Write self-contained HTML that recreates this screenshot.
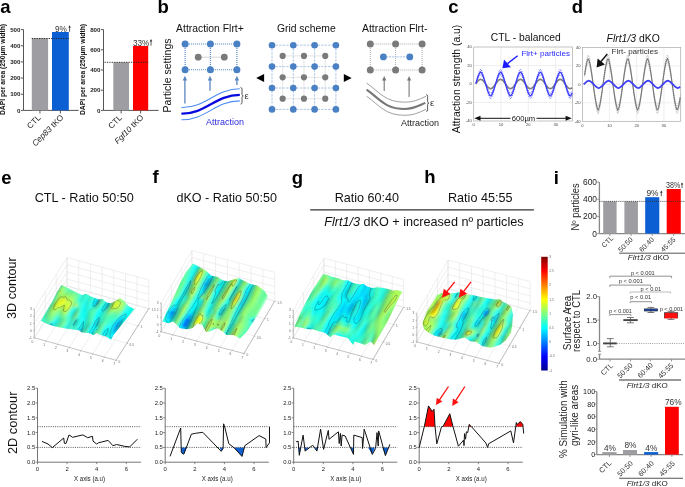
<!DOCTYPE html>
<html><head><meta charset="utf-8"><style>
html,body{margin:0;padding:0;background:#fff;}
svg{display:block;font-family:"Liberation Sans", sans-serif;will-change:transform;}
</style></head><body>
<svg width="685" height="487" viewBox="0 0 685 487">
<defs><filter id="sblur" x="-5%" y="-5%" width="110%" height="110%"><feGaussianBlur stdDeviation="0.85"/></filter><clipPath id="clipe"><path d="M40.9,320.7 L46.0,312.0 L52.0,302.0 L57.0,292.0 L61.4,284.9 L66.0,287.0 L71.6,290.0 L77.0,292.8 L81.8,295.1 L86.2,293.7 L90.5,296.2 L94.9,298.1 L99.3,299.5 L102.2,298.8 L106.6,302.4 L111.0,303.2 L115.4,301.0 L119.8,298.1 L124.1,301.0 L128.5,306.1 L134.4,309.0 L130.0,314.5 L125.6,320.0 L119.5,327.5 L113.9,334.6 L111.0,339.7 L106.6,336.7 L102.5,335.5 L99.3,334.6 L96.4,333.1 L93.5,335.3 L90.5,333.5 L87.6,333.1 L81.8,332.4 L78.9,330.2 L73.0,329.5 L67.2,328.7 L60.0,327.5 L52.6,325.8 L46.0,323.5 Z"/></clipPath><linearGradient id="ge0" gradientUnits="userSpaceOnUse" x1="-0.08" y1="0" x2="1.08" y2="0"><stop offset=".000" stop-color="#1df2d5"/><stop offset=".025" stop-color="#2cf2c5"/><stop offset=".050" stop-color="#38fcc4"/><stop offset=".075" stop-color="#35ffd2"/><stop offset=".100" stop-color="#31e4b3"/><stop offset=".125" stop-color="#47ffb7"/><stop offset=".150" stop-color="#52ee9c"/><stop offset=".175" stop-color="#52ffd2"/><stop offset=".200" stop-color="#20fedd"/><stop offset=".225" stop-color="#1dffe6"/><stop offset=".250" stop-color="#29cfa6"/><stop offset=".275" stop-color="#52f8a6"/><stop offset=".300" stop-color="#63ef8b"/><stop offset=".325" stop-color="#67ffbd"/><stop offset=".350" stop-color="#3affd2"/><stop offset=".375" stop-color="#17fffe"/><stop offset=".400" stop-color="#1fcbab"/><stop offset=".425" stop-color="#55ffb0"/><stop offset=".450" stop-color="#31ffe9"/><stop offset=".475" stop-color="#27fad2"/><stop offset=".500" stop-color="#26ffee"/><stop offset=".525" stop-color="#00ffff"/><stop offset=".550" stop-color="#00bbbf"/><stop offset=".575" stop-color="#31e3b2"/><stop offset=".600" stop-color="#55de88"/><stop offset=".625" stop-color="#58ffcc"/><stop offset=".650" stop-color="#14fffd"/><stop offset=".675" stop-color="#00ffff"/><stop offset=".700" stop-color="#09ccc2"/><stop offset=".725" stop-color="#33e3b0"/><stop offset=".750" stop-color="#5fd97a"/><stop offset=".775" stop-color="#70ffb4"/><stop offset=".800" stop-color="#37ffda"/><stop offset=".825" stop-color="#0fffff"/><stop offset=".850" stop-color="#0fe3d4"/><stop offset=".875" stop-color="#1fffec"/><stop offset=".900" stop-color="#0ffff0"/><stop offset=".925" stop-color="#17fee6"/><stop offset=".950" stop-color="#17fbe4"/><stop offset=".975" stop-color="#19fde4"/><stop offset="1.000" stop-color="#1bfde2"/></linearGradient><linearGradient id="ge1" gradientUnits="userSpaceOnUse" x1="-0.08" y1="0" x2="1.08" y2="0"><stop offset=".000" stop-color="#1af8dd"/><stop offset=".025" stop-color="#25f1cb"/><stop offset=".050" stop-color="#33f8c5"/><stop offset=".075" stop-color="#35ffd0"/><stop offset=".100" stop-color="#33f0bc"/><stop offset=".125" stop-color="#34fcc7"/><stop offset=".150" stop-color="#4ee192"/><stop offset=".175" stop-color="#3effe7"/><stop offset=".200" stop-color="#00dffc"/><stop offset=".225" stop-color="#06e7e1"/><stop offset=".250" stop-color="#1ed6b7"/><stop offset=".275" stop-color="#3cefb2"/><stop offset=".300" stop-color="#5ae086"/><stop offset=".325" stop-color="#71ffad"/><stop offset=".350" stop-color="#50ffc5"/><stop offset=".375" stop-color="#1effff"/><stop offset=".400" stop-color="#1dd0b3"/><stop offset=".425" stop-color="#53ffc0"/><stop offset=".450" stop-color="#2affda"/><stop offset=".475" stop-color="#32f6c4"/><stop offset=".500" stop-color="#2ffff2"/><stop offset=".525" stop-color="#00eaff"/><stop offset=".550" stop-color="#008ebf"/><stop offset=".575" stop-color="#26d2ac"/><stop offset=".600" stop-color="#4ed384"/><stop offset=".625" stop-color="#50ffd4"/><stop offset=".650" stop-color="#08ffff"/><stop offset=".675" stop-color="#00fbff"/><stop offset=".700" stop-color="#13c2af"/><stop offset=".725" stop-color="#40dd9d"/><stop offset=".750" stop-color="#70ea7a"/><stop offset=".775" stop-color="#60ffc4"/><stop offset=".800" stop-color="#20fff8"/><stop offset=".825" stop-color="#00ffff"/><stop offset=".850" stop-color="#0fd8c8"/><stop offset=".875" stop-color="#21fff0"/><stop offset=".900" stop-color="#09fffa"/><stop offset=".925" stop-color="#0cfff4"/><stop offset=".950" stop-color="#0cf9ed"/><stop offset=".975" stop-color="#14f4e0"/><stop offset="1.000" stop-color="#20f5d4"/></linearGradient><linearGradient id="ge2" gradientUnits="userSpaceOnUse" x1="-0.08" y1="0" x2="1.08" y2="0"><stop offset=".000" stop-color="#1bffe3"/><stop offset=".025" stop-color="#20f5d5"/><stop offset=".050" stop-color="#2bf6ca"/><stop offset=".075" stop-color="#32ffce"/><stop offset=".100" stop-color="#39e9af"/><stop offset=".125" stop-color="#3ff6b7"/><stop offset=".150" stop-color="#5adc82"/><stop offset=".175" stop-color="#6cffb8"/><stop offset=".200" stop-color="#3affd9"/><stop offset=".225" stop-color="#19fffe"/><stop offset=".250" stop-color="#19dec5"/><stop offset=".275" stop-color="#2fe7b8"/><stop offset=".300" stop-color="#54d782"/><stop offset=".325" stop-color="#75ff9f"/><stop offset=".350" stop-color="#62ffb9"/><stop offset=".375" stop-color="#26fffe"/><stop offset=".400" stop-color="#1ed5b6"/><stop offset=".425" stop-color="#4fffd6"/><stop offset=".450" stop-color="#19e1c7"/><stop offset=".475" stop-color="#37f0b9"/><stop offset=".500" stop-color="#37ffed"/><stop offset=".525" stop-color="#00fdff"/><stop offset=".550" stop-color="#00a0bf"/><stop offset=".575" stop-color="#21d2b1"/><stop offset=".600" stop-color="#40c584"/><stop offset=".625" stop-color="#43ffe2"/><stop offset=".650" stop-color="#00ffff"/><stop offset=".675" stop-color="#00f2f8"/><stop offset=".700" stop-color="#1dc1a4"/><stop offset=".725" stop-color="#4bd88d"/><stop offset=".750" stop-color="#7dfc7e"/><stop offset=".775" stop-color="#4fffd6"/><stop offset=".800" stop-color="#0bffff"/><stop offset=".825" stop-color="#00eefe"/><stop offset=".850" stop-color="#11d3c2"/><stop offset=".875" stop-color="#1efffe"/><stop offset=".900" stop-color="#00ffff"/><stop offset=".925" stop-color="#00fdfd"/><stop offset=".950" stop-color="#04f7f3"/><stop offset=".975" stop-color="#10eede"/><stop offset="1.000" stop-color="#23efcc"/></linearGradient><linearGradient id="ge3" gradientUnits="userSpaceOnUse" x1="-0.08" y1="0" x2="1.08" y2="0"><stop offset=".000" stop-color="#1cffe6"/><stop offset=".025" stop-color="#1df8db"/><stop offset=".050" stop-color="#27f4cd"/><stop offset=".075" stop-color="#30fbca"/><stop offset=".100" stop-color="#42d795"/><stop offset=".125" stop-color="#5df294"/><stop offset=".150" stop-color="#72eb78"/><stop offset=".175" stop-color="#7effa1"/><stop offset=".200" stop-color="#61ffbc"/><stop offset=".225" stop-color="#27fffd"/><stop offset=".250" stop-color="#1fe2c3"/><stop offset=".275" stop-color="#30e6b6"/><stop offset=".300" stop-color="#55d983"/><stop offset=".325" stop-color="#72ffa0"/><stop offset=".350" stop-color="#65ffb7"/><stop offset=".375" stop-color="#2afff7"/><stop offset=".400" stop-color="#25d6b0"/><stop offset=".425" stop-color="#3fffe5"/><stop offset=".450" stop-color="#09bfb5"/><stop offset=".475" stop-color="#35eeb9"/><stop offset=".500" stop-color="#37ffed"/><stop offset=".525" stop-color="#00ffff"/><stop offset=".550" stop-color="#02d4d2"/><stop offset=".575" stop-color="#22d8b6"/><stop offset=".600" stop-color="#37bf88"/><stop offset=".625" stop-color="#3affea"/><stop offset=".650" stop-color="#01ffff"/><stop offset=".675" stop-color="#00f3fb"/><stop offset=".700" stop-color="#14fff5"/><stop offset=".725" stop-color="#3dbf81"/><stop offset=".750" stop-color="#82ff84"/><stop offset=".775" stop-color="#42ffe2"/><stop offset=".800" stop-color="#04ffff"/><stop offset=".825" stop-color="#00e5f8"/><stop offset=".850" stop-color="#11dac9"/><stop offset=".875" stop-color="#0cffff"/><stop offset=".900" stop-color="#00e4ff"/><stop offset=".925" stop-color="#00e4f1"/><stop offset=".950" stop-color="#02f2ef"/><stop offset=".975" stop-color="#11eddb"/><stop offset="1.000" stop-color="#25f0cb"/></linearGradient><linearGradient id="ge4" gradientUnits="userSpaceOnUse" x1="-0.08" y1="0" x2="1.08" y2="0"><stop offset=".000" stop-color="#1cffe5"/><stop offset=".025" stop-color="#1df8db"/><stop offset=".050" stop-color="#27f3cc"/><stop offset=".075" stop-color="#33f5c2"/><stop offset=".100" stop-color="#4dd285"/><stop offset=".125" stop-color="#6df082"/><stop offset=".150" stop-color="#82f370"/><stop offset=".175" stop-color="#82ff9c"/><stop offset=".200" stop-color="#69ffb4"/><stop offset=".225" stop-color="#36ffe3"/><stop offset=".250" stop-color="#36e3ac"/><stop offset=".275" stop-color="#43eca9"/><stop offset=".300" stop-color="#60ea8a"/><stop offset=".325" stop-color="#66ffb0"/><stop offset=".350" stop-color="#57ffc3"/><stop offset=".375" stop-color="#28ffe6"/><stop offset=".400" stop-color="#36d29b"/><stop offset=".425" stop-color="#3bffea"/><stop offset=".450" stop-color="#04bfba"/><stop offset=".475" stop-color="#2ff2c2"/><stop offset=".500" stop-color="#2dfff4"/><stop offset=".525" stop-color="#00ffff"/><stop offset=".550" stop-color="#0edcce"/><stop offset=".575" stop-color="#26dab4"/><stop offset=".600" stop-color="#36c38c"/><stop offset=".625" stop-color="#36ffee"/><stop offset=".650" stop-color="#09ffff"/><stop offset=".675" stop-color="#00e9f9"/><stop offset=".700" stop-color="#0dffff"/><stop offset=".725" stop-color="#38bf87"/><stop offset=".750" stop-color="#7cff8c"/><stop offset=".775" stop-color="#3fffe5"/><stop offset=".800" stop-color="#0dffff"/><stop offset=".825" stop-color="#00f0fb"/><stop offset=".850" stop-color="#0feddd"/><stop offset=".875" stop-color="#00ffff"/><stop offset=".900" stop-color="#00bbf4"/><stop offset=".925" stop-color="#00c6db"/><stop offset=".950" stop-color="#09eae1"/><stop offset=".975" stop-color="#1af2d8"/><stop offset="1.000" stop-color="#26f8d2"/></linearGradient><linearGradient id="ge5" gradientUnits="userSpaceOnUse" x1="-0.08" y1="0" x2="1.08" y2="0"><stop offset=".000" stop-color="#1dffe1"/><stop offset=".025" stop-color="#20f7d7"/><stop offset=".050" stop-color="#2bf2c7"/><stop offset=".075" stop-color="#38efb6"/><stop offset=".100" stop-color="#59d077"/><stop offset=".125" stop-color="#7cee72"/><stop offset=".150" stop-color="#93fb67"/><stop offset=".175" stop-color="#88ff95"/><stop offset=".200" stop-color="#72ffa5"/><stop offset=".225" stop-color="#4cffba"/><stop offset=".250" stop-color="#59e288"/><stop offset=".275" stop-color="#66f891"/><stop offset=".300" stop-color="#74ff91"/><stop offset=".325" stop-color="#57ffcb"/><stop offset=".350" stop-color="#3fffd7"/><stop offset=".375" stop-color="#23f0cd"/><stop offset=".400" stop-color="#52cb79"/><stop offset=".425" stop-color="#50ffd5"/><stop offset=".450" stop-color="#0cccc0"/><stop offset=".475" stop-color="#25f8d2"/><stop offset=".500" stop-color="#1efffe"/><stop offset=".525" stop-color="#00ffff"/><stop offset=".550" stop-color="#19ddc3"/><stop offset=".575" stop-color="#2edeaf"/><stop offset=".600" stop-color="#41db9a"/><stop offset=".625" stop-color="#32fff2"/><stop offset=".650" stop-color="#00ffff"/><stop offset=".675" stop-color="#00b0c7"/><stop offset=".700" stop-color="#1eccae"/><stop offset=".725" stop-color="#3fd393"/><stop offset=".750" stop-color="#70ff93"/><stop offset=".775" stop-color="#43ffe2"/><stop offset=".800" stop-color="#22fff7"/><stop offset=".825" stop-color="#04ffff"/><stop offset=".850" stop-color="#0dfff8"/><stop offset=".875" stop-color="#00edff"/><stop offset=".900" stop-color="#0094e6"/><stop offset=".925" stop-color="#00abc2"/><stop offset=".950" stop-color="#15e4ce"/><stop offset=".975" stop-color="#25fbd5"/><stop offset="1.000" stop-color="#25ffde"/></linearGradient><linearGradient id="ge6" gradientUnits="userSpaceOnUse" x1="-0.08" y1="0" x2="1.08" y2="0"><stop offset=".000" stop-color="#21fbd9"/><stop offset=".025" stop-color="#26f8d1"/><stop offset=".050" stop-color="#2ff4c4"/><stop offset=".075" stop-color="#3be8ac"/><stop offset=".100" stop-color="#63cd6a"/><stop offset=".125" stop-color="#8bea5e"/><stop offset=".150" stop-color="#aaff57"/><stop offset=".175" stop-color="#96ff85"/><stop offset=".200" stop-color="#82ff90"/><stop offset=".225" stop-color="#65f58f"/><stop offset=".250" stop-color="#81e260"/><stop offset=".275" stop-color="#93ff71"/><stop offset=".300" stop-color="#90ff92"/><stop offset=".325" stop-color="#47ffdd"/><stop offset=".350" stop-color="#29ffec"/><stop offset=".375" stop-color="#1dd2b4"/><stop offset=".400" stop-color="#6bc65b"/><stop offset=".425" stop-color="#66ffbe"/><stop offset=".450" stop-color="#18fbe3"/><stop offset=".475" stop-color="#1afde3"/><stop offset=".500" stop-color="#12ffff"/><stop offset=".525" stop-color="#04f0ec"/><stop offset=".550" stop-color="#27dfb8"/><stop offset=".575" stop-color="#38e4ab"/><stop offset=".600" stop-color="#4df8ab"/><stop offset=".625" stop-color="#2bfffa"/><stop offset=".650" stop-color="#00ffff"/><stop offset=".675" stop-color="#00a5bf"/><stop offset=".700" stop-color="#26dbb4"/><stop offset=".725" stop-color="#39dba2"/><stop offset=".750" stop-color="#63ff9c"/><stop offset=".775" stop-color="#45ffd7"/><stop offset=".800" stop-color="#37ffde"/><stop offset=".825" stop-color="#17fff3"/><stop offset=".850" stop-color="#0fffff"/><stop offset=".875" stop-color="#00d3ff"/><stop offset=".900" stop-color="#007bda"/><stop offset=".925" stop-color="#00a7bf"/><stop offset=".950" stop-color="#1fe2c2"/><stop offset=".975" stop-color="#2effd6"/><stop offset="1.000" stop-color="#20ffed"/></linearGradient><linearGradient id="ge7" gradientUnits="userSpaceOnUse" x1="-0.08" y1="0" x2="1.08" y2="0"><stop offset=".000" stop-color="#2bface"/><stop offset=".025" stop-color="#2ffdce"/><stop offset=".050" stop-color="#31f8c7"/><stop offset=".075" stop-color="#39e0a6"/><stop offset=".100" stop-color="#69cb61"/><stop offset=".125" stop-color="#97e048"/><stop offset=".150" stop-color="#c5ff3e"/><stop offset=".175" stop-color="#afff69"/><stop offset=".200" stop-color="#9dff75"/><stop offset=".225" stop-color="#7de96c"/><stop offset=".250" stop-color="#a6e43e"/><stop offset=".275" stop-color="#bdff4f"/><stop offset=".300" stop-color="#a2ff83"/><stop offset=".325" stop-color="#42ffe3"/><stop offset=".350" stop-color="#1dfff9"/><stop offset=".375" stop-color="#19c6ac"/><stop offset=".400" stop-color="#6eca5b"/><stop offset=".425" stop-color="#65ffbf"/><stop offset=".450" stop-color="#18fff7"/><stop offset=".475" stop-color="#11fceb"/><stop offset=".500" stop-color="#0dfffc"/><stop offset=".525" stop-color="#0ee3d4"/><stop offset=".550" stop-color="#37e6ae"/><stop offset=".575" stop-color="#42edaa"/><stop offset=".600" stop-color="#52ffbf"/><stop offset=".625" stop-color="#1dfffe"/><stop offset=".650" stop-color="#02ffff"/><stop offset=".675" stop-color="#00babf"/><stop offset=".700" stop-color="#2feebe"/><stop offset=".725" stop-color="#35dfaa"/><stop offset=".750" stop-color="#5affa7"/><stop offset=".775" stop-color="#41ffca"/><stop offset=".800" stop-color="#44ffcc"/><stop offset=".825" stop-color="#29ffe2"/><stop offset=".850" stop-color="#18ffff"/><stop offset=".875" stop-color="#00cfff"/><stop offset=".900" stop-color="#0078d5"/><stop offset=".925" stop-color="#00aebf"/><stop offset=".950" stop-color="#25e9c3"/><stop offset=".975" stop-color="#2cffdf"/><stop offset="1.000" stop-color="#17fffa"/></linearGradient><linearGradient id="ge8" gradientUnits="userSpaceOnUse" x1="-0.08" y1="0" x2="1.08" y2="0"><stop offset=".000" stop-color="#39fdc4"/><stop offset=".025" stop-color="#36ffcf"/><stop offset=".050" stop-color="#2fffcf"/><stop offset=".075" stop-color="#33d8a4"/><stop offset=".100" stop-color="#6dd062"/><stop offset=".125" stop-color="#9cd337"/><stop offset=".150" stop-color="#dfff23"/><stop offset=".175" stop-color="#cbff47"/><stop offset=".200" stop-color="#bfff58"/><stop offset=".225" stop-color="#94e753"/><stop offset=".250" stop-color="#bfea2b"/><stop offset=".275" stop-color="#dcff33"/><stop offset=".300" stop-color="#b1ff73"/><stop offset=".325" stop-color="#49ffdb"/><stop offset=".350" stop-color="#1ffffb"/><stop offset=".375" stop-color="#18cdb4"/><stop offset=".400" stop-color="#60d979"/><stop offset=".425" stop-color="#51ffd4"/><stop offset=".450" stop-color="#0effff"/><stop offset=".475" stop-color="#0df5e8"/><stop offset=".500" stop-color="#12ffef"/><stop offset=".525" stop-color="#1bdbbf"/><stop offset=".550" stop-color="#47f0a8"/><stop offset=".575" stop-color="#4af6ac"/><stop offset=".600" stop-color="#4dffd5"/><stop offset=".625" stop-color="#0fffff"/><stop offset=".650" stop-color="#10fff9"/><stop offset=".675" stop-color="#11dbc9"/><stop offset=".700" stop-color="#39f7be"/><stop offset=".725" stop-color="#39e2a9"/><stop offset=".750" stop-color="#59ffb0"/><stop offset=".775" stop-color="#3bffc4"/><stop offset=".800" stop-color="#47ffc3"/><stop offset=".825" stop-color="#34ffce"/><stop offset=".850" stop-color="#2bfff9"/><stop offset=".875" stop-color="#00e3ff"/><stop offset=".900" stop-color="#008bda"/><stop offset=".925" stop-color="#00b6bf"/><stop offset=".950" stop-color="#23f5d1"/><stop offset=".975" stop-color="#20ffec"/><stop offset="1.000" stop-color="#0cffff"/></linearGradient><linearGradient id="ge9" gradientUnits="userSpaceOnUse" x1="-0.08" y1="0" x2="1.08" y2="0"><stop offset=".000" stop-color="#45ffbd"/><stop offset=".025" stop-color="#3bffd1"/><stop offset=".050" stop-color="#2bffd8"/><stop offset=".075" stop-color="#2dd2a4"/><stop offset=".100" stop-color="#71e06e"/><stop offset=".125" stop-color="#9ece30"/><stop offset=".150" stop-color="#eafd12"/><stop offset=".175" stop-color="#dcff28"/><stop offset=".200" stop-color="#e6ff38"/><stop offset=".225" stop-color="#aaf147"/><stop offset=".250" stop-color="#cdf527"/><stop offset=".275" stop-color="#e4ff29"/><stop offset=".300" stop-color="#b9ff6b"/><stop offset=".325" stop-color="#5bffc7"/><stop offset=".350" stop-color="#45ffdb"/><stop offset=".375" stop-color="#1fe5c6"/><stop offset=".400" stop-color="#50ea9a"/><stop offset=".425" stop-color="#36ffee"/><stop offset=".450" stop-color="#05fffd"/><stop offset=".475" stop-color="#10eddd"/><stop offset=".500" stop-color="#1afee3"/><stop offset=".525" stop-color="#26dab4"/><stop offset=".550" stop-color="#50faa9"/><stop offset=".575" stop-color="#4dfbae"/><stop offset=".600" stop-color="#45ffdf"/><stop offset=".625" stop-color="#05ffff"/><stop offset=".650" stop-color="#0df8eb"/><stop offset=".675" stop-color="#19dec5"/><stop offset=".700" stop-color="#42f9b7"/><stop offset=".725" stop-color="#44e29d"/><stop offset=".750" stop-color="#62ffb1"/><stop offset=".775" stop-color="#3cfbbe"/><stop offset=".800" stop-color="#48ffc0"/><stop offset=".825" stop-color="#3df7b9"/><stop offset=".850" stop-color="#45ffdf"/><stop offset=".875" stop-color="#00ffff"/><stop offset=".900" stop-color="#00b2ed"/><stop offset=".925" stop-color="#00c1c9"/><stop offset=".950" stop-color="#16fbe4"/><stop offset=".975" stop-color="#10fff9"/><stop offset="1.000" stop-color="#05fffc"/></linearGradient><linearGradient id="ge10" gradientUnits="userSpaceOnUse" x1="-0.08" y1="0" x2="1.08" y2="0"><stop offset=".000" stop-color="#48ffbd"/><stop offset=".025" stop-color="#3bffd3"/><stop offset=".050" stop-color="#2bffd8"/><stop offset=".075" stop-color="#2dcea0"/><stop offset=".100" stop-color="#77f57d"/><stop offset=".125" stop-color="#9ed536"/><stop offset=".150" stop-color="#e4f814"/><stop offset=".175" stop-color="#d5f01a"/><stop offset=".200" stop-color="#ffff21"/><stop offset=".225" stop-color="#bafe44"/><stop offset=".250" stop-color="#d0ff33"/><stop offset=".275" stop-color="#d1ff36"/><stop offset=".300" stop-color="#b7ff6d"/><stop offset=".325" stop-color="#5ee081"/><stop offset=".350" stop-color="#dbff46"/><stop offset=".375" stop-color="#3dffe8"/><stop offset=".400" stop-color="#44f9b4"/><stop offset=".425" stop-color="#21ffff"/><stop offset=".450" stop-color="#04f5f0"/><stop offset=".475" stop-color="#19ead1"/><stop offset=".500" stop-color="#22ffe0"/><stop offset=".525" stop-color="#27e6be"/><stop offset=".550" stop-color="#45f8b2"/><stop offset=".575" stop-color="#4cf6aa"/><stop offset=".600" stop-color="#45ffdf"/><stop offset=".625" stop-color="#04ffff"/><stop offset=".650" stop-color="#08fdf5"/><stop offset=".675" stop-color="#15d4bf"/><stop offset=".700" stop-color="#45f4af"/><stop offset=".725" stop-color="#52da87"/><stop offset=".750" stop-color="#78ffa1"/><stop offset=".775" stop-color="#4bf9ad"/><stop offset=".800" stop-color="#53ffb7"/><stop offset=".825" stop-color="#49eda3"/><stop offset=".850" stop-color="#61ffbc"/><stop offset=".875" stop-color="#11ffff"/><stop offset=".900" stop-color="#00e6ff"/><stop offset=".925" stop-color="#00d9e2"/><stop offset=".950" stop-color="#08fcf4"/><stop offset=".975" stop-color="#05fffc"/><stop offset="1.000" stop-color="#06f9f3"/></linearGradient><linearGradient id="ge11" gradientUnits="userSpaceOnUse" x1="-0.08" y1="0" x2="1.08" y2="0"><stop offset=".000" stop-color="#3effc7"/><stop offset=".025" stop-color="#35ffd1"/><stop offset=".050" stop-color="#2efecf"/><stop offset=".075" stop-color="#34ca96"/><stop offset=".100" stop-color="#82ff82"/><stop offset=".125" stop-color="#92d543"/><stop offset=".150" stop-color="#d0fd2c"/><stop offset=".175" stop-color="#bce327"/><stop offset=".200" stop-color="#f2ff2c"/><stop offset=".225" stop-color="#b4ff4c"/><stop offset=".250" stop-color="#c7ff4a"/><stop offset=".275" stop-color="#b3ff4e"/><stop offset=".300" stop-color="#aaff7a"/><stop offset=".325" stop-color="#62f491"/><stop offset=".350" stop-color="#8dff97"/><stop offset=".375" stop-color="#2effdd"/><stop offset=".400" stop-color="#3dffc4"/><stop offset=".425" stop-color="#17ffff"/><stop offset=".450" stop-color="#0ce9dd"/><stop offset=".475" stop-color="#26efc9"/><stop offset=".500" stop-color="#24ffeb"/><stop offset=".525" stop-color="#16fff3"/><stop offset=".550" stop-color="#18dac1"/><stop offset=".575" stop-color="#46e49d"/><stop offset=".600" stop-color="#50ffd4"/><stop offset=".625" stop-color="#10fff9"/><stop offset=".650" stop-color="#00ffff"/><stop offset=".675" stop-color="#04bfba"/><stop offset=".700" stop-color="#41eaa8"/><stop offset=".725" stop-color="#5dca6c"/><stop offset=".750" stop-color="#99ff7e"/><stop offset=".775" stop-color="#6cf78b"/><stop offset=".800" stop-color="#70ffa0"/><stop offset=".825" stop-color="#5eeb8d"/><stop offset=".850" stop-color="#7cff9d"/><stop offset=".875" stop-color="#39ffeb"/><stop offset=".900" stop-color="#02ffff"/><stop offset=".925" stop-color="#00f1f5"/><stop offset=".950" stop-color="#02fdfa"/><stop offset=".975" stop-color="#05faf5"/><stop offset="1.000" stop-color="#0df5e7"/></linearGradient><linearGradient id="ge12" gradientUnits="userSpaceOnUse" x1="-0.08" y1="0" x2="1.08" y2="0"><stop offset=".000" stop-color="#2bffd5"/><stop offset=".025" stop-color="#2cf8cc"/><stop offset=".050" stop-color="#35f4be"/><stop offset=".075" stop-color="#3fc283"/><stop offset=".100" stop-color="#99ff78"/><stop offset=".125" stop-color="#89e45b"/><stop offset=".150" stop-color="#b1ff53"/><stop offset=".175" stop-color="#9be246"/><stop offset=".200" stop-color="#c2ff51"/><stop offset=".225" stop-color="#9bf65a"/><stop offset=".250" stop-color="#b3ff66"/><stop offset=".275" stop-color="#97ff67"/><stop offset=".300" stop-color="#96ff8e"/><stop offset=".325" stop-color="#5effa9"/><stop offset=".350" stop-color="#3fffe5"/><stop offset=".375" stop-color="#20ebcb"/><stop offset=".400" stop-color="#3affca"/><stop offset=".425" stop-color="#18ffff"/><stop offset=".450" stop-color="#1ae3c8"/><stop offset=".475" stop-color="#35fbc6"/><stop offset=".500" stop-color="#1effff"/><stop offset=".525" stop-color="#00ffff"/><stop offset=".550" stop-color="#00a4bf"/><stop offset=".575" stop-color="#3ec98b"/><stop offset=".600" stop-color="#61ffc4"/><stop offset=".625" stop-color="#23ffec"/><stop offset=".650" stop-color="#00ffff"/><stop offset=".675" stop-color="#00a5bf"/><stop offset=".700" stop-color="#36d9a2"/><stop offset=".725" stop-color="#67bf57"/><stop offset=".750" stop-color="#baff53"/><stop offset=".775" stop-color="#98f55c"/><stop offset=".800" stop-color="#9dff7c"/><stop offset=".825" stop-color="#7bf276"/><stop offset=".850" stop-color="#96ff85"/><stop offset=".875" stop-color="#57ffcd"/><stop offset=".900" stop-color="#1effff"/><stop offset=".925" stop-color="#05fffb"/><stop offset=".950" stop-color="#06fbf5"/><stop offset=".975" stop-color="#0df4e7"/><stop offset="1.000" stop-color="#19f6dc"/></linearGradient><linearGradient id="ge13" gradientUnits="userSpaceOnUse" x1="-0.08" y1="0" x2="1.08" y2="0"><stop offset=".000" stop-color="#18fae1"/><stop offset=".025" stop-color="#25ebc6"/><stop offset=".050" stop-color="#3becb0"/><stop offset=".075" stop-color="#4bbf73"/><stop offset=".100" stop-color="#b8ff5f"/><stop offset=".125" stop-color="#93fa66"/><stop offset=".150" stop-color="#9bff7d"/><stop offset=".175" stop-color="#7be56a"/><stop offset=".200" stop-color="#93ff77"/><stop offset=".225" stop-color="#81ed6c"/><stop offset=".250" stop-color="#99ff81"/><stop offset=".275" stop-color="#81fd7c"/><stop offset=".300" stop-color="#80ffa3"/><stop offset=".325" stop-color="#54ffaf"/><stop offset=".350" stop-color="#35ffef"/><stop offset=".375" stop-color="#20e5c4"/><stop offset=".400" stop-color="#3dffc9"/><stop offset=".425" stop-color="#1ffff1"/><stop offset=".450" stop-color="#29e2b9"/><stop offset=".475" stop-color="#41ffc8"/><stop offset=".500" stop-color="#14ffff"/><stop offset=".525" stop-color="#00f6ff"/><stop offset=".550" stop-color="#008dbf"/><stop offset=".575" stop-color="#3bbf83"/><stop offset=".600" stop-color="#6dffb7"/><stop offset=".625" stop-color="#37ffdc"/><stop offset=".650" stop-color="#00fbff"/><stop offset=".675" stop-color="#0099bf"/><stop offset=".700" stop-color="#2eca9b"/><stop offset=".725" stop-color="#74bf4b"/><stop offset=".750" stop-color="#d1ff32"/><stop offset=".775" stop-color="#c0f333"/><stop offset=".800" stop-color="#caff58"/><stop offset=".825" stop-color="#97fd66"/><stop offset=".850" stop-color="#a8ff76"/><stop offset=".875" stop-color="#5fffc5"/><stop offset=".900" stop-color="#33fff2"/><stop offset=".925" stop-color="#10fff5"/><stop offset=".950" stop-color="#0ef9ea"/><stop offset=".975" stop-color="#19f2d9"/><stop offset="1.000" stop-color="#25fad4"/></linearGradient><linearGradient id="ge14" gradientUnits="userSpaceOnUse" x1="-0.08" y1="0" x2="1.08" y2="0"><stop offset=".000" stop-color="#0ef5e7"/><stop offset=".025" stop-color="#21e5c4"/><stop offset=".050" stop-color="#3ceaad"/><stop offset=".075" stop-color="#50bf6f"/><stop offset=".100" stop-color="#beff57"/><stop offset=".125" stop-color="#98ff6d"/><stop offset=".150" stop-color="#88ff9c"/><stop offset=".175" stop-color="#64ed88"/><stop offset=".200" stop-color="#6eff98"/><stop offset=".225" stop-color="#67e880"/><stop offset=".250" stop-color="#7cff98"/><stop offset=".275" stop-color="#6dfa8c"/><stop offset=".300" stop-color="#6dffb3"/><stop offset=".325" stop-color="#4cffb7"/><stop offset=".350" stop-color="#2fffef"/><stop offset=".375" stop-color="#24e0bb"/><stop offset=".400" stop-color="#42ffc6"/><stop offset=".425" stop-color="#24ffe5"/><stop offset=".450" stop-color="#32e4b2"/><stop offset=".475" stop-color="#46ffce"/><stop offset=".500" stop-color="#0bffff"/><stop offset=".525" stop-color="#00ffff"/><stop offset=".550" stop-color="#00a1bf"/><stop offset=".575" stop-color="#3bbf84"/><stop offset=".600" stop-color="#6cffb6"/><stop offset=".625" stop-color="#3effd0"/><stop offset=".650" stop-color="#04ffff"/><stop offset=".675" stop-color="#00b6bf"/><stop offset=".700" stop-color="#2fc494"/><stop offset=".725" stop-color="#7bbf43"/><stop offset=".750" stop-color="#d9ff26"/><stop offset=".775" stop-color="#d3f521"/><stop offset=".800" stop-color="#ddff47"/><stop offset=".825" stop-color="#a1ff64"/><stop offset=".850" stop-color="#abff73"/><stop offset=".875" stop-color="#47ffdd"/><stop offset=".900" stop-color="#40ffe5"/><stop offset=".925" stop-color="#1affed"/><stop offset=".950" stop-color="#17fae2"/><stop offset=".975" stop-color="#21f3d2"/><stop offset="1.000" stop-color="#2cfcd0"/></linearGradient><linearGradient id="ge15" gradientUnits="userSpaceOnUse" x1="-0.08" y1="0" x2="1.08" y2="0"><stop offset=".000" stop-color="#0ff4e4"/><stop offset=".025" stop-color="#21e9c7"/><stop offset=".050" stop-color="#38efb7"/><stop offset=".075" stop-color="#48bf76"/><stop offset=".100" stop-color="#9cff7c"/><stop offset=".125" stop-color="#73ff8d"/><stop offset=".150" stop-color="#6effad"/><stop offset=".175" stop-color="#58f9a1"/><stop offset=".200" stop-color="#51ffba"/><stop offset=".225" stop-color="#4ee496"/><stop offset=".250" stop-color="#5fffaa"/><stop offset=".275" stop-color="#5ff595"/><stop offset=".300" stop-color="#5fffbd"/><stop offset=".325" stop-color="#48ffbd"/><stop offset=".350" stop-color="#2bffeb"/><stop offset=".375" stop-color="#2adbb0"/><stop offset=".400" stop-color="#49ffc6"/><stop offset=".425" stop-color="#25ffe4"/><stop offset=".450" stop-color="#31e8b6"/><stop offset=".475" stop-color="#41ffd6"/><stop offset=".500" stop-color="#09ffff"/><stop offset=".525" stop-color="#00f2fc"/><stop offset=".550" stop-color="#01d1d0"/><stop offset=".575" stop-color="#3dcd8f"/><stop offset=".600" stop-color="#5cffc8"/><stop offset=".625" stop-color="#36ffd0"/><stop offset=".650" stop-color="#22fff5"/><stop offset=".675" stop-color="#18e2c9"/><stop offset=".700" stop-color="#38c68d"/><stop offset=".725" stop-color="#7dbf42"/><stop offset=".750" stop-color="#d1ff36"/><stop offset=".775" stop-color="#cafa30"/><stop offset=".800" stop-color="#caff58"/><stop offset=".825" stop-color="#93ff73"/><stop offset=".850" stop-color="#9cff7c"/><stop offset=".875" stop-color="#63ffc0"/><stop offset=".900" stop-color="#44ffdd"/><stop offset=".925" stop-color="#23ffe5"/><stop offset=".950" stop-color="#1cfde1"/><stop offset=".975" stop-color="#21f6d5"/><stop offset="1.000" stop-color="#2afcd2"/></linearGradient><linearGradient id="ge16" gradientUnits="userSpaceOnUse" x1="-0.08" y1="0" x2="1.08" y2="0"><stop offset=".000" stop-color="#1af7dc"/><stop offset=".025" stop-color="#24f5d0"/><stop offset=".050" stop-color="#2ef9cb"/><stop offset=".075" stop-color="#3ec98b"/><stop offset=".100" stop-color="#72ff8e"/><stop offset=".125" stop-color="#6ff586"/><stop offset=".150" stop-color="#72ffad"/><stop offset=".175" stop-color="#57ffb4"/><stop offset=".200" stop-color="#39ffdb"/><stop offset=".225" stop-color="#37e0a8"/><stop offset=".250" stop-color="#48fcb3"/><stop offset=".275" stop-color="#57f098"/><stop offset=".300" stop-color="#59ffc2"/><stop offset=".325" stop-color="#46ffc2"/><stop offset=".350" stop-color="#2affe5"/><stop offset=".375" stop-color="#32d7a5"/><stop offset=".400" stop-color="#51ffc7"/><stop offset=".425" stop-color="#23ffe9"/><stop offset=".450" stop-color="#2aedc3"/><stop offset=".475" stop-color="#34ffe0"/><stop offset=".500" stop-color="#0affff"/><stop offset=".525" stop-color="#0ce7da"/><stop offset=".550" stop-color="#1be7cb"/><stop offset=".575" stop-color="#41e4a2"/><stop offset=".600" stop-color="#40ffe4"/><stop offset=".625" stop-color="#23feda"/><stop offset=".650" stop-color="#22fedc"/><stop offset=".675" stop-color="#2edeb0"/><stop offset=".700" stop-color="#48d088"/><stop offset=".725" stop-color="#81cd4c"/><stop offset=".750" stop-color="#b6ff5f"/><stop offset=".775" stop-color="#a5ff5a"/><stop offset=".800" stop-color="#9aff7f"/><stop offset=".825" stop-color="#76ff88"/><stop offset=".850" stop-color="#84ff8e"/><stop offset=".875" stop-color="#5fffb8"/><stop offset=".900" stop-color="#42ffd8"/><stop offset=".925" stop-color="#28ffe0"/><stop offset=".950" stop-color="#1effe4"/><stop offset=".975" stop-color="#1cfcdf"/><stop offset="1.000" stop-color="#21fad8"/></linearGradient><linearGradient id="ge17" gradientUnits="userSpaceOnUse" x1="-0.08" y1="0" x2="1.08" y2="0"><stop offset=".000" stop-color="#28fad2"/><stop offset=".025" stop-color="#29ffd8"/><stop offset=".050" stop-color="#23ffe1"/><stop offset=".075" stop-color="#32cf9d"/><stop offset=".100" stop-color="#58ec93"/><stop offset=".125" stop-color="#70ec7c"/><stop offset=".150" stop-color="#79ffaa"/><stop offset=".175" stop-color="#57ffc5"/><stop offset=".200" stop-color="#25fff4"/><stop offset=".225" stop-color="#28dab2"/><stop offset=".250" stop-color="#3deeb0"/><stop offset=".275" stop-color="#58ef96"/><stop offset=".300" stop-color="#57ffc6"/><stop offset=".325" stop-color="#43ffcc"/><stop offset=".350" stop-color="#25ffe1"/><stop offset=".375" stop-color="#37d39b"/><stop offset=".400" stop-color="#59ffc7"/><stop offset=".425" stop-color="#20fff0"/><stop offset=".450" stop-color="#20f4d4"/><stop offset=".475" stop-color="#24ffeb"/><stop offset=".500" stop-color="#0bfff8"/><stop offset=".525" stop-color="#1fddbe"/><stop offset=".550" stop-color="#30f0c0"/><stop offset=".575" stop-color="#47fcb5"/><stop offset=".600" stop-color="#24ffff"/><stop offset=".625" stop-color="#10f7e7"/><stop offset=".650" stop-color="#1beed2"/><stop offset=".675" stop-color="#3ad398"/><stop offset=".700" stop-color="#57dc85"/><stop offset=".725" stop-color="#87ea63"/><stop offset=".750" stop-color="#8eff96"/><stop offset=".775" stop-color="#74ff8e"/><stop offset=".800" stop-color="#65ffa6"/><stop offset=".825" stop-color="#5bf498"/><stop offset=".850" stop-color="#6bffa5"/><stop offset=".875" stop-color="#4cffc1"/><stop offset=".900" stop-color="#39ffd8"/><stop offset=".925" stop-color="#2affdb"/><stop offset=".950" stop-color="#20ffe7"/><stop offset=".975" stop-color="#17ffeb"/><stop offset="1.000" stop-color="#17f9e2"/></linearGradient><clipPath id="clipf"><path d="M162.3,321.5 L167.0,311.0 L172.0,301.0 L175.1,294.2 L180.0,283.0 L186.0,272.0 L193.0,263.4 L199.0,266.8 L204.1,269.4 L207.5,272.0 L211.0,275.4 L214.4,276.2 L217.8,277.1 L222.9,280.5 L228.0,281.3 L233.1,279.6 L238.3,277.9 L243.4,280.5 L250.2,283.9 L257.1,285.6 L262.2,289.0 L265.6,292.5 L268.2,296.7 L269.0,299.3 L264.5,305.5 L260.5,311.2 L253.6,321.5 L246.8,331.7 L240.0,338.6 L236.5,336.5 L233.1,335.1 L226.3,335.1 L222.9,331.7 L217.8,328.3 L214.4,329.2 L209.2,331.7 L205.8,331.7 L202.4,324.9 L197.3,323.2 L194.5,326.0 L192.2,328.3 L187.0,329.2 L180.2,328.3 L176.8,324.9 L173.4,321.5 L168.2,323.2 Z"/></clipPath><linearGradient id="gf0" gradientUnits="userSpaceOnUse" x1="-0.08" y1="0" x2="1.08" y2="0"><stop offset=".000" stop-color="#80f676"/><stop offset=".025" stop-color="#84ff94"/><stop offset=".050" stop-color="#5effb9"/><stop offset=".075" stop-color="#4cffc7"/><stop offset=".100" stop-color="#24ffe3"/><stop offset=".125" stop-color="#1dffff"/><stop offset=".150" stop-color="#09e0d6"/><stop offset=".175" stop-color="#40de9d"/><stop offset=".200" stop-color="#5dbf62"/><stop offset=".225" stop-color="#adff77"/><stop offset=".250" stop-color="#5fffb9"/><stop offset=".275" stop-color="#34fff0"/><stop offset=".300" stop-color="#09fffd"/><stop offset=".325" stop-color="#00ffff"/><stop offset=".350" stop-color="#05bfba"/><stop offset=".375" stop-color="#33c995"/><stop offset=".400" stop-color="#81cc4a"/><stop offset=".425" stop-color="#94ff90"/><stop offset=".450" stop-color="#5effc4"/><stop offset=".475" stop-color="#0affff"/><stop offset=".500" stop-color="#1ec8aa"/><stop offset=".525" stop-color="#38e3ab"/><stop offset=".550" stop-color="#6bc156"/><stop offset=".575" stop-color="#90ff94"/><stop offset=".600" stop-color="#5cffc8"/><stop offset=".625" stop-color="#00ffff"/><stop offset=".650" stop-color="#1abfa4"/><stop offset=".675" stop-color="#51ce7d"/><stop offset=".700" stop-color="#9bdf43"/><stop offset=".725" stop-color="#9aff8b"/><stop offset=".750" stop-color="#62ffc3"/><stop offset=".775" stop-color="#0bffff"/><stop offset=".800" stop-color="#2abf94"/><stop offset=".825" stop-color="#5ee687"/><stop offset=".850" stop-color="#85cd48"/><stop offset=".875" stop-color="#bfff5e"/><stop offset=".900" stop-color="#9eff85"/><stop offset=".925" stop-color="#5dffbc"/><stop offset=".950" stop-color="#51ed9c"/><stop offset=".975" stop-color="#68eb82"/><stop offset="1.000" stop-color="#7cff87"/></linearGradient><linearGradient id="gf1" gradientUnits="userSpaceOnUse" x1="-0.08" y1="0" x2="1.08" y2="0"><stop offset=".000" stop-color="#77f981"/><stop offset=".025" stop-color="#7aff94"/><stop offset=".050" stop-color="#63ffae"/><stop offset=".075" stop-color="#53ffc8"/><stop offset=".100" stop-color="#1dfff0"/><stop offset=".125" stop-color="#15ffff"/><stop offset=".150" stop-color="#03ede9"/><stop offset=".175" stop-color="#26ecc5"/><stop offset=".200" stop-color="#4cbf72"/><stop offset=".225" stop-color="#a4ff80"/><stop offset=".250" stop-color="#56ffcf"/><stop offset=".275" stop-color="#07ffff"/><stop offset=".300" stop-color="#00d5ff"/><stop offset=".325" stop-color="#00b0ff"/><stop offset=".350" stop-color="#00acbf"/><stop offset=".375" stop-color="#26c099"/><stop offset=".400" stop-color="#77c24a"/><stop offset=".425" stop-color="#9eff87"/><stop offset=".450" stop-color="#6dffb7"/><stop offset=".475" stop-color="#09ffff"/><stop offset=".500" stop-color="#15c9b4"/><stop offset=".525" stop-color="#33d7a4"/><stop offset=".550" stop-color="#76bf48"/><stop offset=".575" stop-color="#c2ff62"/><stop offset=".600" stop-color="#61ffc3"/><stop offset=".625" stop-color="#04ffff"/><stop offset=".650" stop-color="#1dbfa1"/><stop offset=".675" stop-color="#4ed587"/><stop offset=".700" stop-color="#8fd444"/><stop offset=".725" stop-color="#a6ff7f"/><stop offset=".750" stop-color="#70ffb4"/><stop offset=".775" stop-color="#08ffff"/><stop offset=".800" stop-color="#22bf9c"/><stop offset=".825" stop-color="#57de86"/><stop offset=".850" stop-color="#83c541"/><stop offset=".875" stop-color="#c9ff5b"/><stop offset=".900" stop-color="#a0ff7e"/><stop offset=".925" stop-color="#66ffb3"/><stop offset=".950" stop-color="#55f8a3"/><stop offset=".975" stop-color="#5ff090"/><stop offset="1.000" stop-color="#70f988"/></linearGradient><linearGradient id="gf2" gradientUnits="userSpaceOnUse" x1="-0.08" y1="0" x2="1.08" y2="0"><stop offset=".000" stop-color="#68fe96"/><stop offset=".025" stop-color="#68ff9a"/><stop offset=".050" stop-color="#61ffac"/><stop offset=".075" stop-color="#4effd7"/><stop offset=".100" stop-color="#02ffff"/><stop offset=".125" stop-color="#00ffff"/><stop offset=".150" stop-color="#00d4dc"/><stop offset=".175" stop-color="#28e8bf"/><stop offset=".200" stop-color="#49bf75"/><stop offset=".225" stop-color="#9fff83"/><stop offset=".250" stop-color="#4affda"/><stop offset=".275" stop-color="#00f8ff"/><stop offset=".300" stop-color="#0086ff"/><stop offset=".325" stop-color="#005cef"/><stop offset=".350" stop-color="#0090bf"/><stop offset=".375" stop-color="#1dbfa1"/><stop offset=".400" stop-color="#79bf45"/><stop offset=".425" stop-color="#bfff66"/><stop offset=".450" stop-color="#9eff86"/><stop offset=".475" stop-color="#29fffc"/><stop offset=".500" stop-color="#1ad5ba"/><stop offset=".525" stop-color="#34cf9b"/><stop offset=".550" stop-color="#80bf3e"/><stop offset=".575" stop-color="#d0ff55"/><stop offset=".600" stop-color="#7eff9c"/><stop offset=".625" stop-color="#34fff1"/><stop offset=".650" stop-color="#39bf85"/><stop offset=".675" stop-color="#5bee93"/><stop offset=".700" stop-color="#86cb45"/><stop offset=".725" stop-color="#b4ff70"/><stop offset=".750" stop-color="#82ffa2"/><stop offset=".775" stop-color="#07ffff"/><stop offset=".800" stop-color="#19bfa5"/><stop offset=".825" stop-color="#4fd485"/><stop offset=".850" stop-color="#85c53f"/><stop offset=".875" stop-color="#c9ff5b"/><stop offset=".900" stop-color="#a1ff75"/><stop offset=".925" stop-color="#74ffa6"/><stop offset=".950" stop-color="#5dffaa"/><stop offset=".975" stop-color="#55f8a3"/><stop offset="1.000" stop-color="#60ed8d"/></linearGradient><linearGradient id="gf3" gradientUnits="userSpaceOnUse" x1="-0.08" y1="0" x2="1.08" y2="0"><stop offset=".000" stop-color="#5affab"/><stop offset=".025" stop-color="#55ffaa"/><stop offset=".050" stop-color="#50ffc5"/><stop offset=".075" stop-color="#1effff"/><stop offset=".100" stop-color="#00d9ff"/><stop offset=".125" stop-color="#00b6fe"/><stop offset=".150" stop-color="#00a0bf"/><stop offset=".175" stop-color="#2ad8ad"/><stop offset=".200" stop-color="#4bbf73"/><stop offset=".225" stop-color="#a0ff78"/><stop offset=".250" stop-color="#5cffc9"/><stop offset=".275" stop-color="#00ffff"/><stop offset=".300" stop-color="#0085ff"/><stop offset=".325" stop-color="#005ae8"/><stop offset=".350" stop-color="#0095bf"/><stop offset=".375" stop-color="#23bf9b"/><stop offset=".400" stop-color="#89bf35"/><stop offset=".425" stop-color="#e6ff1a"/><stop offset=".450" stop-color="#ffff0f"/><stop offset=".475" stop-color="#93ff91"/><stop offset=".500" stop-color="#4ef8aa"/><stop offset=".525" stop-color="#49da90"/><stop offset=".550" stop-color="#87bf37"/><stop offset=".575" stop-color="#cdff57"/><stop offset=".600" stop-color="#acf94d"/><stop offset=".625" stop-color="#96ff81"/><stop offset=".650" stop-color="#8edf50"/><stop offset=".675" stop-color="#8cff92"/><stop offset=".700" stop-color="#85c843"/><stop offset=".725" stop-color="#c8ff5d"/><stop offset=".750" stop-color="#92ff92"/><stop offset=".775" stop-color="#03ffff"/><stop offset=".800" stop-color="#12bfac"/><stop offset=".825" stop-color="#4bcd82"/><stop offset=".850" stop-color="#8ccf43"/><stop offset=".875" stop-color="#bfff62"/><stop offset=".900" stop-color="#9eff6f"/><stop offset=".925" stop-color="#7eff99"/><stop offset=".950" stop-color="#66ffac"/><stop offset=".975" stop-color="#4fffb2"/><stop offset="1.000" stop-color="#54e792"/></linearGradient><linearGradient id="gf4" gradientUnits="userSpaceOnUse" x1="-0.08" y1="0" x2="1.08" y2="0"><stop offset=".000" stop-color="#54ffb4"/><stop offset=".025" stop-color="#4dfeb1"/><stop offset=".050" stop-color="#48ffd5"/><stop offset=".075" stop-color="#03ffff"/><stop offset=".100" stop-color="#00abff"/><stop offset=".125" stop-color="#008af3"/><stop offset=".150" stop-color="#0092bf"/><stop offset=".175" stop-color="#26cfa9"/><stop offset=".200" stop-color="#4cbf72"/><stop offset=".225" stop-color="#a5ff67"/><stop offset=".250" stop-color="#7dffa7"/><stop offset=".275" stop-color="#16ffff"/><stop offset=".300" stop-color="#00ccff"/><stop offset=".325" stop-color="#009df3"/><stop offset=".350" stop-color="#00b4bf"/><stop offset=".375" stop-color="#2fbf8f"/><stop offset=".400" stop-color="#8cbf32"/><stop offset=".425" stop-color="#e5f813"/><stop offset=".450" stop-color="#ffff00"/><stop offset=".475" stop-color="#a8ff7c"/><stop offset=".500" stop-color="#5cfca0"/><stop offset=".525" stop-color="#53df8c"/><stop offset=".550" stop-color="#8dc739"/><stop offset=".575" stop-color="#bfff66"/><stop offset=".600" stop-color="#9ef759"/><stop offset=".625" stop-color="#8bff76"/><stop offset=".650" stop-color="#9ed739"/><stop offset=".675" stop-color="#9cff88"/><stop offset=".700" stop-color="#85cc46"/><stop offset=".725" stop-color="#c5ff5f"/><stop offset=".750" stop-color="#90ff95"/><stop offset=".775" stop-color="#00ffff"/><stop offset=".800" stop-color="#11bfae"/><stop offset=".825" stop-color="#50d281"/><stop offset=".850" stop-color="#8cd84c"/><stop offset=".875" stop-color="#afff6e"/><stop offset=".900" stop-color="#93ff73"/><stop offset=".925" stop-color="#7eff91"/><stop offset=".950" stop-color="#6effa7"/><stop offset=".975" stop-color="#51ffb5"/><stop offset="1.000" stop-color="#51e796"/></linearGradient><linearGradient id="gf5" gradientUnits="userSpaceOnUse" x1="-0.08" y1="0" x2="1.08" y2="0"><stop offset=".000" stop-color="#58ffae"/><stop offset=".025" stop-color="#55f7a2"/><stop offset=".050" stop-color="#5cffb1"/><stop offset=".075" stop-color="#33fff1"/><stop offset=".100" stop-color="#00eaff"/><stop offset=".125" stop-color="#00c8ff"/><stop offset=".150" stop-color="#00a9bf"/><stop offset=".175" stop-color="#35d7a2"/><stop offset=".200" stop-color="#53bf6b"/><stop offset=".225" stop-color="#adff5f"/><stop offset=".250" stop-color="#87ff94"/><stop offset=".275" stop-color="#3affeb"/><stop offset=".300" stop-color="#00faff"/><stop offset=".325" stop-color="#00d9fd"/><stop offset=".350" stop-color="#08bfb6"/><stop offset=".375" stop-color="#2ec697"/><stop offset=".400" stop-color="#7ac045"/><stop offset=".425" stop-color="#baff66"/><stop offset=".450" stop-color="#a9ff74"/><stop offset=".475" stop-color="#3dffe8"/><stop offset=".500" stop-color="#27d3ab"/><stop offset=".525" stop-color="#46f4ae"/><stop offset=".550" stop-color="#73bf4c"/><stop offset=".575" stop-color="#92ff92"/><stop offset=".600" stop-color="#5affc1"/><stop offset=".625" stop-color="#2fecbd"/><stop offset=".650" stop-color="#64bf5a"/><stop offset=".675" stop-color="#8aff92"/><stop offset=".700" stop-color="#87d750"/><stop offset=".725" stop-color="#a8ff7c"/><stop offset=".750" stop-color="#79ffab"/><stop offset=".775" stop-color="#00ffff"/><stop offset=".800" stop-color="#11bfad"/><stop offset=".825" stop-color="#5ff999"/><stop offset=".850" stop-color="#6cbf52"/><stop offset=".875" stop-color="#a0ff7c"/><stop offset=".900" stop-color="#85ff7f"/><stop offset=".925" stop-color="#75ff95"/><stop offset=".950" stop-color="#6affb3"/><stop offset=".975" stop-color="#3cffdb"/><stop offset="1.000" stop-color="#31e5b3"/></linearGradient><linearGradient id="gf6" gradientUnits="userSpaceOnUse" x1="-0.08" y1="0" x2="1.08" y2="0"><stop offset=".000" stop-color="#60ffa2"/><stop offset=".025" stop-color="#5ff494"/><stop offset=".050" stop-color="#6cff94"/><stop offset=".075" stop-color="#63ffc1"/><stop offset=".100" stop-color="#0affff"/><stop offset=".125" stop-color="#05ffff"/><stop offset=".150" stop-color="#00d0cf"/><stop offset=".175" stop-color="#43e4a0"/><stop offset=".200" stop-color="#54bf6a"/><stop offset=".225" stop-color="#b0ff5f"/><stop offset=".250" stop-color="#83ff9a"/><stop offset=".275" stop-color="#3cffe8"/><stop offset=".300" stop-color="#00ffff"/><stop offset=".325" stop-color="#00f1ff"/><stop offset=".350" stop-color="#0ed6c8"/><stop offset=".375" stop-color="#1fbf9f"/><stop offset=".400" stop-color="#7ad258"/><stop offset=".425" stop-color="#8bff99"/><stop offset=".450" stop-color="#66ffb8"/><stop offset=".475" stop-color="#0cffff"/><stop offset=".500" stop-color="#1cbfa3"/><stop offset=".525" stop-color="#46ffcf"/><stop offset=".550" stop-color="#62bf5c"/><stop offset=".575" stop-color="#7affab"/><stop offset=".600" stop-color="#03ffff"/><stop offset=".625" stop-color="#00b7bf"/><stop offset=".650" stop-color="#48bf76"/><stop offset=".675" stop-color="#77ff8b"/><stop offset=".700" stop-color="#8ee354"/><stop offset=".725" stop-color="#95ff90"/><stop offset=".750" stop-color="#62ffc2"/><stop offset=".775" stop-color="#00feff"/><stop offset=".800" stop-color="#11bfae"/><stop offset=".825" stop-color="#6cff98"/><stop offset=".850" stop-color="#69c056"/><stop offset=".875" stop-color="#97ff88"/><stop offset=".900" stop-color="#7aff8c"/><stop offset=".925" stop-color="#68ffa2"/><stop offset=".950" stop-color="#53ffd1"/><stop offset=".975" stop-color="#00ffff"/><stop offset="1.000" stop-color="#00cedc"/></linearGradient><linearGradient id="gf7" gradientUnits="userSpaceOnUse" x1="-0.08" y1="0" x2="1.08" y2="0"><stop offset=".000" stop-color="#64ff9b"/><stop offset=".025" stop-color="#65f893"/><stop offset=".050" stop-color="#6cfe91"/><stop offset=".075" stop-color="#71ffb2"/><stop offset=".100" stop-color="#25fffe"/><stop offset=".125" stop-color="#05ffff"/><stop offset=".150" stop-color="#00d0cf"/><stop offset=".175" stop-color="#3fffc1"/><stop offset=".200" stop-color="#37bf88"/><stop offset=".225" stop-color="#9fff60"/><stop offset=".250" stop-color="#7effa3"/><stop offset=".275" stop-color="#37ffed"/><stop offset=".300" stop-color="#00ffff"/><stop offset=".325" stop-color="#00f6ff"/><stop offset=".350" stop-color="#10efdf"/><stop offset=".375" stop-color="#0fbfaf"/><stop offset=".400" stop-color="#7fd758"/><stop offset=".425" stop-color="#7effa6"/><stop offset=".450" stop-color="#51ffc9"/><stop offset=".475" stop-color="#07ffff"/><stop offset=".500" stop-color="#24bf9a"/><stop offset=".525" stop-color="#4fe798"/><stop offset=".550" stop-color="#80d554"/><stop offset=".575" stop-color="#78ffac"/><stop offset=".600" stop-color="#00ffff"/><stop offset=".625" stop-color="#00acbf"/><stop offset=".650" stop-color="#39bf85"/><stop offset=".675" stop-color="#6fef7f"/><stop offset=".700" stop-color="#9aed53"/><stop offset=".725" stop-color="#88ff9c"/><stop offset=".750" stop-color="#50ffd5"/><stop offset=".775" stop-color="#00f6ff"/><stop offset=".800" stop-color="#0dbfb1"/><stop offset=".825" stop-color="#6ade74"/><stop offset=".850" stop-color="#98f65d"/><stop offset=".875" stop-color="#92ff8c"/><stop offset=".900" stop-color="#76ff90"/><stop offset=".925" stop-color="#64fe9a"/><stop offset=".950" stop-color="#6dff94"/><stop offset=".975" stop-color="#63ffac"/><stop offset="1.000" stop-color="#51ffb1"/></linearGradient><linearGradient id="gf8" gradientUnits="userSpaceOnUse" x1="-0.08" y1="0" x2="1.08" y2="0"><stop offset=".000" stop-color="#61fd9b"/><stop offset=".025" stop-color="#64fc98"/><stop offset=".050" stop-color="#66fa93"/><stop offset=".075" stop-color="#74ff90"/><stop offset=".100" stop-color="#54ffd0"/><stop offset=".125" stop-color="#13ffff"/><stop offset=".150" stop-color="#00cfd7"/><stop offset=".175" stop-color="#33ffd6"/><stop offset=".200" stop-color="#24bf9a"/><stop offset=".225" stop-color="#98f45b"/><stop offset=".250" stop-color="#80ffa4"/><stop offset=".275" stop-color="#38ffed"/><stop offset=".300" stop-color="#01ffff"/><stop offset=".325" stop-color="#00ecf3"/><stop offset=".350" stop-color="#1cf5d8"/><stop offset=".375" stop-color="#1abfa4"/><stop offset=".400" stop-color="#93e14e"/><stop offset=".425" stop-color="#7dffa8"/><stop offset=".450" stop-color="#42ffd7"/><stop offset=".475" stop-color="#00ffff"/><stop offset=".500" stop-color="#28bf96"/><stop offset=".525" stop-color="#52dd8a"/><stop offset=".550" stop-color="#90df4f"/><stop offset=".575" stop-color="#89ff9c"/><stop offset=".600" stop-color="#40ffe4"/><stop offset=".625" stop-color="#00ffff"/><stop offset=".650" stop-color="#2fbf8f"/><stop offset=".675" stop-color="#6ad76c"/><stop offset=".700" stop-color="#b2f240"/><stop offset=".725" stop-color="#8cff98"/><stop offset=".750" stop-color="#49ffdb"/><stop offset=".775" stop-color="#00ffff"/><stop offset=".800" stop-color="#0bbfb3"/><stop offset=".825" stop-color="#63dc78"/><stop offset=".850" stop-color="#93f663"/><stop offset=".875" stop-color="#90ff84"/><stop offset=".900" stop-color="#7dff88"/><stop offset=".925" stop-color="#6dff97"/><stop offset=".950" stop-color="#6ff484"/><stop offset=".975" stop-color="#7bff8a"/><stop offset="1.000" stop-color="#6fffa2"/></linearGradient><linearGradient id="gf9" gradientUnits="userSpaceOnUse" x1="-0.08" y1="0" x2="1.08" y2="0"><stop offset=".000" stop-color="#5bfca0"/><stop offset=".025" stop-color="#5efe9f"/><stop offset=".050" stop-color="#5ff595"/><stop offset=".075" stop-color="#75fd87"/><stop offset=".100" stop-color="#5fffc5"/><stop offset=".125" stop-color="#17ffff"/><stop offset=".150" stop-color="#00c8d6"/><stop offset=".175" stop-color="#3bd397"/><stop offset=".200" stop-color="#57bf68"/><stop offset=".225" stop-color="#c2ff52"/><stop offset=".250" stop-color="#85ff9f"/><stop offset=".275" stop-color="#3dffe7"/><stop offset=".300" stop-color="#00ffff"/><stop offset=".325" stop-color="#18bfa7"/><stop offset=".350" stop-color="#97ff8d"/><stop offset=".375" stop-color="#54bf6a"/><stop offset=".400" stop-color="#bcfa3e"/><stop offset=".425" stop-color="#7cffa8"/><stop offset=".450" stop-color="#2fffe8"/><stop offset=".475" stop-color="#00ffff"/><stop offset=".500" stop-color="#25bf99"/><stop offset=".525" stop-color="#50d988"/><stop offset=".550" stop-color="#90d444"/><stop offset=".575" stop-color="#a2ff82"/><stop offset=".600" stop-color="#6affba"/><stop offset=".625" stop-color="#05ffff"/><stop offset=".650" stop-color="#26bf98"/><stop offset=".675" stop-color="#6ebf51"/><stop offset=".700" stop-color="#ecf306"/><stop offset=".725" stop-color="#aaff7a"/><stop offset=".750" stop-color="#4cffd8"/><stop offset=".775" stop-color="#00d7ff"/><stop offset=".800" stop-color="#00babf"/><stop offset=".825" stop-color="#58df87"/><stop offset=".850" stop-color="#83eb68"/><stop offset=".875" stop-color="#90ff77"/><stop offset=".900" stop-color="#8bff77"/><stop offset=".925" stop-color="#81ff95"/><stop offset=".950" stop-color="#6df789"/><stop offset=".975" stop-color="#77ff8e"/><stop offset="1.000" stop-color="#69ffac"/></linearGradient><linearGradient id="gf10" gradientUnits="userSpaceOnUse" x1="-0.08" y1="0" x2="1.08" y2="0"><stop offset=".000" stop-color="#58fca4"/><stop offset=".025" stop-color="#59ffa5"/><stop offset=".050" stop-color="#5af298"/><stop offset=".075" stop-color="#74ff8e"/><stop offset=".100" stop-color="#54ffcc"/><stop offset=".125" stop-color="#18ffff"/><stop offset=".150" stop-color="#00c1d0"/><stop offset=".175" stop-color="#4bbf73"/><stop offset=".200" stop-color="#7fbf3f"/><stop offset=".225" stop-color="#d8ff4c"/><stop offset=".250" stop-color="#85ff9c"/><stop offset=".275" stop-color="#42ffe3"/><stop offset=".300" stop-color="#00ffff"/><stop offset=".325" stop-color="#00c7e7"/><stop offset=".350" stop-color="#32bf8c"/><stop offset=".375" stop-color="#75d964"/><stop offset=".400" stop-color="#bef436"/><stop offset=".425" stop-color="#71ffb3"/><stop offset=".450" stop-color="#12fff6"/><stop offset=".475" stop-color="#00ffff"/><stop offset=".500" stop-color="#1fbf9f"/><stop offset=".525" stop-color="#4bd488"/><stop offset=".550" stop-color="#8dc93b"/><stop offset=".575" stop-color="#b7ff6d"/><stop offset=".600" stop-color="#86ff9e"/><stop offset=".625" stop-color="#08ffff"/><stop offset=".650" stop-color="#1dbfa1"/><stop offset=".675" stop-color="#7abf44"/><stop offset=".700" stop-color="#f0c400"/><stop offset=".725" stop-color="#c8ff5c"/><stop offset=".750" stop-color="#52ffd3"/><stop offset=".775" stop-color="#00dbff"/><stop offset=".800" stop-color="#00b8bf"/><stop offset=".825" stop-color="#4ee293"/><stop offset=".850" stop-color="#77e16a"/><stop offset=".875" stop-color="#90ff73"/><stop offset=".900" stop-color="#92ff73"/><stop offset=".925" stop-color="#7dff9a"/><stop offset=".950" stop-color="#6afa90"/><stop offset=".975" stop-color="#70ff95"/><stop offset="1.000" stop-color="#62ffb1"/></linearGradient><linearGradient id="gf11" gradientUnits="userSpaceOnUse" x1="-0.08" y1="0" x2="1.08" y2="0"><stop offset=".000" stop-color="#5bfda1"/><stop offset=".025" stop-color="#5bffa6"/><stop offset=".050" stop-color="#58f49c"/><stop offset=".075" stop-color="#70ff91"/><stop offset=".100" stop-color="#52ffca"/><stop offset=".125" stop-color="#1cffff"/><stop offset=".150" stop-color="#00c1c9"/><stop offset=".175" stop-color="#52bf6c"/><stop offset=".200" stop-color="#7bcf54"/><stop offset=".225" stop-color="#c0ff62"/><stop offset=".250" stop-color="#79ff9d"/><stop offset=".275" stop-color="#3fffe5"/><stop offset=".300" stop-color="#00e5ff"/><stop offset=".325" stop-color="#009ed7"/><stop offset=".350" stop-color="#1cbfa2"/><stop offset=".375" stop-color="#63d06c"/><stop offset=".400" stop-color="#b5ed37"/><stop offset=".425" stop-color="#5cffc9"/><stop offset=".450" stop-color="#00e9f1"/><stop offset=".475" stop-color="#00f8ff"/><stop offset=".500" stop-color="#1bbfa3"/><stop offset=".525" stop-color="#46d28c"/><stop offset=".550" stop-color="#88c43b"/><stop offset=".575" stop-color="#beff67"/><stop offset=".600" stop-color="#99ff8c"/><stop offset=".625" stop-color="#0cffff"/><stop offset=".650" stop-color="#17bfa7"/><stop offset=".675" stop-color="#67bf57"/><stop offset=".700" stop-color="#eeea00"/><stop offset=".725" stop-color="#aeff76"/><stop offset=".750" stop-color="#41ffe4"/><stop offset=".775" stop-color="#00e2ff"/><stop offset=".800" stop-color="#00bcbf"/><stop offset=".825" stop-color="#4ae398"/><stop offset=".850" stop-color="#73db67"/><stop offset=".875" stop-color="#94ff6a"/><stop offset=".900" stop-color="#9cff70"/><stop offset=".925" stop-color="#79ffa1"/><stop offset=".950" stop-color="#65fb96"/><stop offset=".975" stop-color="#6bff97"/><stop offset="1.000" stop-color="#61ffae"/></linearGradient><linearGradient id="gf12" gradientUnits="userSpaceOnUse" x1="-0.08" y1="0" x2="1.08" y2="0"><stop offset=".000" stop-color="#66fd97"/><stop offset=".025" stop-color="#64ffa3"/><stop offset=".050" stop-color="#59fda3"/><stop offset=".075" stop-color="#67ff9f"/><stop offset=".100" stop-color="#44ffd2"/><stop offset=".125" stop-color="#1effff"/><stop offset=".150" stop-color="#06bfb9"/><stop offset=".175" stop-color="#72bf4d"/><stop offset=".200" stop-color="#d2fb29"/><stop offset=".225" stop-color="#beff66"/><stop offset=".250" stop-color="#6bffa3"/><stop offset=".275" stop-color="#3affeb"/><stop offset=".300" stop-color="#00bfff"/><stop offset=".325" stop-color="#0080bf"/><stop offset=".350" stop-color="#0cbfb3"/><stop offset=".375" stop-color="#47c47d"/><stop offset=".400" stop-color="#a2e341"/><stop offset=".425" stop-color="#51ffd3"/><stop offset=".450" stop-color="#00dbe5"/><stop offset=".475" stop-color="#00fdff"/><stop offset=".500" stop-color="#19bfa5"/><stop offset=".525" stop-color="#42d391"/><stop offset=".550" stop-color="#84c642"/><stop offset=".575" stop-color="#baff67"/><stop offset=".600" stop-color="#adff78"/><stop offset=".625" stop-color="#13ffff"/><stop offset=".650" stop-color="#15bfa9"/><stop offset=".675" stop-color="#4dc477"/><stop offset=".700" stop-color="#a8f34a"/><stop offset=".725" stop-color="#72ffb3"/><stop offset=".750" stop-color="#16ffff"/><stop offset=".775" stop-color="#00deff"/><stop offset=".800" stop-color="#02bfbd"/><stop offset=".825" stop-color="#4cdf92"/><stop offset=".850" stop-color="#7adb61"/><stop offset=".875" stop-color="#9bff65"/><stop offset=".900" stop-color="#a0ff73"/><stop offset=".925" stop-color="#75ffa7"/><stop offset=".950" stop-color="#61f998"/><stop offset=".975" stop-color="#69fd94"/><stop offset="1.000" stop-color="#67ffa3"/></linearGradient><linearGradient id="gf13" gradientUnits="userSpaceOnUse" x1="-0.08" y1="0" x2="1.08" y2="0"><stop offset=".000" stop-color="#73ff8b"/><stop offset=".025" stop-color="#70ff9c"/><stop offset=".050" stop-color="#5dffa9"/><stop offset=".075" stop-color="#5dffb5"/><stop offset=".100" stop-color="#2fffe1"/><stop offset=".125" stop-color="#1dffff"/><stop offset=".150" stop-color="#14bfaa"/><stop offset=".175" stop-color="#84bf3a"/><stop offset=".200" stop-color="#ffff00"/><stop offset=".225" stop-color="#baff6a"/><stop offset=".250" stop-color="#63ffa7"/><stop offset=".275" stop-color="#3bffe9"/><stop offset=".300" stop-color="#00d9ff"/><stop offset=".325" stop-color="#0099ca"/><stop offset=".350" stop-color="#0fbfaf"/><stop offset=".375" stop-color="#40ce8e"/><stop offset=".400" stop-color="#8fdc4c"/><stop offset=".425" stop-color="#5effc6"/><stop offset=".450" stop-color="#11f1df"/><stop offset=".475" stop-color="#00ffff"/><stop offset=".500" stop-color="#19bfa6"/><stop offset=".525" stop-color="#3ed596"/><stop offset=".550" stop-color="#7ec849"/><stop offset=".575" stop-color="#a7f149"/><stop offset=".600" stop-color="#e6ff3e"/><stop offset=".625" stop-color="#20ffff"/><stop offset=".650" stop-color="#1bbfa3"/><stop offset=".675" stop-color="#4dda8d"/><stop offset=".700" stop-color="#8ef061"/><stop offset=".725" stop-color="#6cffb9"/><stop offset=".750" stop-color="#12ffff"/><stop offset=".775" stop-color="#00f1ff"/><stop offset=".800" stop-color="#0dbfb1"/><stop offset=".825" stop-color="#55db86"/><stop offset=".850" stop-color="#88e159"/><stop offset=".875" stop-color="#a2ff6a"/><stop offset=".900" stop-color="#96ff7c"/><stop offset=".925" stop-color="#6effac"/><stop offset=".950" stop-color="#5df799"/><stop offset=".975" stop-color="#67f78f"/><stop offset="1.000" stop-color="#6eff93"/></linearGradient><linearGradient id="gf14" gradientUnits="userSpaceOnUse" x1="-0.08" y1="0" x2="1.08" y2="0"><stop offset=".000" stop-color="#7cff84"/><stop offset=".025" stop-color="#77ff96"/><stop offset=".050" stop-color="#63ffab"/><stop offset=".075" stop-color="#56ffc7"/><stop offset=".100" stop-color="#1dfff1"/><stop offset=".125" stop-color="#19fff6"/><stop offset=".150" stop-color="#1dbfa2"/><stop offset=".175" stop-color="#79bf45"/><stop offset=".200" stop-color="#ffff0a"/><stop offset=".225" stop-color="#aeff76"/><stop offset=".250" stop-color="#62ffa4"/><stop offset=".275" stop-color="#44ffe0"/><stop offset=".300" stop-color="#00ffff"/><stop offset=".325" stop-color="#00d8f1"/><stop offset=".350" stop-color="#15bfa9"/><stop offset=".375" stop-color="#3edc9d"/><stop offset=".400" stop-color="#7ed455"/><stop offset=".425" stop-color="#79ffab"/><stop offset=".450" stop-color="#40ffc9"/><stop offset=".475" stop-color="#00ffff"/><stop offset=".500" stop-color="#15bfa9"/><stop offset=".525" stop-color="#39d399"/><stop offset=".550" stop-color="#7cca4d"/><stop offset=".575" stop-color="#9de244"/><stop offset=".600" stop-color="#f0ff34"/><stop offset=".625" stop-color="#22ffff"/><stop offset=".650" stop-color="#21bf9d"/><stop offset=".675" stop-color="#51dd8c"/><stop offset=".700" stop-color="#8ee152"/><stop offset=".725" stop-color="#8fff96"/><stop offset=".750" stop-color="#37ffed"/><stop offset=".775" stop-color="#00ffff"/><stop offset=".800" stop-color="#18bfa6"/><stop offset=".825" stop-color="#5cd77a"/><stop offset=".850" stop-color="#95e751"/><stop offset=".875" stop-color="#a8ff6f"/><stop offset=".900" stop-color="#8eff84"/><stop offset=".925" stop-color="#6affad"/><stop offset=".950" stop-color="#5cf89c"/><stop offset=".975" stop-color="#64f490"/><stop offset="1.000" stop-color="#70f887"/></linearGradient><linearGradient id="gf15" gradientUnits="userSpaceOnUse" x1="-0.08" y1="0" x2="1.08" y2="0"><stop offset=".000" stop-color="#7bff87"/><stop offset=".025" stop-color="#75ff92"/><stop offset=".050" stop-color="#69ffa4"/><stop offset=".075" stop-color="#58ffcc"/><stop offset=".100" stop-color="#14fffc"/><stop offset=".125" stop-color="#15ffef"/><stop offset=".150" stop-color="#1ebfa0"/><stop offset=".175" stop-color="#6fd465"/><stop offset=".200" stop-color="#a3f04d"/><stop offset=".225" stop-color="#a8ff7c"/><stop offset=".250" stop-color="#6bff99"/><stop offset=".275" stop-color="#4effd6"/><stop offset=".300" stop-color="#0effff"/><stop offset=".325" stop-color="#00fdff"/><stop offset=".350" stop-color="#18bfa6"/><stop offset=".375" stop-color="#3ce3a7"/><stop offset=".400" stop-color="#74cb56"/><stop offset=".425" stop-color="#91ff94"/><stop offset=".450" stop-color="#68ffb6"/><stop offset=".475" stop-color="#03ffff"/><stop offset=".500" stop-color="#0dc4b6"/><stop offset=".525" stop-color="#32ca97"/><stop offset=".550" stop-color="#7ecc4e"/><stop offset=".575" stop-color="#a3ff7d"/><stop offset=".600" stop-color="#93ff91"/><stop offset=".625" stop-color="#11ffff"/><stop offset=".650" stop-color="#21bf9d"/><stop offset=".675" stop-color="#4cdf92"/><stop offset=".700" stop-color="#86d24b"/><stop offset=".725" stop-color="#a5ff7e"/><stop offset=".750" stop-color="#58ffcc"/><stop offset=".775" stop-color="#00ffff"/><stop offset=".800" stop-color="#19bfa6"/><stop offset=".825" stop-color="#5ad176"/><stop offset=".850" stop-color="#9be74c"/><stop offset=".875" stop-color="#acff6f"/><stop offset=".900" stop-color="#8eff83"/><stop offset=".925" stop-color="#6cffaa"/><stop offset=".950" stop-color="#5cffa3"/><stop offset=".975" stop-color="#5cf498"/><stop offset="1.000" stop-color="#6aed82"/></linearGradient><linearGradient id="gf16" gradientUnits="userSpaceOnUse" x1="-0.08" y1="0" x2="1.08" y2="0"><stop offset=".000" stop-color="#71ff92"/><stop offset=".025" stop-color="#6cfe92"/><stop offset=".050" stop-color="#6dff99"/><stop offset=".075" stop-color="#61ffc3"/><stop offset=".100" stop-color="#15ffff"/><stop offset=".125" stop-color="#13fff2"/><stop offset=".150" stop-color="#1bcaaf"/><stop offset=".175" stop-color="#61eb8a"/><stop offset=".200" stop-color="#65ce69"/><stop offset=".225" stop-color="#9eff72"/><stop offset=".250" stop-color="#79ff8c"/><stop offset=".275" stop-color="#56ffce"/><stop offset=".300" stop-color="#11ffff"/><stop offset=".325" stop-color="#00ffff"/><stop offset=".350" stop-color="#15bfa9"/><stop offset=".375" stop-color="#3ae2a8"/><stop offset=".400" stop-color="#72c452"/><stop offset=".425" stop-color="#a2ff82"/><stop offset=".450" stop-color="#7dffa7"/><stop offset=".475" stop-color="#00ffff"/><stop offset=".500" stop-color="#03c6c3"/><stop offset=".525" stop-color="#2abf94"/><stop offset=".550" stop-color="#7fc949"/><stop offset=".575" stop-color="#97ff8e"/><stop offset=".600" stop-color="#60ffc4"/><stop offset=".625" stop-color="#05ffff"/><stop offset=".650" stop-color="#1cbfa3"/><stop offset=".675" stop-color="#42de9b"/><stop offset=".700" stop-color="#7bc449"/><stop offset=".725" stop-color="#b5ff6f"/><stop offset=".750" stop-color="#75ffaf"/><stop offset=".775" stop-color="#00ffff"/><stop offset=".800" stop-color="#13bfab"/><stop offset=".825" stop-color="#52cc79"/><stop offset=".850" stop-color="#97e34b"/><stop offset=".875" stop-color="#adff6b"/><stop offset=".900" stop-color="#94ff7b"/><stop offset=".925" stop-color="#74ffa3"/><stop offset=".950" stop-color="#5fffab"/><stop offset=".975" stop-color="#52f8a6"/><stop offset="1.000" stop-color="#5fe384"/></linearGradient><linearGradient id="gf17" gradientUnits="userSpaceOnUse" x1="-0.08" y1="0" x2="1.08" y2="0"><stop offset=".000" stop-color="#65ff9e"/><stop offset=".025" stop-color="#62f593"/><stop offset=".050" stop-color="#6efe8f"/><stop offset=".075" stop-color="#6effb7"/><stop offset=".100" stop-color="#1dfffe"/><stop offset=".125" stop-color="#12fffb"/><stop offset=".150" stop-color="#13d2bf"/><stop offset=".175" stop-color="#4ff1a1"/><stop offset=".200" stop-color="#51bf6e"/><stop offset=".225" stop-color="#9eff67"/><stop offset=".250" stop-color="#85ff81"/><stop offset=".275" stop-color="#5cffc9"/><stop offset=".300" stop-color="#0dffff"/><stop offset=".325" stop-color="#00f7ff"/><stop offset=".350" stop-color="#11bfad"/><stop offset=".375" stop-color="#39dca2"/><stop offset=".400" stop-color="#75c04b"/><stop offset=".425" stop-color="#adff77"/><stop offset=".450" stop-color="#82ffa2"/><stop offset=".475" stop-color="#00ffff"/><stop offset=".500" stop-color="#00c1c5"/><stop offset=".525" stop-color="#27bf97"/><stop offset=".550" stop-color="#7fc343"/><stop offset=".575" stop-color="#9dff88"/><stop offset=".600" stop-color="#5dffc8"/><stop offset=".625" stop-color="#01ffff"/><stop offset=".650" stop-color="#16bfa9"/><stop offset=".675" stop-color="#3adba1"/><stop offset=".700" stop-color="#77bf48"/><stop offset=".725" stop-color="#beff64"/><stop offset=".750" stop-color="#8bff99"/><stop offset=".775" stop-color="#01ffff"/><stop offset=".800" stop-color="#10bfaf"/><stop offset=".825" stop-color="#4bcb80"/><stop offset=".850" stop-color="#8fdd4d"/><stop offset=".875" stop-color="#acff65"/><stop offset=".900" stop-color="#9cff71"/><stop offset=".925" stop-color="#7dff9c"/><stop offset=".950" stop-color="#62ffb1"/><stop offset=".975" stop-color="#4afdb2"/><stop offset="1.000" stop-color="#55df89"/></linearGradient><clipPath id="clipg"><path d="M294.4,326.7 L300.0,314.0 L306.0,302.0 L312.0,291.0 L318.0,282.0 L323.3,274.1 L327.7,275.0 L332.0,276.8 L339.0,278.5 L342.6,280.3 L347.8,280.3 L353.1,282.9 L360.1,284.6 L363.6,283.8 L367.1,286.4 L372.3,288.1 L377.6,287.3 L382.9,288.1 L388.1,289.0 L393.4,290.8 L396.9,289.9 L402.1,291.7 L395.0,306.0 L388.1,320.6 L381.0,333.0 L374.1,345.1 L370.6,341.6 L365.3,345.1 L360.1,343.3 L354.8,341.6 L353.1,345.1 L350.4,341.6 L347.8,338.1 L340.8,336.3 L333.8,334.6 L330.3,337.2 L325.0,332.8 L318.0,331.1 L312.8,329.3 L307.5,329.3 L300.5,327.6 Z"/></clipPath><linearGradient id="gg0" gradientUnits="userSpaceOnUse" x1="-0.08" y1="0" x2="1.08" y2="0"><stop offset=".000" stop-color="#67ff9d"/><stop offset=".025" stop-color="#5bffb1"/><stop offset=".050" stop-color="#4dfeb0"/><stop offset=".075" stop-color="#52f19f"/><stop offset=".100" stop-color="#61f896"/><stop offset=".125" stop-color="#65fe99"/><stop offset=".150" stop-color="#70ff9d"/><stop offset=".175" stop-color="#59ffb8"/><stop offset=".200" stop-color="#10ffff"/><stop offset=".225" stop-color="#00f0ff"/><stop offset=".250" stop-color="#00d7e6"/><stop offset=".275" stop-color="#1bd1b5"/><stop offset=".300" stop-color="#3dd597"/><stop offset=".325" stop-color="#68ffa2"/><stop offset=".350" stop-color="#5dffa8"/><stop offset=".375" stop-color="#41ffe3"/><stop offset=".400" stop-color="#00ffff"/><stop offset=".425" stop-color="#00edff"/><stop offset=".450" stop-color="#00cace"/><stop offset=".475" stop-color="#26e9c2"/><stop offset=".500" stop-color="#4aea9f"/><stop offset=".525" stop-color="#38ffec"/><stop offset=".550" stop-color="#00fdff"/><stop offset=".575" stop-color="#00efff"/><stop offset=".600" stop-color="#00cde0"/><stop offset=".625" stop-color="#0af5eb"/><stop offset=".650" stop-color="#04ffff"/><stop offset=".675" stop-color="#0ae8de"/><stop offset=".700" stop-color="#15fff4"/><stop offset=".725" stop-color="#22e3c0"/><stop offset=".750" stop-color="#34ffcf"/><stop offset=".775" stop-color="#30f4c4"/><stop offset=".800" stop-color="#3dfabc"/><stop offset=".825" stop-color="#3df1b4"/><stop offset=".850" stop-color="#4affb5"/><stop offset=".875" stop-color="#60dd7d"/><stop offset=".900" stop-color="#70f281"/><stop offset=".925" stop-color="#83df5c"/><stop offset=".950" stop-color="#a5f14c"/><stop offset=".975" stop-color="#b9ff48"/><stop offset="1.000" stop-color="#b4ff5f"/></linearGradient><linearGradient id="gg1" gradientUnits="userSpaceOnUse" x1="-0.08" y1="0" x2="1.08" y2="0"><stop offset=".000" stop-color="#84ff88"/><stop offset=".025" stop-color="#67ffb9"/><stop offset=".050" stop-color="#46fbb5"/><stop offset=".075" stop-color="#51e291"/><stop offset=".100" stop-color="#6cff93"/><stop offset=".125" stop-color="#59ffbc"/><stop offset=".150" stop-color="#5ff595"/><stop offset=".175" stop-color="#6eff9f"/><stop offset=".200" stop-color="#25ffff"/><stop offset=".225" stop-color="#00f4ff"/><stop offset=".250" stop-color="#00cdda"/><stop offset=".275" stop-color="#27cfa7"/><stop offset=".300" stop-color="#4fe798"/><stop offset=".325" stop-color="#57ffbb"/><stop offset=".350" stop-color="#4cf6aa"/><stop offset=".375" stop-color="#3fffe5"/><stop offset=".400" stop-color="#04ffff"/><stop offset=".425" stop-color="#00e3ff"/><stop offset=".450" stop-color="#03bfbc"/><stop offset=".475" stop-color="#37e3ac"/><stop offset=".500" stop-color="#5fffa7"/><stop offset=".525" stop-color="#1bffff"/><stop offset=".550" stop-color="#00e7fa"/><stop offset=".575" stop-color="#00ecff"/><stop offset=".600" stop-color="#00dce9"/><stop offset=".625" stop-color="#04f8f3"/><stop offset=".650" stop-color="#0bf1e6"/><stop offset=".675" stop-color="#22eac7"/><stop offset=".700" stop-color="#1bfffe"/><stop offset=".725" stop-color="#1aecd2"/><stop offset=".750" stop-color="#29f7ce"/><stop offset=".775" stop-color="#33f4c0"/><stop offset=".800" stop-color="#38ffcf"/><stop offset=".825" stop-color="#33e5b2"/><stop offset=".850" stop-color="#4ae197"/><stop offset=".875" stop-color="#7df87a"/><stop offset=".900" stop-color="#69ffb1"/><stop offset=".925" stop-color="#58bf66"/><stop offset=".950" stop-color="#9be045"/><stop offset=".975" stop-color="#c6ff47"/><stop offset="1.000" stop-color="#abff75"/></linearGradient><linearGradient id="gg2" gradientUnits="userSpaceOnUse" x1="-0.08" y1="0" x2="1.08" y2="0"><stop offset=".000" stop-color="#94ff78"/><stop offset=".025" stop-color="#77ffac"/><stop offset=".050" stop-color="#51fdac"/><stop offset=".075" stop-color="#47c17a"/><stop offset=".100" stop-color="#7bfe83"/><stop offset=".125" stop-color="#5dffc5"/><stop offset=".150" stop-color="#66e47d"/><stop offset=".175" stop-color="#8dff88"/><stop offset=".200" stop-color="#44ffe0"/><stop offset=".225" stop-color="#04faf6"/><stop offset=".250" stop-color="#03dbd8"/><stop offset=".275" stop-color="#32deab"/><stop offset=".300" stop-color="#54ef9b"/><stop offset=".325" stop-color="#4cffc5"/><stop offset=".350" stop-color="#45f4af"/><stop offset=".375" stop-color="#2efff6"/><stop offset=".400" stop-color="#04ffff"/><stop offset=".425" stop-color="#00dfff"/><stop offset=".450" stop-color="#0dbfb2"/><stop offset=".475" stop-color="#46eba5"/><stop offset=".500" stop-color="#71ff95"/><stop offset=".525" stop-color="#23ffff"/><stop offset=".550" stop-color="#01f8f7"/><stop offset=".575" stop-color="#03fefb"/><stop offset=".600" stop-color="#0defe1"/><stop offset=".625" stop-color="#14ffed"/><stop offset=".650" stop-color="#17edd5"/><stop offset=".675" stop-color="#34eeba"/><stop offset=".700" stop-color="#23fff4"/><stop offset=".725" stop-color="#1cfade"/><stop offset=".750" stop-color="#20f7d7"/><stop offset=".775" stop-color="#2ef2c4"/><stop offset=".800" stop-color="#32ffd8"/><stop offset=".825" stop-color="#31e0af"/><stop offset=".850" stop-color="#4ad389"/><stop offset=".875" stop-color="#88ff8d"/><stop offset=".900" stop-color="#49ffdc"/><stop offset=".925" stop-color="#42bf7c"/><stop offset=".950" stop-color="#93db47"/><stop offset=".975" stop-color="#c3ff4f"/><stop offset="1.000" stop-color="#a1ff81"/></linearGradient><linearGradient id="gg3" gradientUnits="userSpaceOnUse" x1="-0.08" y1="0" x2="1.08" y2="0"><stop offset=".000" stop-color="#90ff74"/><stop offset=".025" stop-color="#82ff93"/><stop offset=".050" stop-color="#6aff9b"/><stop offset=".075" stop-color="#3dbf82"/><stop offset=".100" stop-color="#80f373"/><stop offset=".125" stop-color="#66ffbe"/><stop offset=".150" stop-color="#7fe464"/><stop offset=".175" stop-color="#a8ff7c"/><stop offset=".200" stop-color="#5effc6"/><stop offset=".225" stop-color="#24f1cd"/><stop offset=".250" stop-color="#1bebcf"/><stop offset=".275" stop-color="#36f7c1"/><stop offset=".300" stop-color="#4ceb9e"/><stop offset=".325" stop-color="#4bffba"/><stop offset=".350" stop-color="#4cffb2"/><stop offset=".375" stop-color="#24ffff"/><stop offset=".400" stop-color="#06ffff"/><stop offset=".425" stop-color="#00e0f2"/><stop offset=".450" stop-color="#19c3aa"/><stop offset=".475" stop-color="#4dd789"/><stop offset=".500" stop-color="#8ef162"/><stop offset=".525" stop-color="#72ffb2"/><stop offset=".550" stop-color="#59fea4"/><stop offset=".575" stop-color="#55ffab"/><stop offset=".600" stop-color="#5bf99e"/><stop offset=".625" stop-color="#54ffc8"/><stop offset=".650" stop-color="#33ffce"/><stop offset=".675" stop-color="#3ff9ba"/><stop offset=".700" stop-color="#2dffdc"/><stop offset=".725" stop-color="#29ffdf"/><stop offset=".750" stop-color="#1affeb"/><stop offset=".775" stop-color="#21eecd"/><stop offset=".800" stop-color="#2effd0"/><stop offset=".825" stop-color="#3be4a8"/><stop offset=".850" stop-color="#4cdc8f"/><stop offset=".875" stop-color="#74ffb0"/><stop offset=".900" stop-color="#4affd3"/><stop offset=".925" stop-color="#4bbf74"/><stop offset=".950" stop-color="#94e955"/><stop offset=".975" stop-color="#aeff5e"/><stop offset="1.000" stop-color="#98ff7c"/></linearGradient><linearGradient id="gg4" gradientUnits="userSpaceOnUse" x1="-0.08" y1="0" x2="1.08" y2="0"><stop offset=".000" stop-color="#7bfc81"/><stop offset=".025" stop-color="#7dff84"/><stop offset=".050" stop-color="#7bff94"/><stop offset=".075" stop-color="#37bf87"/><stop offset=".100" stop-color="#6ce87c"/><stop offset=".125" stop-color="#51ffd4"/><stop offset=".150" stop-color="#89f066"/><stop offset=".175" stop-color="#90ff94"/><stop offset=".200" stop-color="#53ffc7"/><stop offset=".225" stop-color="#38f4bb"/><stop offset=".250" stop-color="#2bfdd1"/><stop offset=".275" stop-color="#28ffdb"/><stop offset=".300" stop-color="#3fe0a1"/><stop offset=".325" stop-color="#4ff6a6"/><stop offset=".350" stop-color="#5affbb"/><stop offset=".375" stop-color="#15ffff"/><stop offset=".400" stop-color="#00ffff"/><stop offset=".425" stop-color="#00e1ea"/><stop offset=".450" stop-color="#1adec4"/><stop offset=".475" stop-color="#3ebf80"/><stop offset=".500" stop-color="#91e755"/><stop offset=".525" stop-color="#96ff7a"/><stop offset=".550" stop-color="#92ff7a"/><stop offset=".575" stop-color="#7aff85"/><stop offset=".600" stop-color="#84f772"/><stop offset=".625" stop-color="#7fffa6"/><stop offset=".650" stop-color="#40ffd7"/><stop offset=".675" stop-color="#37ffc9"/><stop offset=".700" stop-color="#2feebf"/><stop offset=".725" stop-color="#3dffd5"/><stop offset=".750" stop-color="#17ffff"/><stop offset=".775" stop-color="#15e9d4"/><stop offset=".800" stop-color="#2de6b8"/><stop offset=".825" stop-color="#50ef9e"/><stop offset=".850" stop-color="#54ec98"/><stop offset=".875" stop-color="#5bffc3"/><stop offset=".900" stop-color="#50f5a4"/><stop offset=".925" stop-color="#5dc163"/><stop offset=".950" stop-color="#95fe69"/><stop offset=".975" stop-color="#93ff6b"/><stop offset="1.000" stop-color="#94ff6b"/></linearGradient><linearGradient id="gg5" gradientUnits="userSpaceOnUse" x1="-0.08" y1="0" x2="1.08" y2="0"><stop offset=".000" stop-color="#5ff899"/><stop offset=".025" stop-color="#6cf286"/><stop offset=".050" stop-color="#78ff9c"/><stop offset=".075" stop-color="#44fab5"/><stop offset=".100" stop-color="#48e59c"/><stop offset=".125" stop-color="#47ffcd"/><stop offset=".150" stop-color="#72fb88"/><stop offset=".175" stop-color="#59ffcc"/><stop offset=".200" stop-color="#29ffd8"/><stop offset=".225" stop-color="#31f7c5"/><stop offset=".250" stop-color="#29ffdd"/><stop offset=".275" stop-color="#13ffec"/><stop offset=".300" stop-color="#32d8a6"/><stop offset=".325" stop-color="#52e794"/><stop offset=".350" stop-color="#65ffbf"/><stop offset=".375" stop-color="#0effff"/><stop offset=".400" stop-color="#00ffff"/><stop offset=".425" stop-color="#00deed"/><stop offset=".450" stop-color="#00ffff"/><stop offset=".475" stop-color="#18bfa6"/><stop offset=".500" stop-color="#5bf498"/><stop offset=".525" stop-color="#50ffb7"/><stop offset=".550" stop-color="#46ffd9"/><stop offset=".575" stop-color="#26f2cc"/><stop offset=".600" stop-color="#46e19b"/><stop offset=".625" stop-color="#53ffcf"/><stop offset=".650" stop-color="#1efff7"/><stop offset=".675" stop-color="#19fce3"/><stop offset=".700" stop-color="#28d2aa"/><stop offset=".725" stop-color="#4affca"/><stop offset=".750" stop-color="#19ffff"/><stop offset=".775" stop-color="#11e6d5"/><stop offset=".800" stop-color="#30cf9e"/><stop offset=".825" stop-color="#68fb93"/><stop offset=".850" stop-color="#61f593"/><stop offset=".875" stop-color="#5bffab"/><stop offset=".900" stop-color="#69e178"/><stop offset=".925" stop-color="#87ec65"/><stop offset=".950" stop-color="#92ff7d"/><stop offset=".975" stop-color="#7ef172"/><stop offset="1.000" stop-color="#92eb58"/></linearGradient><linearGradient id="gg6" gradientUnits="userSpaceOnUse" x1="-0.08" y1="0" x2="1.08" y2="0"><stop offset=".000" stop-color="#4af9af"/><stop offset=".025" stop-color="#58ec94"/><stop offset=".050" stop-color="#68ffaa"/><stop offset=".075" stop-color="#41ffda"/><stop offset=".100" stop-color="#30ecbc"/><stop offset=".125" stop-color="#41ffbd"/><stop offset=".150" stop-color="#4bfbaf"/><stop offset=".175" stop-color="#25ffff"/><stop offset=".200" stop-color="#09f6ed"/><stop offset=".225" stop-color="#1af4da"/><stop offset=".250" stop-color="#1dffeb"/><stop offset=".275" stop-color="#06f4ed"/><stop offset=".300" stop-color="#2cdbae"/><stop offset=".325" stop-color="#52dd8a"/><stop offset=".350" stop-color="#6bffb9"/><stop offset=".375" stop-color="#15ffff"/><stop offset=".400" stop-color="#00ffff"/><stop offset=".425" stop-color="#00d7f1"/><stop offset=".450" stop-color="#00f9ff"/><stop offset=".475" stop-color="#00bfc4"/><stop offset=".500" stop-color="#23ffe0"/><stop offset=".525" stop-color="#12f9e6"/><stop offset=".550" stop-color="#02ffff"/><stop offset=".575" stop-color="#00d9e5"/><stop offset=".600" stop-color="#1bf2d6"/><stop offset=".625" stop-color="#0bffff"/><stop offset=".650" stop-color="#00ffff"/><stop offset=".675" stop-color="#01fcfa"/><stop offset=".700" stop-color="#21c5a3"/><stop offset=".725" stop-color="#4bffc6"/><stop offset=".750" stop-color="#21fff9"/><stop offset=".775" stop-color="#1ae8cd"/><stop offset=".800" stop-color="#37c992"/><stop offset=".825" stop-color="#74ff90"/><stop offset=".850" stop-color="#6df284"/><stop offset=".875" stop-color="#69f288"/><stop offset=".900" stop-color="#85e55f"/><stop offset=".925" stop-color="#a2ff68"/><stop offset=".950" stop-color="#8dff85"/><stop offset=".975" stop-color="#77e971"/><stop offset="1.000" stop-color="#94e14d"/></linearGradient><linearGradient id="gg7" gradientUnits="userSpaceOnUse" x1="-0.08" y1="0" x2="1.08" y2="0"><stop offset=".000" stop-color="#41ffbf"/><stop offset=".025" stop-color="#47f2aa"/><stop offset=".050" stop-color="#52ffb5"/><stop offset=".075" stop-color="#3effd6"/><stop offset=".100" stop-color="#2ffacb"/><stop offset=".125" stop-color="#32ffd8"/><stop offset=".150" stop-color="#28fdd5"/><stop offset=".175" stop-color="#00ffff"/><stop offset=".200" stop-color="#00f4f8"/><stop offset=".225" stop-color="#04f7f2"/><stop offset=".250" stop-color="#0dfff4"/><stop offset=".275" stop-color="#05e4df"/><stop offset=".300" stop-color="#2be6ba"/><stop offset=".325" stop-color="#4dd98c"/><stop offset=".350" stop-color="#6affbb"/><stop offset=".375" stop-color="#2affdf"/><stop offset=".400" stop-color="#00ffff"/><stop offset=".425" stop-color="#00d4f9"/><stop offset=".450" stop-color="#00e4ff"/><stop offset=".475" stop-color="#00c8d6"/><stop offset=".500" stop-color="#00ffff"/><stop offset=".525" stop-color="#00dce4"/><stop offset=".550" stop-color="#00ffff"/><stop offset=".575" stop-color="#00d7da"/><stop offset=".600" stop-color="#18ffff"/><stop offset=".625" stop-color="#00e5ff"/><stop offset=".650" stop-color="#00e2f3"/><stop offset=".675" stop-color="#00f3fa"/><stop offset=".700" stop-color="#1eccad"/><stop offset=".725" stop-color="#3fffcb"/><stop offset=".750" stop-color="#2affda"/><stop offset=".775" stop-color="#2feebf"/><stop offset=".800" stop-color="#41d896"/><stop offset=".825" stop-color="#69ff97"/><stop offset=".850" stop-color="#75ea75"/><stop offset=".875" stop-color="#79ed74"/><stop offset=".900" stop-color="#96f862"/><stop offset=".925" stop-color="#9aff73"/><stop offset=".950" stop-color="#86ff7f"/><stop offset=".975" stop-color="#7fe96a"/><stop offset="1.000" stop-color="#99e44b"/></linearGradient><linearGradient id="gg8" gradientUnits="userSpaceOnUse" x1="-0.08" y1="0" x2="1.08" y2="0"><stop offset=".000" stop-color="#42ffc6"/><stop offset=".025" stop-color="#39fec5"/><stop offset=".050" stop-color="#3df7b9"/><stop offset=".075" stop-color="#44feba"/><stop offset=".100" stop-color="#43ffc5"/><stop offset=".125" stop-color="#2afff8"/><stop offset=".150" stop-color="#13ffef"/><stop offset=".175" stop-color="#00ffff"/><stop offset=".200" stop-color="#00ffff"/><stop offset=".225" stop-color="#00f1ff"/><stop offset=".250" stop-color="#00f4f5"/><stop offset=".275" stop-color="#13cdba"/><stop offset=".300" stop-color="#3af2b8"/><stop offset=".325" stop-color="#4de698"/><stop offset=".350" stop-color="#60ffc1"/><stop offset=".375" stop-color="#41ffc6"/><stop offset=".400" stop-color="#00ffff"/><stop offset=".425" stop-color="#00deff"/><stop offset=".450" stop-color="#00cdfe"/><stop offset=".475" stop-color="#00d7ed"/><stop offset=".500" stop-color="#00f4ff"/><stop offset=".525" stop-color="#00b6d8"/><stop offset=".550" stop-color="#00e4f3"/><stop offset=".575" stop-color="#10cfbe"/><stop offset=".600" stop-color="#2bfff0"/><stop offset=".625" stop-color="#00ffff"/><stop offset=".650" stop-color="#00d3e8"/><stop offset=".675" stop-color="#00ecf1"/><stop offset=".700" stop-color="#1ddfc2"/><stop offset=".725" stop-color="#2dffd4"/><stop offset=".750" stop-color="#31e9b8"/><stop offset=".775" stop-color="#49f7ad"/><stop offset=".800" stop-color="#4df1a4"/><stop offset=".825" stop-color="#53ef9b"/><stop offset=".850" stop-color="#79e167"/><stop offset=".875" stop-color="#8cf266"/><stop offset=".900" stop-color="#9cff74"/><stop offset=".925" stop-color="#82ff82"/><stop offset=".950" stop-color="#80f272"/><stop offset=".975" stop-color="#8ef061"/><stop offset="1.000" stop-color="#9ef051"/></linearGradient><linearGradient id="gg9" gradientUnits="userSpaceOnUse" x1="-0.08" y1="0" x2="1.08" y2="0"><stop offset=".000" stop-color="#48ffc7"/><stop offset=".025" stop-color="#31ffd8"/><stop offset=".050" stop-color="#31e8b7"/><stop offset=".075" stop-color="#4ce89b"/><stop offset=".100" stop-color="#5fffad"/><stop offset=".125" stop-color="#35ffef"/><stop offset=".150" stop-color="#0dffff"/><stop offset=".175" stop-color="#00f1f2"/><stop offset=".200" stop-color="#05ffff"/><stop offset=".225" stop-color="#00efff"/><stop offset=".250" stop-color="#00e6f1"/><stop offset=".275" stop-color="#1bbfa4"/><stop offset=".300" stop-color="#42fcb9"/><stop offset=".325" stop-color="#48f0a8"/><stop offset=".350" stop-color="#4cffc4"/><stop offset=".375" stop-color="#4dffbc"/><stop offset=".400" stop-color="#0affff"/><stop offset=".425" stop-color="#00eeff"/><stop offset=".450" stop-color="#00c1f0"/><stop offset=".475" stop-color="#00e8ff"/><stop offset=".500" stop-color="#00d5ff"/><stop offset=".525" stop-color="#00a0d5"/><stop offset=".550" stop-color="#00c9d8"/><stop offset=".575" stop-color="#20ccab"/><stop offset=".600" stop-color="#2cfff9"/><stop offset=".625" stop-color="#00fdff"/><stop offset=".650" stop-color="#00c1d7"/><stop offset=".675" stop-color="#02e7e4"/><stop offset=".700" stop-color="#1ff5d6"/><stop offset=".725" stop-color="#1efbdd"/><stop offset=".750" stop-color="#34d4a0"/><stop offset=".775" stop-color="#5effa2"/><stop offset=".800" stop-color="#55ffb1"/><stop offset=".825" stop-color="#3ed798"/><stop offset=".850" stop-color="#7ede5f"/><stop offset=".875" stop-color="#9df658"/><stop offset=".900" stop-color="#a2ff82"/><stop offset=".925" stop-color="#6ffa8b"/><stop offset=".950" stop-color="#7be267"/><stop offset=".975" stop-color="#9cf85b"/><stop offset="1.000" stop-color="#a0fa5a"/></linearGradient><linearGradient id="gg10" gradientUnits="userSpaceOnUse" x1="-0.08" y1="0" x2="1.08" y2="0"><stop offset=".000" stop-color="#4cffc4"/><stop offset=".025" stop-color="#32ffd9"/><stop offset=".050" stop-color="#31e3b1"/><stop offset=".075" stop-color="#53dd8a"/><stop offset=".100" stop-color="#73ff90"/><stop offset=".125" stop-color="#53ffd1"/><stop offset=".150" stop-color="#17ffff"/><stop offset=".175" stop-color="#07e5dd"/><stop offset=".200" stop-color="#0cffff"/><stop offset=".225" stop-color="#00f3ff"/><stop offset=".250" stop-color="#00eff9"/><stop offset=".275" stop-color="#20c0a0"/><stop offset=".300" stop-color="#43febb"/><stop offset=".325" stop-color="#44f9b5"/><stop offset=".350" stop-color="#37ffd6"/><stop offset=".375" stop-color="#3effd3"/><stop offset=".400" stop-color="#0affff"/><stop offset=".425" stop-color="#00f9ff"/><stop offset=".450" stop-color="#00c5e6"/><stop offset=".475" stop-color="#00ffff"/><stop offset=".500" stop-color="#00d5ff"/><stop offset=".525" stop-color="#00a6dd"/><stop offset=".550" stop-color="#00c1ce"/><stop offset=".575" stop-color="#27dab3"/><stop offset=".600" stop-color="#18ffff"/><stop offset=".625" stop-color="#00e0ff"/><stop offset=".650" stop-color="#00bacf"/><stop offset=".675" stop-color="#08ddd4"/><stop offset=".700" stop-color="#23ffde"/><stop offset=".725" stop-color="#19f9df"/><stop offset=".750" stop-color="#35cf9a"/><stop offset=".775" stop-color="#61ffa3"/><stop offset=".800" stop-color="#56ffb7"/><stop offset=".825" stop-color="#2ebf90"/><stop offset=".850" stop-color="#84e35e"/><stop offset=".875" stop-color="#a5ef49"/><stop offset=".900" stop-color="#abff79"/><stop offset=".925" stop-color="#6df88b"/><stop offset=".950" stop-color="#7ce165"/><stop offset=".975" stop-color="#9efc5d"/><stop offset="1.000" stop-color="#9cfd60"/></linearGradient><linearGradient id="gg11" gradientUnits="userSpaceOnUse" x1="-0.08" y1="0" x2="1.08" y2="0"><stop offset=".000" stop-color="#4affbf"/><stop offset=".025" stop-color="#3cffc6"/><stop offset=".050" stop-color="#40eaaa"/><stop offset=".075" stop-color="#58e38a"/><stop offset=".100" stop-color="#73f480"/><stop offset=".125" stop-color="#74ffb1"/><stop offset=".150" stop-color="#26fffe"/><stop offset=".175" stop-color="#0cebde"/><stop offset=".200" stop-color="#0effff"/><stop offset=".225" stop-color="#02f7f5"/><stop offset=".250" stop-color="#0afff7"/><stop offset=".275" stop-color="#27d5ad"/><stop offset=".300" stop-color="#3df9bb"/><stop offset=".325" stop-color="#45ffbe"/><stop offset=".350" stop-color="#23fff8"/><stop offset=".375" stop-color="#10ffff"/><stop offset=".400" stop-color="#00f4ff"/><stop offset=".425" stop-color="#00fbff"/><stop offset=".450" stop-color="#00dae2"/><stop offset=".475" stop-color="#08ffff"/><stop offset=".500" stop-color="#00e8ff"/><stop offset=".525" stop-color="#00c4ef"/><stop offset=".550" stop-color="#00cad9"/><stop offset=".575" stop-color="#17f4dd"/><stop offset=".600" stop-color="#00ffff"/><stop offset=".625" stop-color="#00bbff"/><stop offset=".650" stop-color="#00bbd1"/><stop offset=".675" stop-color="#0ad3c8"/><stop offset=".700" stop-color="#2bffd6"/><stop offset=".725" stop-color="#20fcdb"/><stop offset=".750" stop-color="#35dea8"/><stop offset=".775" stop-color="#50ffb0"/><stop offset=".800" stop-color="#51ffb4"/><stop offset=".825" stop-color="#3dbf81"/><stop offset=".850" stop-color="#87ea62"/><stop offset=".875" stop-color="#a2e240"/><stop offset=".900" stop-color="#beff67"/><stop offset=".925" stop-color="#7fff81"/><stop offset=".950" stop-color="#81f06f"/><stop offset=".975" stop-color="#92f967"/><stop offset="1.000" stop-color="#95f660"/></linearGradient><linearGradient id="gg12" gradientUnits="userSpaceOnUse" x1="-0.08" y1="0" x2="1.08" y2="0"><stop offset=".000" stop-color="#46ffb8"/><stop offset=".025" stop-color="#4bf3a8"/><stop offset=".050" stop-color="#58f9a1"/><stop offset=".075" stop-color="#5df497"/><stop offset=".100" stop-color="#69e47b"/><stop offset=".125" stop-color="#8dff95"/><stop offset=".150" stop-color="#39ffec"/><stop offset=".175" stop-color="#12fcea"/><stop offset=".200" stop-color="#12fbe9"/><stop offset=".225" stop-color="#1fe9c9"/><stop offset=".250" stop-color="#27ffdc"/><stop offset=".275" stop-color="#33f6c2"/><stop offset=".300" stop-color="#35f0ba"/><stop offset=".325" stop-color="#4affc5"/><stop offset=".350" stop-color="#13ffff"/><stop offset=".375" stop-color="#00ffff"/><stop offset=".400" stop-color="#00bcd6"/><stop offset=".425" stop-color="#0df1e3"/><stop offset=".450" stop-color="#18e6ce"/><stop offset=".475" stop-color="#19ffff"/><stop offset=".500" stop-color="#00e7ff"/><stop offset=".525" stop-color="#00e4ff"/><stop offset=".550" stop-color="#00d2ec"/><stop offset=".575" stop-color="#00fdff"/><stop offset=".600" stop-color="#00e7ff"/><stop offset=".625" stop-color="#00a6e6"/><stop offset=".650" stop-color="#00cbe0"/><stop offset=".675" stop-color="#0bcdc1"/><stop offset=".700" stop-color="#32f8c5"/><stop offset=".725" stop-color="#2fffd2"/><stop offset=".750" stop-color="#33f7c3"/><stop offset=".775" stop-color="#35f7c2"/><stop offset=".800" stop-color="#48f3aa"/><stop offset=".825" stop-color="#54c46f"/><stop offset=".850" stop-color="#89f167"/><stop offset=".875" stop-color="#9bde43"/><stop offset=".900" stop-color="#cbff56"/><stop offset=".925" stop-color="#9dff71"/><stop offset=".950" stop-color="#88ff7f"/><stop offset=".975" stop-color="#7ef475"/><stop offset="1.000" stop-color="#8be95d"/></linearGradient><linearGradient id="gg13" gradientUnits="userSpaceOnUse" x1="-0.08" y1="0" x2="1.08" y2="0"><stop offset=".000" stop-color="#47f5ae"/><stop offset=".025" stop-color="#59e68c"/><stop offset=".050" stop-color="#72ff94"/><stop offset=".075" stop-color="#65ff9d"/><stop offset=".100" stop-color="#64d571"/><stop offset=".125" stop-color="#9eff6c"/><stop offset=".150" stop-color="#5bffc9"/><stop offset=".175" stop-color="#2dffdb"/><stop offset=".200" stop-color="#2aebc1"/><stop offset=".225" stop-color="#4ae499"/><stop offset=".250" stop-color="#51ffb6"/><stop offset=".275" stop-color="#4bffcd"/><stop offset=".300" stop-color="#38ecb4"/><stop offset=".325" stop-color="#51ffc8"/><stop offset=".350" stop-color="#11ffff"/><stop offset=".375" stop-color="#00f6ff"/><stop offset=".400" stop-color="#00acc0"/><stop offset=".425" stop-color="#23e9c6"/><stop offset=".450" stop-color="#3becb1"/><stop offset=".475" stop-color="#26fffe"/><stop offset=".500" stop-color="#00e0f9"/><stop offset=".525" stop-color="#00faff"/><stop offset=".550" stop-color="#00cef6"/><stop offset=".575" stop-color="#00eaff"/><stop offset=".600" stop-color="#00d1ff"/><stop offset=".625" stop-color="#00b3d7"/><stop offset=".650" stop-color="#00f5f9"/><stop offset=".675" stop-color="#13d1bd"/><stop offset=".700" stop-color="#3af2b8"/><stop offset=".725" stop-color="#3cffca"/><stop offset=".750" stop-color="#2fffe0"/><stop offset=".775" stop-color="#1feecf"/><stop offset=".800" stop-color="#3fe3a4"/><stop offset=".825" stop-color="#65c863"/><stop offset=".850" stop-color="#8df86b"/><stop offset=".875" stop-color="#97e34b"/><stop offset=".900" stop-color="#beff47"/><stop offset=".925" stop-color="#b9ff5f"/><stop offset=".950" stop-color="#90ff8c"/><stop offset=".975" stop-color="#70f080"/><stop offset="1.000" stop-color="#84df5b"/></linearGradient><linearGradient id="gg14" gradientUnits="userSpaceOnUse" x1="-0.08" y1="0" x2="1.08" y2="0"><stop offset=".000" stop-color="#4ff0a1"/><stop offset=".025" stop-color="#66e47d"/><stop offset=".050" stop-color="#81ff87"/><stop offset=".075" stop-color="#70ff93"/><stop offset=".100" stop-color="#6cce62"/><stop offset=".125" stop-color="#b2fe4b"/><stop offset=".150" stop-color="#86ff9f"/><stop offset=".175" stop-color="#5effad"/><stop offset=".200" stop-color="#53e692"/><stop offset=".225" stop-color="#7ae96f"/><stop offset=".250" stop-color="#80ff89"/><stop offset=".275" stop-color="#6affba"/><stop offset=".300" stop-color="#48f3ab"/><stop offset=".325" stop-color="#55ffcf"/><stop offset=".350" stop-color="#16ffff"/><stop offset=".375" stop-color="#00f9ff"/><stop offset=".400" stop-color="#00b8c0"/><stop offset=".425" stop-color="#2de7b9"/><stop offset=".450" stop-color="#4ff2a2"/><stop offset=".475" stop-color="#2bfffa"/><stop offset=".500" stop-color="#00e5f4"/><stop offset=".525" stop-color="#00ffff"/><stop offset=".550" stop-color="#00c5f2"/><stop offset=".575" stop-color="#00e3ff"/><stop offset=".600" stop-color="#00d4f8"/><stop offset=".625" stop-color="#00d0d3"/><stop offset=".650" stop-color="#13fff4"/><stop offset=".675" stop-color="#22dbb8"/><stop offset=".700" stop-color="#40f8b8"/><stop offset=".725" stop-color="#3fffc9"/><stop offset=".750" stop-color="#2affef"/><stop offset=".775" stop-color="#16e8d1"/><stop offset=".800" stop-color="#39d9a0"/><stop offset=".825" stop-color="#70ce5e"/><stop offset=".850" stop-color="#8ff768"/><stop offset=".875" stop-color="#9aec51"/><stop offset=".900" stop-color="#b4f743"/><stop offset=".925" stop-color="#c4ff55"/><stop offset=".950" stop-color="#97ff8b"/><stop offset=".975" stop-color="#6ff384"/><stop offset="1.000" stop-color="#82e15f"/></linearGradient><linearGradient id="gg15" gradientUnits="userSpaceOnUse" x1="-0.08" y1="0" x2="1.08" y2="0"><stop offset=".000" stop-color="#5ef596"/><stop offset=".025" stop-color="#6df183"/><stop offset=".050" stop-color="#79ff8b"/><stop offset=".075" stop-color="#71fe8c"/><stop offset=".100" stop-color="#72dd6a"/><stop offset=".125" stop-color="#adff5d"/><stop offset=".150" stop-color="#7bffa6"/><stop offset=".175" stop-color="#65ffa2"/><stop offset=".200" stop-color="#5cea8d"/><stop offset=".225" stop-color="#7ef576"/><stop offset=".250" stop-color="#7efa7c"/><stop offset=".275" stop-color="#79ffa9"/><stop offset=".300" stop-color="#59ffa5"/><stop offset=".325" stop-color="#49ffdb"/><stop offset=".350" stop-color="#13ffff"/><stop offset=".375" stop-color="#00f6ff"/><stop offset=".400" stop-color="#00cbcc"/><stop offset=".425" stop-color="#25e1bb"/><stop offset=".450" stop-color="#50f1a1"/><stop offset=".475" stop-color="#2dfff8"/><stop offset=".500" stop-color="#00fcff"/><stop offset=".525" stop-color="#00fdff"/><stop offset=".550" stop-color="#00c0e7"/><stop offset=".575" stop-color="#00eaff"/><stop offset=".600" stop-color="#00def4"/><stop offset=".625" stop-color="#0bd1c5"/><stop offset=".650" stop-color="#24fbd7"/><stop offset=".675" stop-color="#38e8b0"/><stop offset=".700" stop-color="#43ffc7"/><stop offset=".725" stop-color="#34ffd2"/><stop offset=".750" stop-color="#27ffe9"/><stop offset=".775" stop-color="#1de6c8"/><stop offset=".800" stop-color="#37d49c"/><stop offset=".825" stop-color="#75d761"/><stop offset=".850" stop-color="#8fed5e"/><stop offset=".875" stop-color="#a5f651"/><stop offset=".900" stop-color="#aefa4b"/><stop offset=".925" stop-color="#baff57"/><stop offset=".950" stop-color="#9dff7b"/><stop offset=".975" stop-color="#7efb7d"/><stop offset="1.000" stop-color="#86f069"/></linearGradient><linearGradient id="gg16" gradientUnits="userSpaceOnUse" x1="-0.08" y1="0" x2="1.08" y2="0"><stop offset=".000" stop-color="#70ff8f"/><stop offset=".025" stop-color="#6cff9b"/><stop offset=".050" stop-color="#60fc9c"/><stop offset=".075" stop-color="#67f58d"/><stop offset=".100" stop-color="#6efb8c"/><stop offset=".125" stop-color="#7fffa6"/><stop offset=".150" stop-color="#38ffd2"/><stop offset=".175" stop-color="#3bffc4"/><stop offset=".200" stop-color="#39f4ba"/><stop offset=".225" stop-color="#4affb6"/><stop offset=".250" stop-color="#4edb8c"/><stop offset=".275" stop-color="#69ff9a"/><stop offset=".300" stop-color="#66ffa3"/><stop offset=".325" stop-color="#35ffef"/><stop offset=".350" stop-color="#0affff"/><stop offset=".375" stop-color="#00f2ff"/><stop offset=".400" stop-color="#00e2e1"/><stop offset=".425" stop-color="#15dac5"/><stop offset=".450" stop-color="#47e69f"/><stop offset=".475" stop-color="#35ffef"/><stop offset=".500" stop-color="#04ffff"/><stop offset=".525" stop-color="#00f2ff"/><stop offset=".550" stop-color="#00bfdb"/><stop offset=".575" stop-color="#00fbff"/><stop offset=".600" stop-color="#00eaff"/><stop offset=".625" stop-color="#09d1c7"/><stop offset=".650" stop-color="#28e0b8"/><stop offset=".675" stop-color="#4ff6a7"/><stop offset=".700" stop-color="#41ffe0"/><stop offset=".725" stop-color="#22ffde"/><stop offset=".750" stop-color="#26fcd5"/><stop offset=".775" stop-color="#31e8b6"/><stop offset=".800" stop-color="#3ed89a"/><stop offset=".825" stop-color="#76e26b"/><stop offset=".850" stop-color="#8de052"/><stop offset=".875" stop-color="#b4ff50"/><stop offset=".900" stop-color="#a7ff5f"/><stop offset=".925" stop-color="#9fff61"/><stop offset=".950" stop-color="#9eff63"/><stop offset=".975" stop-color="#9aff6c"/><stop offset="1.000" stop-color="#8fff76"/></linearGradient><linearGradient id="gg17" gradientUnits="userSpaceOnUse" x1="-0.08" y1="0" x2="1.08" y2="0"><stop offset=".000" stop-color="#7bff8d"/><stop offset=".025" stop-color="#64ffb5"/><stop offset=".050" stop-color="#49f2a8"/><stop offset=".075" stop-color="#61eb89"/><stop offset=".100" stop-color="#6cffa4"/><stop offset=".125" stop-color="#4fffd6"/><stop offset=".150" stop-color="#0ef7e8"/><stop offset=".175" stop-color="#1cfbde"/><stop offset=".200" stop-color="#1bffe5"/><stop offset=".225" stop-color="#15fff5"/><stop offset=".250" stop-color="#2cc295"/><stop offset=".275" stop-color="#5ce589"/><stop offset=".300" stop-color="#76ff9c"/><stop offset=".325" stop-color="#29fffb"/><stop offset=".350" stop-color="#04ffff"/><stop offset=".375" stop-color="#00f0fc"/><stop offset=".400" stop-color="#00f8f9"/><stop offset=".425" stop-color="#05d5d0"/><stop offset=".450" stop-color="#3cdc9f"/><stop offset=".475" stop-color="#3bffe9"/><stop offset=".500" stop-color="#0effff"/><stop offset=".525" stop-color="#00eaff"/><stop offset=".550" stop-color="#00c3d3"/><stop offset=".575" stop-color="#03ffff"/><stop offset=".600" stop-color="#00f4ff"/><stop offset=".625" stop-color="#03d4d1"/><stop offset=".650" stop-color="#26c8a1"/><stop offset=".675" stop-color="#5fffa4"/><stop offset=".700" stop-color="#36ffee"/><stop offset=".725" stop-color="#12f8e6"/><stop offset=".750" stop-color="#27e6be"/><stop offset=".775" stop-color="#48eaa2"/><stop offset=".800" stop-color="#4be094"/><stop offset=".825" stop-color="#78f077"/><stop offset=".850" stop-color="#8dd84b"/><stop offset=".875" stop-color="#beff55"/><stop offset=".900" stop-color="#9aff76"/><stop offset=".925" stop-color="#85ef69"/><stop offset=".950" stop-color="#9bea4e"/><stop offset=".975" stop-color="#b8ff57"/><stop offset="1.000" stop-color="#9dff7c"/></linearGradient><clipPath id="cliph"><path d="M422.4,323.0 L426.8,311.3 L432.6,302.5 L437.0,295.2 L441.4,293.0 L447.2,293.8 L454.5,293.0 L458.9,292.3 L466.2,294.5 L473.5,295.2 L479.3,296.7 L486.6,298.1 L495.4,299.6 L499.8,298.9 L501.9,301.1 L507.1,304.0 L511.4,306.9 L512.9,314.2 L512.2,325.9 L510.7,333.2 L505.6,340.5 L499.8,344.9 L491.0,347.8 L482.2,346.3 L476.4,341.9 L470.6,341.2 L464.7,337.6 L456.0,339.7 L447.2,339.0 L441.4,337.6 L434.1,335.4 L428.2,332.4 L423.8,328.8 Z"/></clipPath><linearGradient id="gh0" gradientUnits="userSpaceOnUse" x1="-0.08" y1="0" x2="1.08" y2="0"><stop offset=".000" stop-color="#9dff73"/><stop offset=".025" stop-color="#86ff80"/><stop offset=".050" stop-color="#7ef374"/><stop offset=".075" stop-color="#8dea5d"/><stop offset=".100" stop-color="#9ee445"/><stop offset=".125" stop-color="#c9ff3a"/><stop offset=".150" stop-color="#acff79"/><stop offset=".175" stop-color="#76ffae"/><stop offset=".200" stop-color="#12ffff"/><stop offset=".225" stop-color="#00ffff"/><stop offset=".250" stop-color="#02bfbc"/><stop offset=".275" stop-color="#62ed8a"/><stop offset=".300" stop-color="#81c745"/><stop offset=".325" stop-color="#beff66"/><stop offset=".350" stop-color="#5effbd"/><stop offset=".375" stop-color="#14ffff"/><stop offset=".400" stop-color="#00feff"/><stop offset=".425" stop-color="#00e1e9"/><stop offset=".450" stop-color="#22ceac"/><stop offset=".475" stop-color="#3ccf92"/><stop offset=".500" stop-color="#7bfa7e"/><stop offset=".525" stop-color="#45ffdf"/><stop offset=".550" stop-color="#10ffff"/><stop offset=".575" stop-color="#00f3ff"/><stop offset=".600" stop-color="#23bf9b"/><stop offset=".625" stop-color="#4bc377"/><stop offset=".650" stop-color="#9cfc60"/><stop offset=".675" stop-color="#6bffb9"/><stop offset=".700" stop-color="#31fff3"/><stop offset=".725" stop-color="#00f1f7"/><stop offset=".750" stop-color="#31bf8d"/><stop offset=".775" stop-color="#58d67e"/><stop offset=".800" stop-color="#8fed5e"/><stop offset=".825" stop-color="#83ffa1"/><stop offset=".850" stop-color="#5effc6"/><stop offset=".875" stop-color="#22ffef"/><stop offset=".900" stop-color="#3fbf7f"/><stop offset=".925" stop-color="#6def81"/><stop offset=".950" stop-color="#83f36f"/><stop offset=".975" stop-color="#8ffb6b"/><stop offset="1.000" stop-color="#93fe6b"/></linearGradient><linearGradient id="gh1" gradientUnits="userSpaceOnUse" x1="-0.08" y1="0" x2="1.08" y2="0"><stop offset=".000" stop-color="#acff65"/><stop offset=".025" stop-color="#91ff7f"/><stop offset=".050" stop-color="#7cf679"/><stop offset=".075" stop-color="#89e95f"/><stop offset=".100" stop-color="#9ce447"/><stop offset=".125" stop-color="#c8ff42"/><stop offset=".150" stop-color="#a1ff84"/><stop offset=".175" stop-color="#75ffaf"/><stop offset=".200" stop-color="#00ffff"/><stop offset=".225" stop-color="#00e8ff"/><stop offset=".250" stop-color="#007bbf"/><stop offset=".275" stop-color="#2ed7a8"/><stop offset=".300" stop-color="#74bf4a"/><stop offset=".325" stop-color="#b7ff6d"/><stop offset=".350" stop-color="#60ffb7"/><stop offset=".375" stop-color="#17ffff"/><stop offset=".400" stop-color="#00ffff"/><stop offset=".425" stop-color="#00d9e3"/><stop offset=".450" stop-color="#21dbba"/><stop offset=".475" stop-color="#2dc699"/><stop offset=".500" stop-color="#73f07c"/><stop offset=".525" stop-color="#51ffd4"/><stop offset=".550" stop-color="#22ffff"/><stop offset=".575" stop-color="#00fdfd"/><stop offset=".600" stop-color="#2ac69c"/><stop offset=".625" stop-color="#44bf7a"/><stop offset=".650" stop-color="#a1ff70"/><stop offset=".675" stop-color="#50ffd4"/><stop offset=".700" stop-color="#15ffff"/><stop offset=".725" stop-color="#00bbc6"/><stop offset=".750" stop-color="#45bf79"/><stop offset=".775" stop-color="#66e079"/><stop offset=".800" stop-color="#91fa68"/><stop offset=".825" stop-color="#78ffac"/><stop offset=".850" stop-color="#55ffcf"/><stop offset=".875" stop-color="#1bffeb"/><stop offset=".900" stop-color="#42bf7c"/><stop offset=".925" stop-color="#6ee274"/><stop offset=".950" stop-color="#92f462"/><stop offset=".975" stop-color="#9eff6a"/><stop offset="1.000" stop-color="#8fff78"/></linearGradient><linearGradient id="gh2" gradientUnits="userSpaceOnUse" x1="-0.08" y1="0" x2="1.08" y2="0"><stop offset=".000" stop-color="#b3ff59"/><stop offset=".025" stop-color="#9eff73"/><stop offset=".050" stop-color="#87f770"/><stop offset=".075" stop-color="#93f561"/><stop offset=".100" stop-color="#97e74f"/><stop offset=".125" stop-color="#c4ff3f"/><stop offset=".150" stop-color="#a0ff84"/><stop offset=".175" stop-color="#77ffae"/><stop offset=".200" stop-color="#15ffff"/><stop offset=".225" stop-color="#00ffff"/><stop offset=".250" stop-color="#0090bf"/><stop offset=".275" stop-color="#2bffea"/><stop offset=".300" stop-color="#69bf55"/><stop offset=".325" stop-color="#a8ff7c"/><stop offset=".350" stop-color="#65ffaf"/><stop offset=".375" stop-color="#21ffff"/><stop offset=".400" stop-color="#00ffff"/><stop offset=".425" stop-color="#00cedc"/><stop offset=".450" stop-color="#20e2c1"/><stop offset=".475" stop-color="#26bf98"/><stop offset=".500" stop-color="#76ce58"/><stop offset=".525" stop-color="#8dff97"/><stop offset=".550" stop-color="#4dffd8"/><stop offset=".575" stop-color="#1fffdf"/><stop offset=".600" stop-color="#37ffca"/><stop offset=".625" stop-color="#10bfae"/><stop offset=".650" stop-color="#8bff7f"/><stop offset=".675" stop-color="#3bffe9"/><stop offset=".700" stop-color="#0bffff"/><stop offset=".725" stop-color="#00babf"/><stop offset=".750" stop-color="#58c56d"/><stop offset=".775" stop-color="#76e36d"/><stop offset=".800" stop-color="#9aff6b"/><stop offset=".825" stop-color="#71ffb3"/><stop offset=".850" stop-color="#45ffdf"/><stop offset=".875" stop-color="#17f0d8"/><stop offset=".900" stop-color="#4cbf73"/><stop offset=".925" stop-color="#77e069"/><stop offset=".950" stop-color="#9df95c"/><stop offset=".975" stop-color="#a2ff6d"/><stop offset="1.000" stop-color="#8aff82"/></linearGradient><linearGradient id="gh3" gradientUnits="userSpaceOnUse" x1="-0.08" y1="0" x2="1.08" y2="0"><stop offset=".000" stop-color="#adff54"/><stop offset=".025" stop-color="#a7ff5f"/><stop offset=".050" stop-color="#9ae84e"/><stop offset=".075" stop-color="#c2ff4e"/><stop offset=".100" stop-color="#9cf659"/><stop offset=".125" stop-color="#bdff46"/><stop offset=".150" stop-color="#9cff7d"/><stop offset=".175" stop-color="#76ffaf"/><stop offset=".200" stop-color="#3cffd2"/><stop offset=".225" stop-color="#15ffff"/><stop offset=".250" stop-color="#13c7b4"/><stop offset=".275" stop-color="#23ffff"/><stop offset=".300" stop-color="#5bbf64"/><stop offset=".325" stop-color="#94ff90"/><stop offset=".350" stop-color="#6bffaa"/><stop offset=".375" stop-color="#2cfff6"/><stop offset=".400" stop-color="#02ffff"/><stop offset=".425" stop-color="#00cedc"/><stop offset=".450" stop-color="#1deccf"/><stop offset=".475" stop-color="#2dbf92"/><stop offset=".500" stop-color="#91bf2d"/><stop offset=".525" stop-color="#ffff1c"/><stop offset=".550" stop-color="#a9ff7c"/><stop offset=".575" stop-color="#59ffb4"/><stop offset=".600" stop-color="#42ffe2"/><stop offset=".625" stop-color="#00a1bf"/><stop offset=".650" stop-color="#85ff87"/><stop offset=".675" stop-color="#32ffee"/><stop offset=".700" stop-color="#16ffff"/><stop offset=".725" stop-color="#0dbfb1"/><stop offset=".750" stop-color="#66cd66"/><stop offset=".775" stop-color="#85db55"/><stop offset=".800" stop-color="#b2ff5f"/><stop offset=".825" stop-color="#75ffaf"/><stop offset=".850" stop-color="#33fff1"/><stop offset=".875" stop-color="#15d3bd"/><stop offset=".900" stop-color="#5bc76b"/><stop offset=".925" stop-color="#84e763"/><stop offset=".950" stop-color="#a0ff5f"/><stop offset=".975" stop-color="#9eff70"/><stop offset="1.000" stop-color="#89ff81"/></linearGradient><linearGradient id="gh4" gradientUnits="userSpaceOnUse" x1="-0.08" y1="0" x2="1.08" y2="0"><stop offset=".000" stop-color="#9ff657"/><stop offset=".025" stop-color="#a7f64f"/><stop offset=".050" stop-color="#a7d12a"/><stop offset=".075" stop-color="#f7ff2d"/><stop offset=".100" stop-color="#a6ff62"/><stop offset=".125" stop-color="#b4ff60"/><stop offset=".150" stop-color="#89ff76"/><stop offset=".175" stop-color="#6cffb8"/><stop offset=".200" stop-color="#3affda"/><stop offset=".225" stop-color="#16ffff"/><stop offset=".250" stop-color="#1dcfb2"/><stop offset=".275" stop-color="#16ffff"/><stop offset=".300" stop-color="#50bf6e"/><stop offset=".325" stop-color="#7cff99"/><stop offset=".350" stop-color="#75ffb0"/><stop offset=".375" stop-color="#20fff5"/><stop offset=".400" stop-color="#04ffff"/><stop offset=".425" stop-color="#00d4dd"/><stop offset=".450" stop-color="#1ef3d4"/><stop offset=".475" stop-color="#36bf88"/><stop offset=".500" stop-color="#7ebf41"/><stop offset=".525" stop-color="#bde426"/><stop offset=".550" stop-color="#c3ff62"/><stop offset=".575" stop-color="#7aff91"/><stop offset=".600" stop-color="#57ffcd"/><stop offset=".625" stop-color="#21bf9e"/><stop offset=".650" stop-color="#a8ff7c"/><stop offset=".675" stop-color="#30ffde"/><stop offset=".700" stop-color="#20ffff"/><stop offset=".725" stop-color="#18bfa7"/><stop offset=".750" stop-color="#6ace64"/><stop offset=".775" stop-color="#8fc636"/><stop offset=".800" stop-color="#dfff3f"/><stop offset=".825" stop-color="#85ff9f"/><stop offset=".850" stop-color="#26fffe"/><stop offset=".875" stop-color="#16bfa8"/><stop offset=".900" stop-color="#6cd366"/><stop offset=".925" stop-color="#8ef163"/><stop offset=".950" stop-color="#9cff67"/><stop offset=".975" stop-color="#95ff6f"/><stop offset="1.000" stop-color="#8eff77"/></linearGradient><linearGradient id="gh5" gradientUnits="userSpaceOnUse" x1="-0.08" y1="0" x2="1.08" y2="0"><stop offset=".000" stop-color="#91f05e"/><stop offset=".025" stop-color="#a1ec4a"/><stop offset=".050" stop-color="#b8e82f"/><stop offset=".075" stop-color="#c8ff5c"/><stop offset=".100" stop-color="#8bef63"/><stop offset=".125" stop-color="#abff79"/><stop offset=".150" stop-color="#75ed78"/><stop offset=".175" stop-color="#5dffc8"/><stop offset=".200" stop-color="#30ffea"/><stop offset=".225" stop-color="#0fffff"/><stop offset=".250" stop-color="#21cead"/><stop offset=".275" stop-color="#2fffe6"/><stop offset=".300" stop-color="#5cd175"/><stop offset=".325" stop-color="#68ffb2"/><stop offset=".350" stop-color="#43ffe1"/><stop offset=".375" stop-color="#00dffd"/><stop offset=".400" stop-color="#00f0ff"/><stop offset=".425" stop-color="#00d2d5"/><stop offset=".450" stop-color="#29f2c9"/><stop offset=".475" stop-color="#45c883"/><stop offset=".500" stop-color="#77ffa8"/><stop offset=".525" stop-color="#48e59c"/><stop offset=".550" stop-color="#50ffc9"/><stop offset=".575" stop-color="#54e38f"/><stop offset=".600" stop-color="#52ffd2"/><stop offset=".625" stop-color="#4bbf73"/><stop offset=".650" stop-color="#adff77"/><stop offset=".675" stop-color="#31ffcf"/><stop offset=".700" stop-color="#1fffff"/><stop offset=".725" stop-color="#17bfa7"/><stop offset=".750" stop-color="#67ca63"/><stop offset=".775" stop-color="#a2bf1c"/><stop offset=".800" stop-color="#ffff15"/><stop offset=".825" stop-color="#97ff8d"/><stop offset=".850" stop-color="#23ffff"/><stop offset=".875" stop-color="#1bbfa4"/><stop offset=".900" stop-color="#78e26a"/><stop offset=".925" stop-color="#91f967"/><stop offset=".950" stop-color="#93ff6f"/><stop offset=".975" stop-color="#8ffa6a"/><stop offset="1.000" stop-color="#97ff6a"/></linearGradient><linearGradient id="gh6" gradientUnits="userSpaceOnUse" x1="-0.08" y1="0" x2="1.08" y2="0"><stop offset=".000" stop-color="#8aef65"/><stop offset=".025" stop-color="#9be74b"/><stop offset=".050" stop-color="#bffd3d"/><stop offset=".075" stop-color="#afff75"/><stop offset=".100" stop-color="#93e350"/><stop offset=".125" stop-color="#a4ff80"/><stop offset=".150" stop-color="#67eb84"/><stop offset=".175" stop-color="#4affda"/><stop offset=".200" stop-color="#27fff7"/><stop offset=".225" stop-color="#0ef8ea"/><stop offset=".250" stop-color="#3ac489"/><stop offset=".275" stop-color="#56f49d"/><stop offset=".300" stop-color="#7ff576"/><stop offset=".325" stop-color="#60ffc4"/><stop offset=".350" stop-color="#30fff4"/><stop offset=".375" stop-color="#00e5ff"/><stop offset=".400" stop-color="#00eff9"/><stop offset=".425" stop-color="#06cfc9"/><stop offset=".450" stop-color="#35efba"/><stop offset=".475" stop-color="#59d77d"/><stop offset=".500" stop-color="#60ffc4"/><stop offset=".525" stop-color="#11fdec"/><stop offset=".550" stop-color="#00f8ff"/><stop offset=".575" stop-color="#2dc79a"/><stop offset=".600" stop-color="#31fff3"/><stop offset=".625" stop-color="#4ebf70"/><stop offset=".650" stop-color="#9aff8a"/><stop offset=".675" stop-color="#2ffdce"/><stop offset=".700" stop-color="#12ffff"/><stop offset=".725" stop-color="#15bfa9"/><stop offset=".750" stop-color="#60c564"/><stop offset=".775" stop-color="#b0bf0f"/><stop offset=".800" stop-color="#ffff00"/><stop offset=".825" stop-color="#87ff9d"/><stop offset=".850" stop-color="#22ffff"/><stop offset=".875" stop-color="#21bf9d"/><stop offset=".900" stop-color="#7bef74"/><stop offset=".925" stop-color="#8bfa6e"/><stop offset=".950" stop-color="#8cfe72"/><stop offset=".975" stop-color="#8ef465"/><stop offset="1.000" stop-color="#9dff62"/></linearGradient><linearGradient id="gh7" gradientUnits="userSpaceOnUse" x1="-0.08" y1="0" x2="1.08" y2="0"><stop offset=".000" stop-color="#8af166"/><stop offset=".025" stop-color="#97df48"/><stop offset=".050" stop-color="#b8db22"/><stop offset=".075" stop-color="#eafa10"/><stop offset=".100" stop-color="#feff17"/><stop offset=".125" stop-color="#b5ff6f"/><stop offset=".150" stop-color="#68ff97"/><stop offset=".175" stop-color="#37ffe5"/><stop offset=".200" stop-color="#21fffa"/><stop offset=".225" stop-color="#10e3d3"/><stop offset=".250" stop-color="#4dc274"/><stop offset=".275" stop-color="#6dde71"/><stop offset=".300" stop-color="#a4ff6c"/><stop offset=".325" stop-color="#64ffc0"/><stop offset=".350" stop-color="#39ffeb"/><stop offset=".375" stop-color="#00f3ff"/><stop offset=".400" stop-color="#00eded"/><stop offset=".425" stop-color="#13cdb9"/><stop offset=".450" stop-color="#3eecae"/><stop offset=".475" stop-color="#67e37b"/><stop offset=".500" stop-color="#5affca"/><stop offset=".525" stop-color="#0afffe"/><stop offset=".550" stop-color="#00d4ff"/><stop offset=".575" stop-color="#1abfa5"/><stop offset=".600" stop-color="#20ffff"/><stop offset=".625" stop-color="#54bf6a"/><stop offset=".650" stop-color="#8aff9a"/><stop offset=".675" stop-color="#24ffe0"/><stop offset=".700" stop-color="#00ffff"/><stop offset=".725" stop-color="#17bfa8"/><stop offset=".750" stop-color="#5dc668"/><stop offset=".775" stop-color="#abbf13"/><stop offset=".800" stop-color="#ffff0f"/><stop offset=".825" stop-color="#71ffb3"/><stop offset=".850" stop-color="#24fff5"/><stop offset=".875" stop-color="#2abf94"/><stop offset=".900" stop-color="#76f881"/><stop offset=".925" stop-color="#82f472"/><stop offset=".950" stop-color="#8af86e"/><stop offset=".975" stop-color="#91f664"/><stop offset="1.000" stop-color="#9dff64"/></linearGradient><linearGradient id="gh8" gradientUnits="userSpaceOnUse" x1="-0.08" y1="0" x2="1.08" y2="0"><stop offset=".000" stop-color="#92f563"/><stop offset=".025" stop-color="#97df47"/><stop offset=".050" stop-color="#aec214"/><stop offset=".075" stop-color="#d3ad00"/><stop offset=".100" stop-color="#ffff00"/><stop offset=".125" stop-color="#c6ff5e"/><stop offset=".150" stop-color="#71ffae"/><stop offset=".175" stop-color="#28ffec"/><stop offset=".200" stop-color="#20fff1"/><stop offset=".225" stop-color="#15d9c3"/><stop offset=".250" stop-color="#57ce77"/><stop offset=".275" stop-color="#71cc5b"/><stop offset=".300" stop-color="#bdff63"/><stop offset=".325" stop-color="#66ffbe"/><stop offset=".350" stop-color="#26fffe"/><stop offset=".375" stop-color="#00c6ff"/><stop offset=".400" stop-color="#00c2c4"/><stop offset=".425" stop-color="#20cdad"/><stop offset=".450" stop-color="#42eba8"/><stop offset=".475" stop-color="#6cf387"/><stop offset=".500" stop-color="#53ffd2"/><stop offset=".525" stop-color="#12fffc"/><stop offset=".550" stop-color="#00d2ff"/><stop offset=".575" stop-color="#12bfac"/><stop offset=".600" stop-color="#2cffd4"/><stop offset=".625" stop-color="#64bf5a"/><stop offset=".650" stop-color="#80ffa4"/><stop offset=".675" stop-color="#16fffe"/><stop offset=".700" stop-color="#00f7ff"/><stop offset=".725" stop-color="#1dbfa1"/><stop offset=".750" stop-color="#5fcd6e"/><stop offset=".775" stop-color="#99c026"/><stop offset=".800" stop-color="#e5ff3f"/><stop offset=".825" stop-color="#86ff9f"/><stop offset=".850" stop-color="#30fff4"/><stop offset=".875" stop-color="#34bf8a"/><stop offset=".900" stop-color="#71fb8a"/><stop offset=".925" stop-color="#7bee72"/><stop offset=".950" stop-color="#8cf669"/><stop offset=".975" stop-color="#96ff68"/><stop offset="1.000" stop-color="#95ff70"/></linearGradient><linearGradient id="gh9" gradientUnits="userSpaceOnUse" x1="-0.08" y1="0" x2="1.08" y2="0"><stop offset=".000" stop-color="#9bf95d"/><stop offset=".025" stop-color="#9dee51"/><stop offset=".050" stop-color="#a2c826"/><stop offset=".075" stop-color="#bf8b00"/><stop offset=".100" stop-color="#ffff00"/><stop offset=".125" stop-color="#b8ff6c"/><stop offset=".150" stop-color="#6affbb"/><stop offset=".175" stop-color="#1dffe9"/><stop offset=".200" stop-color="#24ffe1"/><stop offset=".225" stop-color="#22ceac"/><stop offset=".250" stop-color="#68e47c"/><stop offset=".275" stop-color="#74c854"/><stop offset=".300" stop-color="#c2ff62"/><stop offset=".325" stop-color="#67ffbe"/><stop offset=".350" stop-color="#18ffff"/><stop offset=".375" stop-color="#00a5ff"/><stop offset=".400" stop-color="#00babf"/><stop offset=".425" stop-color="#2ad3a8"/><stop offset=".450" stop-color="#41eba9"/><stop offset=".475" stop-color="#68ffa5"/><stop offset=".500" stop-color="#45ffdf"/><stop offset=".525" stop-color="#1cffed"/><stop offset=".550" stop-color="#00eeff"/><stop offset=".575" stop-color="#11bfad"/><stop offset=".600" stop-color="#37d59e"/><stop offset=".625" stop-color="#79cd54"/><stop offset=".650" stop-color="#75ffaf"/><stop offset=".675" stop-color="#05fff9"/><stop offset=".700" stop-color="#00d4ff"/><stop offset=".725" stop-color="#28bf97"/><stop offset=".750" stop-color="#65d973"/><stop offset=".775" stop-color="#9cd437"/><stop offset=".800" stop-color="#a8ff7c"/><stop offset=".825" stop-color="#7bffa9"/><stop offset=".850" stop-color="#2afff3"/><stop offset=".875" stop-color="#3fbf7f"/><stop offset=".900" stop-color="#71ff8e"/><stop offset=".925" stop-color="#7bea6f"/><stop offset=".950" stop-color="#91f866"/><stop offset=".975" stop-color="#98ff72"/><stop offset="1.000" stop-color="#87ff80"/></linearGradient><linearGradient id="gh10" gradientUnits="userSpaceOnUse" x1="-0.08" y1="0" x2="1.08" y2="0"><stop offset=".000" stop-color="#a0f959"/><stop offset=".025" stop-color="#a4fd59"/><stop offset=".050" stop-color="#96d53f"/><stop offset=".075" stop-color="#bf6c00"/><stop offset=".100" stop-color="#ffff0c"/><stop offset=".125" stop-color="#9dff87"/><stop offset=".150" stop-color="#61ffc4"/><stop offset=".175" stop-color="#19f6dd"/><stop offset=".200" stop-color="#2af7cc"/><stop offset=".225" stop-color="#3bbf83"/><stop offset=".250" stop-color="#a0ff65"/><stop offset=".275" stop-color="#8ddf51"/><stop offset=".300" stop-color="#b9ff6b"/><stop offset=".325" stop-color="#62ffba"/><stop offset=".350" stop-color="#16ffff"/><stop offset=".375" stop-color="#00c7ff"/><stop offset=".400" stop-color="#00bfbe"/><stop offset=".425" stop-color="#33e2ae"/><stop offset=".450" stop-color="#3ce7ab"/><stop offset=".475" stop-color="#5affca"/><stop offset=".500" stop-color="#31ffe1"/><stop offset=".525" stop-color="#26ffdb"/><stop offset=".550" stop-color="#00ffff"/><stop offset=".575" stop-color="#00bdca"/><stop offset=".600" stop-color="#2abf94"/><stop offset=".625" stop-color="#85e25d"/><stop offset=".650" stop-color="#63ffc1"/><stop offset=".675" stop-color="#00bdc0"/><stop offset=".700" stop-color="#00cdff"/><stop offset=".725" stop-color="#35bf8a"/><stop offset=".750" stop-color="#6de073"/><stop offset=".775" stop-color="#a2d937"/><stop offset=".800" stop-color="#79ffab"/><stop offset=".825" stop-color="#59ffc3"/><stop offset=".850" stop-color="#16fff1"/><stop offset=".875" stop-color="#4abf74"/><stop offset=".900" stop-color="#77ff90"/><stop offset=".925" stop-color="#81eb6a"/><stop offset=".950" stop-color="#95ff69"/><stop offset=".975" stop-color="#92ff7d"/><stop offset="1.000" stop-color="#7bff8a"/></linearGradient><linearGradient id="gh11" gradientUnits="userSpaceOnUse" x1="-0.08" y1="0" x2="1.08" y2="0"><stop offset=".000" stop-color="#9df658"/><stop offset=".025" stop-color="#a7ff58"/><stop offset=".050" stop-color="#95dc47"/><stop offset=".075" stop-color="#bf5200"/><stop offset=".100" stop-color="#ffff1d"/><stop offset=".125" stop-color="#8fff95"/><stop offset=".150" stop-color="#61ffc3"/><stop offset=".175" stop-color="#1cf0d4"/><stop offset=".200" stop-color="#2ceabe"/><stop offset=".225" stop-color="#61bf5d"/><stop offset=".250" stop-color="#ffff1f"/><stop offset=".275" stop-color="#c0ff48"/><stop offset=".300" stop-color="#abff79"/><stop offset=".325" stop-color="#5affb2"/><stop offset=".350" stop-color="#1cffff"/><stop offset=".375" stop-color="#00f9ff"/><stop offset=".400" stop-color="#0ac5bb"/><stop offset=".425" stop-color="#3cfabe"/><stop offset=".450" stop-color="#36dca5"/><stop offset=".475" stop-color="#49ffdb"/><stop offset=".500" stop-color="#1ef4d5"/><stop offset=".525" stop-color="#2bffd6"/><stop offset=".550" stop-color="#00e1ff"/><stop offset=".575" stop-color="#0042dd"/><stop offset=".600" stop-color="#00b8bf"/><stop offset=".625" stop-color="#7ae76d"/><stop offset=".650" stop-color="#5affca"/><stop offset=".675" stop-color="#22ffff"/><stop offset=".700" stop-color="#00deff"/><stop offset=".725" stop-color="#40bf7e"/><stop offset=".750" stop-color="#70df6e"/><stop offset=".775" stop-color="#a1ff63"/><stop offset=".800" stop-color="#60ffc4"/><stop offset=".825" stop-color="#45ffd3"/><stop offset=".850" stop-color="#15f0da"/><stop offset=".875" stop-color="#58bf66"/><stop offset=".900" stop-color="#7fff99"/><stop offset=".925" stop-color="#87ee67"/><stop offset=".950" stop-color="#94ff72"/><stop offset=".975" stop-color="#88ff84"/><stop offset="1.000" stop-color="#77ff89"/></linearGradient><linearGradient id="gh12" gradientUnits="userSpaceOnUse" x1="-0.08" y1="0" x2="1.08" y2="0"><stop offset=".000" stop-color="#96f45d"/><stop offset=".025" stop-color="#a4fa56"/><stop offset=".050" stop-color="#9cea4d"/><stop offset=".075" stop-color="#bf7900"/><stop offset=".100" stop-color="#ecff38"/><stop offset=".125" stop-color="#8eff8f"/><stop offset=".150" stop-color="#6bffb9"/><stop offset=".175" stop-color="#23fbd8"/><stop offset=".200" stop-color="#23edca"/><stop offset=".225" stop-color="#72bf4c"/><stop offset=".250" stop-color="#ffff00"/><stop offset=".275" stop-color="#d8ff45"/><stop offset=".300" stop-color="#9dff87"/><stop offset=".325" stop-color="#57ffaf"/><stop offset=".350" stop-color="#24ffff"/><stop offset=".375" stop-color="#0affff"/><stop offset=".400" stop-color="#10c7b6"/><stop offset=".425" stop-color="#46ffd2"/><stop offset=".450" stop-color="#34cc98"/><stop offset=".475" stop-color="#4affda"/><stop offset=".500" stop-color="#17e8d1"/><stop offset=".525" stop-color="#2affd5"/><stop offset=".550" stop-color="#00f4ff"/><stop offset=".575" stop-color="#005be6"/><stop offset=".600" stop-color="#01bfbd"/><stop offset=".625" stop-color="#78f980"/><stop offset=".650" stop-color="#4fffd5"/><stop offset=".675" stop-color="#2ffff4"/><stop offset=".700" stop-color="#00f2f5"/><stop offset=".725" stop-color="#46bf78"/><stop offset=".750" stop-color="#71d160"/><stop offset=".775" stop-color="#a5ff71"/><stop offset=".800" stop-color="#5dffc7"/><stop offset=".825" stop-color="#3bffea"/><stop offset=".850" stop-color="#0be1d6"/><stop offset=".875" stop-color="#58bf67"/><stop offset=".900" stop-color="#78ffa8"/><stop offset=".925" stop-color="#88f067"/><stop offset=".950" stop-color="#8dff7c"/><stop offset=".975" stop-color="#7fff82"/><stop offset="1.000" stop-color="#7cf97c"/></linearGradient><linearGradient id="gh13" gradientUnits="userSpaceOnUse" x1="-0.08" y1="0" x2="1.08" y2="0"><stop offset=".000" stop-color="#8ff767"/><stop offset=".025" stop-color="#9af65b"/><stop offset=".050" stop-color="#9ff859"/><stop offset=".075" stop-color="#bcbf02"/><stop offset=".100" stop-color="#d8ff4c"/><stop offset=".125" stop-color="#a7ff5c"/><stop offset=".150" stop-color="#93ff91"/><stop offset=".175" stop-color="#37ffe4"/><stop offset=".200" stop-color="#13ffef"/><stop offset=".225" stop-color="#66bf58"/><stop offset=".250" stop-color="#ffff00"/><stop offset=".275" stop-color="#c6ff4c"/><stop offset=".300" stop-color="#98ff8d"/><stop offset=".325" stop-color="#5dffb1"/><stop offset=".350" stop-color="#27fff8"/><stop offset=".375" stop-color="#18fff4"/><stop offset=".400" stop-color="#2abf94"/><stop offset=".425" stop-color="#62ffc2"/><stop offset=".450" stop-color="#36bf88"/><stop offset=".475" stop-color="#5cffc8"/><stop offset=".500" stop-color="#18f4db"/><stop offset=".525" stop-color="#21ffde"/><stop offset=".550" stop-color="#12fffa"/><stop offset=".575" stop-color="#1fe3c4"/><stop offset=".600" stop-color="#3dbf81"/><stop offset=".625" stop-color="#80ff87"/><stop offset=".650" stop-color="#5effc2"/><stop offset=".675" stop-color="#3bffe9"/><stop offset=".700" stop-color="#12e9d7"/><stop offset=".725" stop-color="#4cd083"/><stop offset=".750" stop-color="#75bf49"/><stop offset=".775" stop-color="#afff71"/><stop offset=".800" stop-color="#64ffc0"/><stop offset=".825" stop-color="#36ffee"/><stop offset=".850" stop-color="#07dad2"/><stop offset=".875" stop-color="#53df8b"/><stop offset=".900" stop-color="#54ffb3"/><stop offset=".925" stop-color="#84ef6b"/><stop offset=".950" stop-color="#85ff83"/><stop offset=".975" stop-color="#7cf579"/><stop offset="1.000" stop-color="#89f56c"/></linearGradient><linearGradient id="gh14" gradientUnits="userSpaceOnUse" x1="-0.08" y1="0" x2="1.08" y2="0"><stop offset=".000" stop-color="#8eff72"/><stop offset=".025" stop-color="#8ef769"/><stop offset=".050" stop-color="#95fc67"/><stop offset=".075" stop-color="#93c430"/><stop offset=".100" stop-color="#c9ff45"/><stop offset=".125" stop-color="#d0ef1f"/><stop offset=".150" stop-color="#c5ff5f"/><stop offset=".175" stop-color="#4dffd8"/><stop offset=".200" stop-color="#05ffff"/><stop offset=".225" stop-color="#52bf6d"/><stop offset=".250" stop-color="#ffff1d"/><stop offset=".275" stop-color="#b4ff4b"/><stop offset=".300" stop-color="#9aff8a"/><stop offset=".325" stop-color="#68ffad"/><stop offset=".350" stop-color="#26fff5"/><stop offset=".375" stop-color="#15fff7"/><stop offset=".400" stop-color="#35bf89"/><stop offset=".425" stop-color="#6effb6"/><stop offset=".450" stop-color="#3ebf80"/><stop offset=".475" stop-color="#72ffb2"/><stop offset=".500" stop-color="#20ffe7"/><stop offset=".525" stop-color="#14fff9"/><stop offset=".550" stop-color="#12dac8"/><stop offset=".575" stop-color="#4ae59b"/><stop offset=".600" stop-color="#5ad97e"/><stop offset=".625" stop-color="#7de76a"/><stop offset=".650" stop-color="#a7ff6b"/><stop offset=".675" stop-color="#52ffd2"/><stop offset=".700" stop-color="#19e2c8"/><stop offset=".725" stop-color="#4fe091"/><stop offset=".750" stop-color="#87bf37"/><stop offset=".775" stop-color="#b3ff71"/><stop offset=".800" stop-color="#6affb6"/><stop offset=".825" stop-color="#3bffe9"/><stop offset=".850" stop-color="#11d4c2"/><stop offset=".875" stop-color="#53ffbd"/><stop offset=".900" stop-color="#37e0a8"/><stop offset=".925" stop-color="#7df072"/><stop offset=".950" stop-color="#80ff81"/><stop offset=".975" stop-color="#7fed6d"/><stop offset="1.000" stop-color="#96f45e"/></linearGradient><linearGradient id="gh15" gradientUnits="userSpaceOnUse" x1="-0.08" y1="0" x2="1.08" y2="0"><stop offset=".000" stop-color="#94ff79"/><stop offset=".025" stop-color="#84ff7b"/><stop offset=".050" stop-color="#84fa76"/><stop offset=".075" stop-color="#88cf47"/><stop offset=".100" stop-color="#b6ff64"/><stop offset=".125" stop-color="#b9fe44"/><stop offset=".150" stop-color="#88ff9c"/><stop offset=".175" stop-color="#31fff3"/><stop offset=".200" stop-color="#00ffff"/><stop offset=".225" stop-color="#3cbf82"/><stop offset=".250" stop-color="#b5ff55"/><stop offset=".275" stop-color="#a6eb45"/><stop offset=".300" stop-color="#a9ff7c"/><stop offset=".325" stop-color="#7cffa9"/><stop offset=".350" stop-color="#20fffb"/><stop offset=".375" stop-color="#07ffff"/><stop offset=".400" stop-color="#08bfb7"/><stop offset=".425" stop-color="#43ffe0"/><stop offset=".450" stop-color="#44bf7a"/><stop offset=".475" stop-color="#7cffa9"/><stop offset=".500" stop-color="#26ffe7"/><stop offset=".525" stop-color="#0effff"/><stop offset=".550" stop-color="#0bd0c4"/><stop offset=".575" stop-color="#47eda6"/><stop offset=".600" stop-color="#5ad67b"/><stop offset=".625" stop-color="#74bf4b"/><stop offset=".650" stop-color="#e1da00"/><stop offset=".675" stop-color="#81ffa4"/><stop offset=".700" stop-color="#1adcc1"/><stop offset=".725" stop-color="#53ec99"/><stop offset=".750" stop-color="#8bbf34"/><stop offset=".775" stop-color="#acff78"/><stop offset=".800" stop-color="#63ffab"/><stop offset=".825" stop-color="#40ffe4"/><stop offset=".850" stop-color="#1fcbac"/><stop offset=".875" stop-color="#64ffaf"/><stop offset=".900" stop-color="#49e59b"/><stop offset=".925" stop-color="#79f278"/><stop offset=".950" stop-color="#7ff878"/><stop offset=".975" stop-color="#88ed64"/><stop offset="1.000" stop-color="#9ef95a"/></linearGradient><linearGradient id="gh16" gradientUnits="userSpaceOnUse" x1="-0.08" y1="0" x2="1.08" y2="0"><stop offset=".000" stop-color="#9fff77"/><stop offset=".025" stop-color="#80ff89"/><stop offset=".050" stop-color="#74f47f"/><stop offset=".075" stop-color="#83ca47"/><stop offset=".100" stop-color="#beff65"/><stop offset=".125" stop-color="#aeff5d"/><stop offset=".150" stop-color="#5fffc6"/><stop offset=".175" stop-color="#22fffc"/><stop offset=".200" stop-color="#00ffff"/><stop offset=".225" stop-color="#30bf8e"/><stop offset=".250" stop-color="#6bda6f"/><stop offset=".275" stop-color="#9be045"/><stop offset=".300" stop-color="#b9ff69"/><stop offset=".325" stop-color="#86ff9e"/><stop offset=".350" stop-color="#18ffff"/><stop offset=".375" stop-color="#00ffff"/><stop offset=".400" stop-color="#03bfbc"/><stop offset=".425" stop-color="#39ffd4"/><stop offset=".450" stop-color="#49c379"/><stop offset=".475" stop-color="#74ffb0"/><stop offset=".500" stop-color="#28ffdb"/><stop offset=".525" stop-color="#13ffff"/><stop offset=".550" stop-color="#0dd2c4"/><stop offset=".575" stop-color="#40f7b6"/><stop offset=".600" stop-color="#58cf77"/><stop offset=".625" stop-color="#75c853"/><stop offset=".650" stop-color="#c2bb00"/><stop offset=".675" stop-color="#82ffa2"/><stop offset=".700" stop-color="#19ceb5"/><stop offset=".725" stop-color="#58f198"/><stop offset=".750" stop-color="#7fbf3f"/><stop offset=".775" stop-color="#9fff86"/><stop offset=".800" stop-color="#55ffab"/><stop offset=".825" stop-color="#40ffe3"/><stop offset=".850" stop-color="#2cc194"/><stop offset=".875" stop-color="#78ff93"/><stop offset=".900" stop-color="#67f991"/><stop offset=".925" stop-color="#76f17b"/><stop offset=".950" stop-color="#83f26e"/><stop offset=".975" stop-color="#92f562"/><stop offset="1.000" stop-color="#9dff61"/></linearGradient><linearGradient id="gh17" gradientUnits="userSpaceOnUse" x1="-0.08" y1="0" x2="1.08" y2="0"><stop offset=".000" stop-color="#aaff6f"/><stop offset=".025" stop-color="#85ff8d"/><stop offset=".050" stop-color="#6fef7f"/><stop offset=".075" stop-color="#86ca44"/><stop offset=".100" stop-color="#c9ff5b"/><stop offset=".125" stop-color="#aaff6d"/><stop offset=".150" stop-color="#46ffde"/><stop offset=".175" stop-color="#1efff4"/><stop offset=".200" stop-color="#08fdf5"/><stop offset=".225" stop-color="#34c38f"/><stop offset=".250" stop-color="#52c977"/><stop offset=".275" stop-color="#96e54e"/><stop offset=".300" stop-color="#a7ff72"/><stop offset=".325" stop-color="#7cffa9"/><stop offset=".350" stop-color="#12ffff"/><stop offset=".375" stop-color="#00ffff"/><stop offset=".400" stop-color="#07c2bb"/><stop offset=".425" stop-color="#36ffc9"/><stop offset=".450" stop-color="#51d482"/><stop offset=".475" stop-color="#63ffc2"/><stop offset=".500" stop-color="#27f7d0"/><stop offset=".525" stop-color="#1bfffb"/><stop offset=".550" stop-color="#15d6c0"/><stop offset=".575" stop-color="#3bfbc0"/><stop offset=".600" stop-color="#59cb71"/><stop offset=".625" stop-color="#84ff84"/><stop offset=".650" stop-color="#8aed62"/><stop offset=".675" stop-color="#3fffe6"/><stop offset=".700" stop-color="#19bfa5"/><stop offset=".725" stop-color="#60ee8e"/><stop offset=".750" stop-color="#85d650"/><stop offset=".775" stop-color="#8fff96"/><stop offset=".800" stop-color="#47fdb6"/><stop offset=".825" stop-color="#35ffdd"/><stop offset=".850" stop-color="#39bf86"/><stop offset=".875" stop-color="#85ff8a"/><stop offset=".900" stop-color="#73fe8a"/><stop offset=".925" stop-color="#77ef78"/><stop offset=".950" stop-color="#8af268"/><stop offset=".975" stop-color="#98ff69"/><stop offset="1.000" stop-color="#93ff6f"/></linearGradient><linearGradient id="jet" x1="0" y1="1" x2="0" y2="0"><stop offset="0" stop-color="#00008f"/><stop offset="0.125" stop-color="#0000ff"/><stop offset="0.375" stop-color="#00ffff"/><stop offset="0.625" stop-color="#ffff00"/><stop offset="0.875" stop-color="#ff0000"/><stop offset="1" stop-color="#800000"/></linearGradient></defs>
<text x="0.30" y="12.90" font-size="18.5" font-weight="bold">a</text>
<text x="157.40" y="12.90" font-size="18.5" font-weight="bold">b</text>
<text x="448.20" y="12.90" font-size="18.5" font-weight="bold">c</text>
<text x="571.80" y="13.10" font-size="18.5" font-weight="bold">d</text>
<text x="1.30" y="183.60" font-size="18.5" font-weight="bold">e</text>
<text x="152.50" y="183.00" font-size="18.5" font-weight="bold">f</text>
<text x="291.70" y="183.60" font-size="18.5" font-weight="bold">g</text>
<text x="424.30" y="183.30" font-size="18.5" font-weight="bold">h</text>
<text x="553.70" y="183.50" font-size="18.5" font-weight="bold">i</text>
<line x1="23.50" y1="29.60" x2="23.50" y2="110.40" stroke="#555" stroke-width="1"/>
<line x1="23.50" y1="110.40" x2="78.70" y2="110.40" stroke="#555" stroke-width="1"/>
<line x1="21.00" y1="29.60" x2="23.50" y2="29.60" stroke="#555" stroke-width="1"/>
<text x="20.50" y="31.80" font-size="6.2" text-anchor="end" font-weight="bold" fill="#222">500</text>
<line x1="21.00" y1="45.76" x2="23.50" y2="45.76" stroke="#555" stroke-width="1"/>
<text x="20.50" y="47.96" font-size="6.2" text-anchor="end" font-weight="bold" fill="#222">400</text>
<line x1="21.00" y1="61.92" x2="23.50" y2="61.92" stroke="#555" stroke-width="1"/>
<text x="20.50" y="64.12" font-size="6.2" text-anchor="end" font-weight="bold" fill="#222">300</text>
<line x1="21.00" y1="78.08" x2="23.50" y2="78.08" stroke="#555" stroke-width="1"/>
<text x="20.50" y="80.28" font-size="6.2" text-anchor="end" font-weight="bold" fill="#222">200</text>
<line x1="21.00" y1="94.24" x2="23.50" y2="94.24" stroke="#555" stroke-width="1"/>
<text x="20.50" y="96.44" font-size="6.2" text-anchor="end" font-weight="bold" fill="#222">100</text>
<line x1="21.00" y1="110.40" x2="23.50" y2="110.40" stroke="#555" stroke-width="1"/>
<text x="20.50" y="112.60" font-size="6.2" text-anchor="end" font-weight="bold" fill="#222">0</text>
<rect x="31.80" y="38.20" width="16.30" height="72.20" fill="#9d9da2"/>
<line x1="39.95" y1="110.40" x2="39.95" y2="113.40" stroke="#555" stroke-width="1"/>
<rect x="52.00" y="32.00" width="16.80" height="78.40" fill="#0b5fd2"/>
<line x1="60.40" y1="110.40" x2="60.40" y2="113.40" stroke="#555" stroke-width="1"/>
<line x1="31.80" y1="38.50" x2="68.80" y2="38.50" stroke="#222" stroke-width="0.9" stroke-dasharray="1.3,1.1"/>
<text x="55.00" y="31.80" font-size="8.2" fill="#333">9%</text>
<line x1="69.60" y1="31.80" x2="69.60" y2="26.80" stroke="#333" stroke-width="0.8"/>
<path d="M68.30,27.60 L69.60,25.20 L70.90,27.60 Z" fill="#333"/>
<text x="5.00" y="115.00" font-size="6.8" font-weight="bold" fill="#111" textLength="91" lengthAdjust="spacingAndGlyphs" transform="rotate(-90 5.00 115.00)">DAPI per area (250µm width)</text>
<line x1="103.50" y1="29.60" x2="103.50" y2="110.40" stroke="#555" stroke-width="1"/>
<line x1="103.50" y1="110.40" x2="158.70" y2="110.40" stroke="#555" stroke-width="1"/>
<line x1="101.00" y1="29.60" x2="103.50" y2="29.60" stroke="#555" stroke-width="1"/>
<text x="100.50" y="31.80" font-size="6.2" text-anchor="end" font-weight="bold" fill="#222">800</text>
<line x1="101.00" y1="49.80" x2="103.50" y2="49.80" stroke="#555" stroke-width="1"/>
<text x="100.50" y="52.00" font-size="6.2" text-anchor="end" font-weight="bold" fill="#222">600</text>
<line x1="101.00" y1="70.00" x2="103.50" y2="70.00" stroke="#555" stroke-width="1"/>
<text x="100.50" y="72.20" font-size="6.2" text-anchor="end" font-weight="bold" fill="#222">400</text>
<line x1="101.00" y1="90.20" x2="103.50" y2="90.20" stroke="#555" stroke-width="1"/>
<text x="100.50" y="92.40" font-size="6.2" text-anchor="end" font-weight="bold" fill="#222">200</text>
<line x1="101.00" y1="110.40" x2="103.50" y2="110.40" stroke="#555" stroke-width="1"/>
<text x="100.50" y="112.60" font-size="6.2" text-anchor="end" font-weight="bold" fill="#222">0</text>
<rect x="113.30" y="62.30" width="15.70" height="48.10" fill="#9d9da2"/>
<line x1="121.15" y1="110.40" x2="121.15" y2="113.40" stroke="#555" stroke-width="1"/>
<rect x="133.00" y="46.00" width="15.20" height="64.40" fill="#ff0000"/>
<line x1="140.60" y1="110.40" x2="140.60" y2="113.40" stroke="#555" stroke-width="1"/>
<line x1="104.50" y1="62.30" x2="148.20" y2="62.30" stroke="#222" stroke-width="0.9" stroke-dasharray="1.3,1.1"/>
<text x="133.00" y="45.70" font-size="8.2" fill="#333">33%</text>
<line x1="151.00" y1="45.70" x2="151.00" y2="40.70" stroke="#333" stroke-width="0.8"/>
<path d="M149.70,41.50 L151.00,39.10 L152.30,41.50 Z" fill="#333"/>
<text x="85.30" y="115.00" font-size="6.8" font-weight="bold" fill="#111" textLength="91" lengthAdjust="spacingAndGlyphs" transform="rotate(-90 85.30 115.00)">DAPI per area (250µm width)</text>
<text x="41.20" y="118.20" font-size="8.2" text-anchor="end" fill="#222" transform="rotate(-45 41.20 118.20)">CTL</text>
<text x="64.10" y="118.10" font-size="8.2" text-anchor="end" fill="#222" transform="rotate(-45 64.10 118.10)"><tspan font-style="italic">Cep83</tspan> tKO</text>
<text x="122.50" y="118.20" font-size="8.2" text-anchor="end" fill="#222" transform="rotate(-45 122.50 118.20)">CTL</text>
<text x="144.10" y="118.10" font-size="8.2" text-anchor="end" fill="#222" transform="rotate(-45 144.10 118.10)"><tspan font-style="italic">Fgf10</tspan> tKO</text>
<text x="176.10" y="31.80" font-size="10.4" fill="#111" textLength="67.7" lengthAdjust="spacingAndGlyphs">Attraction Flrt+</text>
<text x="276.90" y="31.60" font-size="10.4" fill="#111" textLength="58.8" lengthAdjust="spacingAndGlyphs">Grid scheme</text>
<text x="362.00" y="32.00" font-size="10.4" fill="#111" textLength="65.4" lengthAdjust="spacingAndGlyphs">Attraction Flrt-</text>
<text x="171.00" y="112.40" font-size="10.5" fill="#111" textLength="73.9" lengthAdjust="spacingAndGlyphs" transform="rotate(-90 171.00 112.40)">Particle settings</text>
<line x1="185.10" y1="44.00" x2="236.90" y2="44.00" stroke="#4a80c4" stroke-width="1.1" stroke-dasharray="1,1"/>
<line x1="185.10" y1="69.80" x2="236.90" y2="69.80" stroke="#4a80c4" stroke-width="1.1" stroke-dasharray="1,1"/>
<line x1="185.10" y1="44.00" x2="185.10" y2="69.80" stroke="#4a80c4" stroke-width="1.1" stroke-dasharray="1,1"/>
<line x1="210.40" y1="44.00" x2="210.40" y2="69.80" stroke="#4a80c4" stroke-width="1.1" stroke-dasharray="1,1"/>
<line x1="236.90" y1="44.00" x2="236.90" y2="69.80" stroke="#4a80c4" stroke-width="1.1" stroke-dasharray="1,1"/>
<line x1="198.20" y1="57.20" x2="224.30" y2="57.20" stroke="#ccc" stroke-width="0.8"/>
<circle cx="185.10" cy="44.00" r="3.5" fill="#4a80c4"/>
<circle cx="185.10" cy="69.80" r="3.5" fill="#4a80c4"/>
<circle cx="210.40" cy="44.00" r="3.5" fill="#4a80c4"/>
<circle cx="210.40" cy="69.80" r="3.5" fill="#4a80c4"/>
<circle cx="236.90" cy="44.00" r="3.5" fill="#4a80c4"/>
<circle cx="236.90" cy="69.80" r="3.5" fill="#4a80c4"/>
<circle cx="198.20" cy="57.20" r="3.4" fill="#7a7a7a"/>
<circle cx="224.30" cy="57.20" r="3.4" fill="#7a7a7a"/>
<line x1="184.90" y1="103.60" x2="184.90" y2="79.00" stroke="#5a86c0" stroke-width="1.3"/>
<path d="M182.70,80.50 L184.90,75.80 L187.10,80.50 Z" fill="#5a86c0"/>
<line x1="210.00" y1="90.80" x2="210.00" y2="79.00" stroke="#5a86c0" stroke-width="1.3"/>
<path d="M207.80,80.50 L210.00,75.80 L212.20,80.50 Z" fill="#5a86c0"/>
<line x1="236.90" y1="84.90" x2="236.90" y2="79.00" stroke="#5a86c0" stroke-width="1.3"/>
<path d="M234.70,80.50 L236.90,75.80 L239.10,80.50 Z" fill="#5a86c0"/>
<path d="M181.4,107.5 C205.93,108.0 215.27,88.8 239.8,88.8" fill="none" stroke="#4a8cf0" stroke-width="1.1"/>
<path d="M181.4,113.6 C205.93,114.1 215.27,94.9 239.8,94.9" fill="none" stroke="#0a0adf" stroke-width="2.3"/>
<path d="M181.4,119.7 C205.93,120.2 215.27,100.9 239.8,100.9" fill="none" stroke="#4a8cf0" stroke-width="1.1"/>
<path d="M240.6,87.5 Q242,87.5 242,89 L242,94.3 Q242,95.6 243.3,95.9 Q242,96.2 242,97.5 L242,102.6 Q242,104.1 240.6,104.1" fill="none" stroke="#333" stroke-width="0.8"/>
<text x="244.60" y="98.60" font-size="9.5" fill="#333">ε</text>
<text x="206.00" y="125.20" font-size="9.0" fill="#2b2bdc" textLength="38" lengthAdjust="spacingAndGlyphs">Attraction</text>
<line x1="272.00" y1="45.20" x2="335.90" y2="45.20" stroke="#9dbadf" stroke-width="0.8" stroke-dasharray="2.5,1"/>
<line x1="272.00" y1="66.60" x2="335.90" y2="66.60" stroke="#9dbadf" stroke-width="0.8" stroke-dasharray="2.5,1"/>
<line x1="272.00" y1="88.00" x2="335.90" y2="88.00" stroke="#9dbadf" stroke-width="0.8" stroke-dasharray="2.5,1"/>
<line x1="272.00" y1="109.40" x2="335.90" y2="109.40" stroke="#9dbadf" stroke-width="0.8" stroke-dasharray="2.5,1"/>
<line x1="272.00" y1="45.20" x2="272.00" y2="109.40" stroke="#9dbadf" stroke-width="0.8" stroke-dasharray="2.5,1"/>
<line x1="293.30" y1="45.20" x2="293.30" y2="109.40" stroke="#9dbadf" stroke-width="0.8" stroke-dasharray="2.5,1"/>
<line x1="314.60" y1="45.20" x2="314.60" y2="109.40" stroke="#9dbadf" stroke-width="0.8" stroke-dasharray="2.5,1"/>
<line x1="335.90" y1="45.20" x2="335.90" y2="109.40" stroke="#9dbadf" stroke-width="0.8" stroke-dasharray="2.5,1"/>
<line x1="282.65" y1="55.90" x2="325.25" y2="55.90" stroke="#d4d4d4" stroke-width="0.6"/>
<line x1="282.65" y1="77.30" x2="325.25" y2="77.30" stroke="#d4d4d4" stroke-width="0.6"/>
<line x1="282.65" y1="98.70" x2="325.25" y2="98.70" stroke="#d4d4d4" stroke-width="0.6"/>
<line x1="282.65" y1="55.90" x2="282.65" y2="98.70" stroke="#d4d4d4" stroke-width="0.6"/>
<line x1="303.95" y1="55.90" x2="303.95" y2="98.70" stroke="#d4d4d4" stroke-width="0.6"/>
<line x1="325.25" y1="55.90" x2="325.25" y2="98.70" stroke="#d4d4d4" stroke-width="0.6"/>
<circle cx="272.00" cy="45.20" r="3.3" fill="#4a80c4"/>
<circle cx="272.00" cy="66.60" r="3.3" fill="#4a80c4"/>
<circle cx="272.00" cy="88.00" r="3.3" fill="#4a80c4"/>
<circle cx="272.00" cy="109.40" r="3.3" fill="#4a80c4"/>
<circle cx="293.30" cy="45.20" r="3.3" fill="#4a80c4"/>
<circle cx="293.30" cy="66.60" r="3.3" fill="#4a80c4"/>
<circle cx="293.30" cy="88.00" r="3.3" fill="#4a80c4"/>
<circle cx="293.30" cy="109.40" r="3.3" fill="#4a80c4"/>
<circle cx="314.60" cy="45.20" r="3.3" fill="#4a80c4"/>
<circle cx="314.60" cy="66.60" r="3.3" fill="#4a80c4"/>
<circle cx="314.60" cy="88.00" r="3.3" fill="#4a80c4"/>
<circle cx="314.60" cy="109.40" r="3.3" fill="#4a80c4"/>
<circle cx="335.90" cy="45.20" r="3.3" fill="#4a80c4"/>
<circle cx="335.90" cy="66.60" r="3.3" fill="#4a80c4"/>
<circle cx="335.90" cy="88.00" r="3.3" fill="#4a80c4"/>
<circle cx="335.90" cy="109.40" r="3.3" fill="#4a80c4"/>
<circle cx="282.65" cy="55.90" r="3.1" fill="#7a7a7a"/>
<circle cx="282.65" cy="77.30" r="3.1" fill="#7a7a7a"/>
<circle cx="282.65" cy="98.70" r="3.1" fill="#7a7a7a"/>
<circle cx="303.95" cy="55.90" r="3.1" fill="#7a7a7a"/>
<circle cx="303.95" cy="77.30" r="3.1" fill="#7a7a7a"/>
<circle cx="303.95" cy="98.70" r="3.1" fill="#7a7a7a"/>
<circle cx="325.25" cy="55.90" r="3.1" fill="#7a7a7a"/>
<circle cx="325.25" cy="77.30" r="3.1" fill="#7a7a7a"/>
<circle cx="325.25" cy="98.70" r="3.1" fill="#7a7a7a"/>
<path d="M256.2,78 L264.1,74 L264.1,82 Z" fill="#000"/>
<path d="M351.7,78 L343.8,74 L343.8,82 Z" fill="#000"/>
<line x1="370.30" y1="44.00" x2="422.10" y2="44.00" stroke="#999" stroke-width="0.8" stroke-dasharray="1,1"/>
<line x1="370.30" y1="70.00" x2="422.10" y2="70.00" stroke="#999" stroke-width="0.8" stroke-dasharray="1,1"/>
<line x1="370.30" y1="44.00" x2="370.30" y2="70.00" stroke="#999" stroke-width="0.8" stroke-dasharray="1,1"/>
<line x1="395.60" y1="44.00" x2="395.60" y2="70.00" stroke="#999" stroke-width="0.8" stroke-dasharray="1,1"/>
<line x1="422.10" y1="44.00" x2="422.10" y2="70.00" stroke="#999" stroke-width="0.8" stroke-dasharray="1,1"/>
<line x1="383.40" y1="56.90" x2="409.80" y2="56.90" stroke="#8aaee0" stroke-width="0.8" stroke-dasharray="2,0.8"/>
<circle cx="370.30" cy="44.00" r="3.5" fill="#7a7a7a"/>
<circle cx="370.30" cy="70.00" r="3.5" fill="#7a7a7a"/>
<circle cx="395.60" cy="44.00" r="3.5" fill="#7a7a7a"/>
<circle cx="395.60" cy="70.00" r="3.5" fill="#7a7a7a"/>
<circle cx="422.10" cy="44.00" r="3.5" fill="#7a7a7a"/>
<circle cx="422.10" cy="70.00" r="3.5" fill="#7a7a7a"/>
<circle cx="383.40" cy="56.90" r="3.4" fill="#4a80c4"/>
<circle cx="409.80" cy="56.90" r="3.4" fill="#4a80c4"/>
<line x1="384.20" y1="91.00" x2="384.20" y2="79.00" stroke="#777" stroke-width="1.1"/>
<path d="M382.10,80.50 L384.20,75.90 L386.30,80.50 Z" fill="#777"/>
<line x1="409.10" y1="96.90" x2="409.10" y2="79.00" stroke="#777" stroke-width="1.1"/>
<path d="M407.00,80.50 L409.10,75.90 L411.20,80.50 Z" fill="#777"/>
<path d="M366.6,83.1 C379.6,92.1 384.9,102.2 404.9,102.2 C413.9,102.2 418.0,99.8 426.0,96.3" fill="none" stroke="#888" stroke-width="0.8"/>
<path d="M366.6,89.7 C379.6,98.7 384.9,109.0 404.9,109.0 C413.9,109.0 417.3,106.4 425.3,102.9" fill="none" stroke="#777" stroke-width="2.1"/>
<path d="M366.6,96.3 C379.6,105.3 384.9,115.3 404.9,115.3 C413.9,115.3 418.0,112.9 426.0,109.4" fill="none" stroke="#888" stroke-width="0.8"/>
<path d="M426.2,94.7 Q427.6,94.7 427.6,96.2 L427.6,101.6 Q427.6,102.9 428.9,103.1 Q427.6,103.3 427.6,104.6 L427.6,109.9 Q427.6,111.4 426.2,111.4" fill="none" stroke="#333" stroke-width="0.8"/>
<text x="430.00" y="105.80" font-size="9.5" fill="#333">ε</text>
<text x="401.00" y="125.50" font-size="9.0" fill="#222" textLength="38" lengthAdjust="spacingAndGlyphs">Attraction</text>
<line x1="501.02" y1="47.00" x2="501.02" y2="121.00" stroke="#e4e4e4" stroke-width="0.6"/>
<line x1="528.34" y1="47.00" x2="528.34" y2="121.00" stroke="#e4e4e4" stroke-width="0.6"/>
<line x1="555.66" y1="47.00" x2="555.66" y2="121.00" stroke="#e4e4e4" stroke-width="0.6"/>
<line x1="473.70" y1="65.50" x2="572.60" y2="65.50" stroke="#e4e4e4" stroke-width="0.6"/>
<line x1="473.70" y1="84.00" x2="572.60" y2="84.00" stroke="#e4e4e4" stroke-width="0.6"/>
<line x1="473.70" y1="102.50" x2="572.60" y2="102.50" stroke="#e4e4e4" stroke-width="0.6"/>
<rect x="473.7" y="47.0" width="98.90000000000003" height="74.0" fill="none" stroke="#aaa" stroke-width="0.7"/>
<text x="471.90" y="48.40" font-size="4.1" text-anchor="end" fill="#444">40</text>
<text x="471.90" y="66.90" font-size="4.1" text-anchor="end" fill="#444">20</text>
<text x="471.90" y="85.40" font-size="4.1" text-anchor="end" fill="#444">0</text>
<text x="471.90" y="103.90" font-size="4.1" text-anchor="end" fill="#444">-20</text>
<text x="471.90" y="122.40" font-size="4.1" text-anchor="end" fill="#444">-40</text>
<text x="473.70" y="126.20" font-size="4.1" text-anchor="middle" fill="#444">0</text>
<text x="501.02" y="126.20" font-size="4.1" text-anchor="middle" fill="#444">10</text>
<text x="528.34" y="126.20" font-size="4.1" text-anchor="middle" fill="#444">20</text>
<text x="555.66" y="126.20" font-size="4.1" text-anchor="middle" fill="#444">30</text>
<text x="490.80" y="40.70" font-size="10.3" fill="#111" textLength="70" lengthAdjust="spacingAndGlyphs">CTL - balanced</text>
<text x="460.00" y="133.20" font-size="10.4" fill="#111" textLength="108.5" lengthAdjust="spacingAndGlyphs" transform="rotate(-90 460.00 133.20)">Attraction strength (a.u)</text>
<path d="M475.89,83.72 L476.57,82.74 L477.25,81.82 L477.93,80.99 L478.62,80.31 L479.30,79.80 L479.98,79.48 L480.67,79.38 L481.35,79.48 L482.03,79.80 L482.72,80.31 L483.40,80.99 L484.08,81.82 L484.76,82.74 L485.45,83.72 L486.13,84.72 L486.81,85.68 L487.50,86.56 L488.18,87.33 L488.86,87.94 L489.55,88.37 L490.23,88.59 L490.91,88.60 L491.59,88.40 L492.28,88.00 L492.96,87.41 L493.64,86.66 L494.33,85.79 L495.01,84.83 L495.69,83.84 L496.38,82.85 L497.06,81.92 L497.74,81.09 L498.43,80.38 L499.11,79.85 L499.79,79.51 L500.47,79.38 L501.16,79.46 L501.84,79.75 L502.52,80.24 L503.21,80.90 L503.89,81.71 L504.57,82.62 L505.26,83.60 L505.94,84.60 L506.62,85.57 L507.30,86.46 L507.99,87.24 L508.67,87.87 L509.35,88.32 L510.04,88.58 L510.72,88.61 L511.40,88.44 L512.09,88.06 L512.77,87.49 L513.45,86.76 L514.13,85.90 L514.82,84.95 L515.50,83.96 L516.18,82.97 L516.87,82.03 L517.55,81.18 L518.23,80.46 L518.92,79.90 L519.60,79.54 L520.28,79.38 L520.96,79.44 L521.65,79.70 L522.33,80.17 L523.01,80.82 L523.70,81.61 L524.38,82.51 L525.06,83.48 L525.75,84.48 L526.43,85.45 L527.11,86.36 L527.79,87.16 L528.48,87.81 L529.16,88.28 L529.84,88.56 L530.53,88.62 L531.21,88.47 L531.89,88.11 L532.58,87.57 L533.26,86.85 L533.94,86.01 L534.62,85.07 L535.31,84.08 L535.99,83.09 L536.67,82.14 L537.36,81.28 L538.04,80.54 L538.72,79.96 L539.41,79.57 L540.09,79.39 L540.77,79.42 L541.45,79.66 L542.14,80.11 L542.82,80.73 L543.50,81.51 L544.19,82.40 L544.87,83.36 L545.55,84.36 L546.24,85.34 L546.92,86.25 L547.60,87.07 L548.28,87.74 L548.97,88.23 L549.65,88.53 L550.33,88.62 L551.02,88.50 L551.70,88.17 L552.38,87.64 L553.07,86.95 L553.75,86.11 L554.43,85.18 L555.11,84.20 L555.80,83.21 L556.48,82.25 L557.16,81.37 L557.85,80.62 L558.53,80.02 L559.21,79.61 L559.90,79.40 L560.58,79.40 L561.26,79.62 L561.95,80.04 L562.63,80.65 L563.31,81.41 L563.99,82.29 L564.68,83.24 L565.36,84.24 L566.04,85.22 L566.73,86.15 L567.41,86.98 L568.09,87.67 L568.78,88.18 L569.46,88.51 L570.14,88.62 L570.82,88.53 L571.51,88.22 L572.19,87.71" fill="none" stroke="#808080" stroke-width="1.7"/>
<path d="M475.89,83.20 L476.57,80.39 L477.25,77.72 L477.93,75.26 L478.62,73.13 L479.30,71.37 L479.98,70.05 L480.67,69.20 L481.35,70.05 L482.03,71.37 L482.72,73.13 L483.40,75.26 L484.08,77.72 L484.76,80.39 L485.45,83.20 L486.13,86.04 L486.81,88.81 L487.50,91.40 L488.18,93.72 L488.86,95.70 L489.55,97.27 L490.23,98.38 L490.91,98.48 L491.59,97.43 L492.28,95.91 L492.96,93.98 L493.64,91.69 L494.33,89.13 L495.01,86.38 L495.69,83.54 L496.38,80.73 L497.06,78.03 L497.74,75.54 L498.43,73.36 L499.11,71.56 L499.79,70.18 L500.47,69.28 L501.16,69.92 L501.84,71.19 L502.52,72.89 L503.21,74.99 L503.89,77.41 L504.57,80.06 L505.26,82.86 L505.94,85.70 L506.62,88.48 L507.30,91.10 L507.99,93.46 L508.67,95.48 L509.35,97.10 L510.04,98.27 L510.72,98.58 L511.40,97.58 L512.09,96.11 L512.77,94.23 L513.45,91.98 L514.13,89.45 L514.82,86.72 L515.50,83.89 L516.18,81.06 L516.87,78.34 L517.55,75.83 L518.23,73.61 L518.92,71.75 L519.60,70.32 L520.28,69.36 L520.96,69.80 L521.65,71.01 L522.33,72.67 L523.01,74.72 L523.70,77.10 L524.38,79.74 L525.06,82.52 L525.75,85.36 L526.43,88.16 L527.11,90.80 L527.79,93.19 L528.48,95.26 L529.16,96.93 L529.84,98.16 L530.53,98.67 L531.21,97.72 L531.89,96.31 L532.58,94.48 L533.26,92.27 L533.94,89.76 L534.62,87.05 L535.31,84.23 L535.99,81.40 L536.67,78.66 L537.36,76.12 L538.04,73.85 L538.72,71.95 L539.41,70.47 L540.09,69.45 L540.77,69.69 L541.45,70.84 L542.14,72.45 L542.82,74.45 L543.50,76.80 L544.19,79.41 L544.87,82.18 L545.55,85.02 L546.24,87.83 L546.92,90.49 L547.60,92.92 L548.28,95.03 L548.97,96.75 L549.65,98.04 L550.33,98.75 L551.02,97.86 L551.70,96.51 L552.38,94.72 L553.07,92.55 L553.75,90.08 L554.43,87.38 L555.11,84.57 L555.80,81.73 L556.48,78.98 L557.16,76.41 L557.85,74.11 L558.53,72.16 L559.21,70.63 L559.90,69.55 L560.58,69.58 L561.26,70.68 L561.95,72.23 L562.63,74.19 L563.31,76.51 L563.99,79.09 L564.68,81.85 L565.36,84.68 L566.04,87.50 L566.73,90.18 L567.41,92.64 L568.09,94.80 L568.78,96.57 L569.46,97.91 L570.14,98.78 L570.82,97.99 L571.51,96.69 L572.19,94.95" fill="none" stroke="#4a4aff" stroke-width="0.9" stroke-dasharray="1,1"/>
<path d="M475.89,83.50 L476.57,81.75 L477.25,80.07 L477.93,78.54 L478.62,77.20 L479.30,76.11 L479.98,75.28 L480.67,74.75 L481.35,75.28 L482.03,76.11 L482.72,77.20 L483.40,78.54 L484.08,80.07 L484.76,81.75 L485.45,83.50 L486.13,85.28 L486.81,87.00 L487.50,88.62 L488.18,90.07 L488.86,91.31 L489.55,92.29 L490.23,92.99 L490.91,93.05 L491.59,92.39 L492.28,91.44 L492.96,90.24 L493.64,88.81 L494.33,87.21 L495.01,85.49 L495.69,83.72 L496.38,81.95 L497.06,80.27 L497.74,78.71 L498.43,77.35 L499.11,76.22 L499.79,75.37 L500.47,74.80 L501.16,75.20 L501.84,75.99 L502.52,77.06 L503.21,78.37 L503.89,79.88 L504.57,81.54 L505.26,83.29 L505.94,85.06 L506.62,86.80 L507.30,88.44 L507.99,89.91 L508.67,91.18 L509.35,92.19 L510.04,92.92 L510.72,93.11 L511.40,92.49 L512.09,91.57 L512.77,90.39 L513.45,88.99 L514.13,87.40 L514.82,85.70 L515.50,83.93 L516.18,82.16 L516.87,80.46 L517.55,78.89 L518.23,77.50 L518.92,76.35 L519.60,75.45 L520.28,74.85 L520.96,75.13 L521.65,75.88 L522.33,76.92 L523.01,78.20 L523.70,79.69 L524.38,81.33 L525.06,83.08 L525.75,84.85 L526.43,86.60 L527.11,88.25 L527.79,89.74 L528.48,91.04 L529.16,92.08 L529.84,92.85 L530.53,93.17 L531.21,92.58 L531.89,91.70 L532.58,90.55 L533.26,89.17 L533.94,87.60 L534.62,85.91 L535.31,84.14 L535.99,82.37 L536.67,80.66 L537.36,79.07 L538.04,77.66 L538.72,76.47 L539.41,75.55 L540.09,74.91 L540.77,75.06 L541.45,75.78 L542.14,76.78 L542.82,78.03 L543.50,79.50 L544.19,81.13 L544.87,82.86 L545.55,84.64 L546.24,86.39 L546.92,88.06 L547.60,89.57 L548.28,90.89 L548.97,91.97 L549.65,92.77 L550.33,93.22 L551.02,92.66 L551.70,91.82 L552.38,90.70 L553.07,89.34 L553.75,87.80 L554.43,86.12 L555.11,84.36 L555.80,82.58 L556.48,80.86 L557.16,79.25 L557.85,77.82 L558.53,76.60 L559.21,75.64 L559.90,74.97 L560.58,74.99 L561.26,75.67 L561.95,76.64 L562.63,77.87 L563.31,79.32 L563.99,80.93 L564.68,82.65 L565.36,84.43 L566.04,86.18 L566.73,87.86 L567.41,89.40 L568.09,90.75 L568.78,91.86 L569.46,92.69 L570.14,93.23 L570.82,92.75 L571.51,91.93 L572.19,90.85" fill="none" stroke="#4a4aff" stroke-width="0.9" stroke-dasharray="1,1"/>
<path d="M475.89,83.35 L476.57,81.07 L477.25,78.89 L477.93,76.90 L478.62,75.16 L479.30,73.74 L479.98,72.67 L480.67,71.97 L481.35,72.67 L482.03,73.74 L482.72,75.16 L483.40,76.90 L484.08,78.89 L484.76,81.07 L485.45,83.35 L486.13,85.66 L486.81,87.91 L487.50,90.01 L488.18,91.90 L488.86,93.50 L489.55,94.78 L490.23,95.69 L490.91,95.77 L491.59,94.91 L492.28,93.68 L492.96,92.11 L493.64,90.25 L494.33,88.17 L495.01,85.93 L495.69,83.63 L496.38,81.34 L497.06,79.15 L497.74,77.13 L498.43,75.36 L499.11,73.89 L499.79,72.77 L500.47,72.04 L501.16,72.56 L501.84,73.59 L502.52,74.98 L503.21,76.68 L503.89,78.64 L504.57,80.80 L505.26,83.08 L505.94,85.38 L506.62,87.64 L507.30,89.77 L507.99,91.68 L508.67,93.33 L509.35,94.65 L510.04,95.60 L510.72,95.85 L511.40,95.03 L512.09,93.84 L512.77,92.31 L513.45,90.48 L514.13,88.43 L514.82,86.21 L515.50,83.91 L516.18,81.61 L516.87,79.40 L517.55,77.36 L518.23,75.56 L518.92,74.05 L519.60,72.89 L520.28,72.11 L520.96,72.46 L521.65,73.45 L522.33,74.79 L523.01,76.46 L523.70,78.40 L524.38,80.54 L525.06,82.80 L525.75,85.11 L526.43,87.38 L527.11,89.52 L527.79,91.47 L528.48,93.15 L529.16,94.51 L529.84,95.50 L530.53,95.92 L531.21,95.15 L531.89,94.00 L532.58,92.51 L533.26,90.72 L533.94,88.68 L534.62,86.48 L535.31,84.18 L535.99,81.88 L536.67,79.66 L537.36,77.59 L538.04,75.76 L538.72,74.21 L539.41,73.01 L540.09,72.18 L540.77,72.37 L541.45,73.31 L542.14,74.61 L542.82,76.24 L543.50,78.15 L544.19,80.27 L544.87,82.52 L545.55,84.83 L546.24,87.11 L546.92,89.27 L547.60,91.25 L548.28,92.96 L548.97,94.36 L549.65,95.40 L550.33,95.98 L551.02,95.26 L551.70,94.16 L552.38,92.71 L553.07,90.95 L553.75,88.94 L554.43,86.75 L555.11,84.46 L555.80,82.16 L556.48,79.92 L557.16,77.83 L557.85,75.96 L558.53,74.38 L559.21,73.13 L559.90,72.26 L560.58,72.29 L561.26,73.18 L561.95,74.44 L562.63,76.03 L563.31,77.91 L563.99,80.01 L564.68,82.25 L565.36,84.55 L566.04,86.84 L566.73,89.02 L567.41,91.02 L568.09,92.77 L568.78,94.21 L569.46,95.30 L570.14,96.00 L570.82,95.37 L571.51,94.31 L572.19,92.90" fill="none" stroke="#3a3aff" stroke-width="1.3"/>
<path d="M517.7,55.7 L507.5,63.6" stroke="#1a1aff" stroke-width="1.4"/>
<path d="M502.4,68.2 L504.0,59.6 L510.9,67.2 Z" fill="#1a1aff"/>
<text x="521.40" y="55.70" font-size="8.0" fill="#2a2aff" textLength="48.6" lengthAdjust="spacingAndGlyphs">Flrt+ particles</text>
<line x1="478.00" y1="118.30" x2="568.00" y2="118.30" stroke="#111" stroke-width="1.0"/>
<path d="M474.3,118.3 L480.5,115.8 L480.5,120.8 Z" fill="#111"/>
<path d="M571.8,118.3 L565.6,115.8 L565.6,120.8 Z" fill="#111"/>
<rect x="510.50" y="113.50" width="26.00" height="7.50" fill="#fff"/>
<text x="523.50" y="120.60" font-size="7.6" text-anchor="middle" fill="#111">600µm</text>
<line x1="609.55" y1="47.40" x2="609.55" y2="121.30" stroke="#e4e4e4" stroke-width="0.6"/>
<line x1="636.71" y1="47.40" x2="636.71" y2="121.30" stroke="#e4e4e4" stroke-width="0.6"/>
<line x1="663.86" y1="47.40" x2="663.86" y2="121.30" stroke="#e4e4e4" stroke-width="0.6"/>
<line x1="582.40" y1="65.88" x2="680.70" y2="65.88" stroke="#e4e4e4" stroke-width="0.6"/>
<line x1="582.40" y1="84.35" x2="680.70" y2="84.35" stroke="#e4e4e4" stroke-width="0.6"/>
<line x1="582.40" y1="102.82" x2="680.70" y2="102.82" stroke="#e4e4e4" stroke-width="0.6"/>
<rect x="582.4" y="47.4" width="98.30000000000007" height="73.9" fill="none" stroke="#aaa" stroke-width="0.7"/>
<text x="580.60" y="48.80" font-size="4.1" text-anchor="end" fill="#444">40</text>
<text x="580.60" y="67.28" font-size="4.1" text-anchor="end" fill="#444">20</text>
<text x="580.60" y="85.75" font-size="4.1" text-anchor="end" fill="#444">0</text>
<text x="580.60" y="104.22" font-size="4.1" text-anchor="end" fill="#444">-20</text>
<text x="580.60" y="122.70" font-size="4.1" text-anchor="end" fill="#444">-40</text>
<text x="582.40" y="126.50" font-size="4.1" text-anchor="middle" fill="#444">0</text>
<text x="609.55" y="126.50" font-size="4.1" text-anchor="middle" fill="#444">10</text>
<text x="636.71" y="126.50" font-size="4.1" text-anchor="middle" fill="#444">20</text>
<text x="663.86" y="126.50" font-size="4.1" text-anchor="middle" fill="#444">30</text>
<text x="606.60" y="42.30" font-size="10.4" fill="#111" textLength="53.2" lengthAdjust="spacingAndGlyphs"><tspan font-style="italic">Flrt1/3</tspan> dKO</text>
<path d="M584.57,73.89 L585.25,68.80 L585.93,64.25 L586.61,60.43 L587.29,57.43 L587.97,55.35 L588.65,55.69 L589.32,57.96 L590.00,61.13 L590.68,65.11 L591.36,69.78 L592.04,74.97 L592.72,80.50 L593.40,86.17 L594.08,91.77 L594.76,97.11 L595.43,101.98 L596.11,106.23 L596.79,109.70 L597.47,112.30 L598.15,113.86 L598.83,112.12 L599.51,109.45 L600.19,105.91 L600.87,101.61 L601.54,96.69 L602.22,91.33 L602.90,85.71 L603.58,80.05 L604.26,74.54 L604.94,69.38 L605.62,64.76 L606.30,60.84 L606.98,57.74 L607.65,55.55 L608.33,55.49 L609.01,57.64 L609.69,60.70 L610.37,64.59 L611.05,69.18 L611.73,74.32 L612.41,79.82 L613.08,85.49 L613.76,91.11 L614.44,96.49 L615.12,101.43 L615.80,105.75 L616.48,109.33 L617.16,112.04 L617.84,113.81 L618.52,112.38 L619.19,109.82 L619.87,106.38 L620.55,102.16 L621.23,97.31 L621.91,91.99 L622.59,86.39 L623.27,80.72 L623.95,75.18 L624.63,69.97 L625.30,65.28 L625.98,61.27 L626.66,58.07 L627.34,55.77 L628.02,55.29 L628.70,57.33 L629.38,60.29 L630.06,64.09 L630.74,68.60 L631.41,73.68 L632.09,79.15 L632.77,84.80 L633.45,90.44 L634.13,95.86 L634.81,100.86 L635.49,105.27 L636.17,108.94 L636.85,111.76 L637.52,113.65 L638.20,112.63 L638.88,110.18 L639.56,106.84 L640.24,102.71 L640.92,97.92 L641.60,92.65 L642.28,87.07 L642.95,81.40 L643.63,75.83 L644.31,70.58 L644.99,65.81 L645.67,61.71 L646.35,58.41 L647.03,55.99 L647.71,55.11 L648.39,57.04 L649.06,59.89 L649.74,63.59 L650.42,68.03 L651.10,73.05 L651.78,78.48 L652.46,84.12 L653.14,89.77 L653.82,95.23 L654.50,100.29 L655.17,104.78 L655.85,108.55 L656.53,111.47 L657.21,113.47 L657.89,112.86 L658.57,110.52 L659.25,107.28 L659.93,103.24 L660.61,98.53 L661.28,93.30 L661.96,87.75 L662.64,82.08 L663.32,76.49 L664.00,71.18 L664.68,66.35 L665.36,62.17 L666.04,58.76 L666.72,56.23 L667.39,54.94 L668.07,56.76 L668.75,59.50 L669.43,63.10 L670.11,67.46 L670.79,72.42 L671.47,77.81 L672.15,83.44 L672.83,89.10 L673.50,94.59 L674.18,99.71 L674.86,104.28 L675.54,108.14 L676.22,111.17 L676.90,113.28 L677.58,113.08 L678.26,110.85 L678.93,107.71 L679.61,103.76 L680.29,99.12" fill="none" stroke="#999" stroke-width="0.8" stroke-dasharray="1,1"/>
<path d="M584.57,76.51 L585.25,72.68 L585.93,69.28 L586.61,66.41 L587.29,64.16 L587.97,62.60 L588.65,62.86 L589.32,64.56 L590.00,66.93 L590.68,69.92 L591.36,73.42 L592.04,77.31 L592.72,81.46 L593.40,85.71 L594.08,89.92 L594.76,93.92 L595.43,97.57 L596.11,100.76 L596.79,103.36 L597.47,105.31 L598.15,106.48 L598.83,105.18 L599.51,103.18 L600.19,100.52 L600.87,97.30 L601.54,93.61 L602.22,89.59 L602.90,85.37 L603.58,81.12 L604.26,76.99 L604.94,73.12 L605.62,69.66 L606.30,66.72 L606.98,64.40 L607.65,62.75 L608.33,62.70 L609.01,64.32 L609.69,66.62 L610.37,69.53 L611.05,72.98 L611.73,76.83 L612.41,80.95 L613.08,85.20 L613.76,89.42 L614.44,93.45 L615.12,97.16 L615.80,100.40 L616.48,103.08 L617.16,105.11 L617.84,106.44 L618.52,105.37 L619.19,103.45 L619.87,100.87 L620.55,97.71 L621.23,94.07 L621.91,90.08 L622.59,85.88 L623.27,81.63 L623.95,77.47 L624.63,73.57 L625.30,70.05 L625.98,67.04 L626.66,64.64 L627.34,62.91 L628.02,62.56 L628.70,64.09 L629.38,66.31 L630.06,69.15 L630.74,72.54 L631.41,76.35 L632.09,80.45 L632.77,84.69 L633.45,88.92 L634.13,92.98 L634.81,96.73 L635.49,100.04 L636.17,102.79 L636.85,104.91 L637.52,106.32 L638.20,105.56 L638.88,103.72 L639.56,101.21 L640.24,98.12 L640.92,94.53 L641.60,90.57 L642.28,86.39 L642.95,82.14 L643.63,77.96 L644.31,74.02 L644.99,70.45 L645.67,67.37 L646.35,64.89 L647.03,63.08 L647.71,62.42 L648.39,63.87 L649.06,66.00 L649.74,68.78 L650.42,72.11 L651.10,75.87 L651.78,79.95 L652.46,84.18 L653.14,88.42 L653.82,92.51 L654.50,96.31 L655.17,99.67 L655.85,102.50 L656.53,104.69 L657.21,106.19 L657.89,105.73 L658.57,103.98 L659.25,101.55 L659.93,98.52 L660.61,94.98 L661.28,91.06 L661.96,86.90 L662.64,82.65 L663.32,78.45 L664.00,74.48 L664.68,70.85 L665.36,67.71 L666.04,65.16 L666.72,63.26 L667.39,62.29 L668.07,63.65 L668.75,65.71 L669.43,68.42 L670.11,71.68 L670.79,75.40 L671.47,79.45 L672.15,83.67 L672.83,87.91 L673.50,92.03 L674.18,95.87 L674.86,99.29 L675.54,102.19 L676.22,104.46 L676.90,106.05 L677.58,105.90 L678.26,104.22 L678.93,101.87 L679.61,98.91 L680.29,95.43" fill="none" stroke="#999" stroke-width="0.8" stroke-dasharray="1,1"/>
<path d="M584.57,75.20 L585.25,70.74 L585.93,66.77 L586.61,63.42 L587.29,60.80 L587.97,58.98 L588.65,59.28 L589.32,61.26 L590.00,64.03 L590.68,67.52 L591.36,71.60 L592.04,76.14 L592.72,80.98 L593.40,85.94 L594.08,90.84 L594.76,95.51 L595.43,99.78 L596.11,103.49 L596.79,106.53 L597.47,108.80 L598.15,110.17 L598.83,108.65 L599.51,106.31 L600.19,103.22 L600.87,99.45 L601.54,95.15 L602.22,90.46 L602.90,85.54 L603.58,80.58 L604.26,75.76 L604.94,71.25 L605.62,67.21 L606.30,63.78 L606.98,61.07 L607.65,59.15 L608.33,59.09 L609.01,60.98 L609.69,63.66 L610.37,67.06 L611.05,71.08 L611.73,75.58 L612.41,80.39 L613.08,85.34 L613.76,90.26 L614.44,94.97 L615.12,99.29 L615.80,103.08 L616.48,106.20 L617.16,108.57 L617.84,110.13 L618.52,108.88 L619.19,106.64 L619.87,103.63 L620.55,99.94 L621.23,95.69 L621.91,91.04 L622.59,86.14 L623.27,81.18 L623.95,76.33 L624.63,71.77 L625.30,67.67 L625.98,64.16 L626.66,61.35 L627.34,59.34 L628.02,58.92 L628.70,60.71 L629.38,63.30 L630.06,66.62 L630.74,70.57 L631.41,75.02 L632.09,79.80 L632.77,84.75 L633.45,89.68 L634.13,94.42 L634.81,98.80 L635.49,102.66 L636.17,105.87 L636.85,108.33 L637.52,109.98 L638.20,109.09 L638.88,106.95 L639.56,104.03 L640.24,100.41 L640.92,96.23 L641.60,91.61 L642.28,86.73 L642.95,81.77 L643.63,76.90 L644.31,72.30 L644.99,68.13 L645.67,64.54 L646.35,61.65 L647.03,59.54 L647.71,58.77 L648.39,60.45 L649.06,62.95 L649.74,66.19 L650.42,70.07 L651.10,74.46 L651.78,79.21 L652.46,84.15 L653.14,89.10 L653.82,93.87 L654.50,98.30 L655.17,102.23 L655.85,105.52 L656.53,108.08 L657.21,109.83 L657.89,109.30 L658.57,107.25 L659.25,104.41 L659.93,100.88 L660.61,96.75 L661.28,92.18 L661.96,87.33 L662.64,82.36 L663.32,77.47 L664.00,72.83 L664.68,68.60 L665.36,64.94 L666.04,61.96 L666.72,59.75 L667.39,58.62 L668.07,60.20 L668.75,62.61 L669.43,65.76 L670.11,69.57 L670.79,73.91 L671.47,78.63 L672.15,83.55 L672.83,88.51 L673.50,93.31 L674.18,97.79 L674.86,101.79 L675.54,105.16 L676.22,107.81 L676.90,109.66 L677.58,109.49 L678.26,107.54 L678.93,104.79 L679.61,101.34 L680.29,97.28" fill="none" stroke="#767676" stroke-width="1.1"/>
<path d="M583.76,84.44 L584.44,83.73 L585.12,83.04 L585.79,82.41 L586.47,81.84 L587.15,81.36 L587.83,80.99 L588.51,80.73 L589.19,80.77 L589.87,81.05 L590.55,81.45 L591.23,81.95 L591.90,82.53 L592.58,83.18 L593.26,83.87 L593.94,84.58 L594.62,85.28 L595.30,85.94 L595.98,86.55 L596.66,87.08 L597.34,87.52 L598.01,87.84 L598.69,88.04 L599.37,87.82 L600.05,87.49 L600.73,87.05 L601.41,86.51 L602.09,85.89 L602.77,85.22 L603.44,84.52 L604.12,83.81 L604.80,83.12 L605.48,82.48 L606.16,81.90 L606.84,81.41 L607.52,81.02 L608.20,80.75 L608.88,80.74 L609.55,81.01 L610.23,81.39 L610.91,81.88 L611.59,82.45 L612.27,83.10 L612.95,83.78 L613.63,84.49 L614.31,85.19 L614.99,85.87 L615.66,86.48 L616.34,87.03 L617.02,87.47 L617.70,87.81 L618.38,88.03 L619.06,87.85 L619.74,87.53 L620.42,87.10 L621.10,86.58 L621.77,85.97 L622.45,85.31 L623.13,84.61 L623.81,83.90 L624.49,83.20 L625.17,82.55 L625.85,81.97 L626.53,81.47 L627.21,81.06 L627.88,80.78 L628.56,80.72 L629.24,80.97 L629.92,81.34 L630.60,81.82 L631.28,82.38 L631.96,83.02 L632.64,83.70 L633.32,84.41 L633.99,85.11 L634.67,85.79 L635.35,86.41 L636.03,86.97 L636.71,87.42 L637.39,87.78 L638.07,88.01 L638.75,87.88 L639.42,87.58 L640.10,87.16 L640.78,86.64 L641.46,86.05 L642.14,85.39 L642.82,84.69 L643.50,83.98 L644.18,83.29 L644.86,82.63 L645.53,82.03 L646.21,81.52 L646.89,81.11 L647.57,80.81 L648.25,80.70 L648.93,80.94 L649.61,81.29 L650.29,81.76 L650.97,82.31 L651.64,82.94 L652.32,83.62 L653.00,84.32 L653.68,85.03 L654.36,85.71 L655.04,86.34 L655.72,86.90 L656.40,87.37 L657.08,87.74 L657.75,87.99 L658.43,87.91 L659.11,87.62 L659.79,87.22 L660.47,86.71 L661.15,86.12 L661.83,85.47 L662.51,84.78 L663.19,84.07 L663.86,83.37 L664.54,82.70 L665.22,82.10 L665.90,81.58 L666.58,81.15 L667.26,80.84 L667.94,80.67 L668.62,80.90 L669.30,81.24 L669.97,81.69 L670.65,82.24 L671.33,82.86 L672.01,83.53 L672.69,84.24 L673.37,84.94 L674.05,85.63 L674.73,86.27 L675.40,86.84 L676.08,87.32 L676.76,87.70 L677.44,87.97 L678.12,87.94 L678.80,87.66 L679.48,87.27 L680.16,86.78" fill="none" stroke="#4040f4" stroke-width="1.8"/>
<path d="M607.3,54.0 L601.0,61.5" stroke="#111" stroke-width="1.4"/>
<path d="M596.6,67.4 L597.6,58.6 L604.9,64.6 Z" fill="#111"/>
<text x="611.60" y="54.00" font-size="8.0" fill="#333" textLength="46.5" lengthAdjust="spacingAndGlyphs">Flrt- particles</text>
<text x="34.70" y="202.20" font-size="12.4" fill="#111" textLength="99.2" lengthAdjust="spacingAndGlyphs">CTL - Ratio 50:50</text>
<text x="176.50" y="202.30" font-size="12.4" fill="#111" textLength="100.5" lengthAdjust="spacingAndGlyphs">dKO - Ratio 50:50</text>
<text x="334.70" y="201.90" font-size="12.4" fill="#111" textLength="64.3" lengthAdjust="spacingAndGlyphs">Ratio 60:40</text>
<text x="448.00" y="202.10" font-size="12.4" fill="#111" textLength="64.4" lengthAdjust="spacingAndGlyphs">Ratio 45:55</text>
<line x1="310.20" y1="209.80" x2="533.90" y2="209.80" stroke="#333" stroke-width="1.2"/>
<text x="324.20" y="226.30" font-size="12.4" fill="#111" textLength="199.4" lengthAdjust="spacingAndGlyphs"><tspan font-style="italic">Flrt1/3</tspan> dKO + increased nº particles</text>
<text x="16.30" y="318.90" font-size="12.4" fill="#111" textLength="61.5" lengthAdjust="spacingAndGlyphs" transform="rotate(-90 16.30 318.90)">3D contour</text>
<text x="16.80" y="454.10" font-size="12.4" fill="#111" textLength="62.5" lengthAdjust="spacingAndGlyphs" transform="rotate(-90 16.80 454.10)">2D contour</text>
<line x1="37.50" y1="426.68" x2="141.10" y2="426.68" stroke="#444" stroke-width="0.9" stroke-dasharray="1,1.2"/>
<line x1="37.50" y1="447.40" x2="141.10" y2="447.40" stroke="#444" stroke-width="0.9" stroke-dasharray="1,1.2"/>
<line x1="37.50" y1="388.20" x2="37.50" y2="462.20" stroke="#666" stroke-width="0.9"/>
<line x1="37.50" y1="462.20" x2="141.10" y2="462.20" stroke="#666" stroke-width="0.9"/>
<line x1="35.50" y1="462.20" x2="37.50" y2="462.20" stroke="#666" stroke-width="0.8"/>
<text x="35.20" y="464.20" font-size="5.9" text-anchor="end" fill="#222">0.0</text>
<line x1="35.50" y1="447.40" x2="37.50" y2="447.40" stroke="#666" stroke-width="0.8"/>
<text x="35.20" y="449.40" font-size="5.9" text-anchor="end" fill="#222">0.5</text>
<line x1="35.50" y1="432.60" x2="37.50" y2="432.60" stroke="#666" stroke-width="0.8"/>
<text x="35.20" y="434.60" font-size="5.9" text-anchor="end" fill="#222">1.0</text>
<line x1="35.50" y1="417.80" x2="37.50" y2="417.80" stroke="#666" stroke-width="0.8"/>
<text x="35.20" y="419.80" font-size="5.9" text-anchor="end" fill="#222">1.5</text>
<line x1="35.50" y1="403.00" x2="37.50" y2="403.00" stroke="#666" stroke-width="0.8"/>
<text x="35.20" y="405.00" font-size="5.9" text-anchor="end" fill="#222">2.0</text>
<line x1="35.50" y1="388.20" x2="37.50" y2="388.20" stroke="#666" stroke-width="0.8"/>
<text x="35.20" y="390.20" font-size="5.9" text-anchor="end" fill="#222">2.5</text>
<line x1="37.50" y1="462.20" x2="37.50" y2="464.20" stroke="#666" stroke-width="0.8"/>
<text x="37.50" y="470.80" font-size="5.9" text-anchor="middle" fill="#222">0</text>
<line x1="67.10" y1="462.20" x2="67.10" y2="464.20" stroke="#666" stroke-width="0.8"/>
<text x="67.10" y="470.80" font-size="5.9" text-anchor="middle" fill="#222">2</text>
<line x1="96.70" y1="462.20" x2="96.70" y2="464.20" stroke="#666" stroke-width="0.8"/>
<text x="96.70" y="470.80" font-size="5.9" text-anchor="middle" fill="#222">4</text>
<line x1="126.30" y1="462.20" x2="126.30" y2="464.20" stroke="#666" stroke-width="0.8"/>
<text x="126.30" y="470.80" font-size="5.9" text-anchor="middle" fill="#222">6</text>
<text x="89.50" y="481.20" font-size="7.4" text-anchor="middle" fill="#222" textLength="31" lengthAdjust="spacingAndGlyphs">X axis (a.u)</text>
<path d="M42.00,441.40 L48.00,444.00 L52.40,447.60 L63.70,438.00 L64.40,443.30 L66.00,443.50 L69.00,434.90 L72.60,437.30 L82.90,434.90 L87.70,437.70 L92.50,436.30 L93.00,441.10 L96.60,444.00 L98.50,442.80 L108.10,440.40 L112.90,445.70 L116.50,444.50 L124.90,446.40 L129.70,446.90 L137.40,439.20" fill="none" stroke="#111" stroke-width="1.0" stroke-linejoin="round"/>
<path d="M181.20,447.60 L181.30,452.60 L183.80,454.20 L186.90,447.60 Z" fill="#1060d0"/>
<path d="M219.60,447.60 L221.20,451.30 L223.10,448.50 L223.20,447.60 Z" fill="#1060d0"/>
<path d="M233.80,447.60 L242.00,456.40 L244.40,447.60 Z" fill="#1060d0"/>
<line x1="165.20" y1="426.68" x2="268.80" y2="426.68" stroke="#444" stroke-width="0.9" stroke-dasharray="1,1.2"/>
<line x1="165.20" y1="447.40" x2="268.80" y2="447.40" stroke="#444" stroke-width="0.9" stroke-dasharray="1,1.2"/>
<line x1="165.20" y1="388.20" x2="165.20" y2="462.20" stroke="#666" stroke-width="0.9"/>
<line x1="165.20" y1="462.20" x2="268.80" y2="462.20" stroke="#666" stroke-width="0.9"/>
<line x1="163.20" y1="462.20" x2="165.20" y2="462.20" stroke="#666" stroke-width="0.8"/>
<text x="162.90" y="464.20" font-size="5.9" text-anchor="end" fill="#222">0.0</text>
<line x1="163.20" y1="447.40" x2="165.20" y2="447.40" stroke="#666" stroke-width="0.8"/>
<text x="162.90" y="449.40" font-size="5.9" text-anchor="end" fill="#222">0.5</text>
<line x1="163.20" y1="432.60" x2="165.20" y2="432.60" stroke="#666" stroke-width="0.8"/>
<text x="162.90" y="434.60" font-size="5.9" text-anchor="end" fill="#222">1.0</text>
<line x1="163.20" y1="417.80" x2="165.20" y2="417.80" stroke="#666" stroke-width="0.8"/>
<text x="162.90" y="419.80" font-size="5.9" text-anchor="end" fill="#222">1.5</text>
<line x1="163.20" y1="403.00" x2="165.20" y2="403.00" stroke="#666" stroke-width="0.8"/>
<text x="162.90" y="405.00" font-size="5.9" text-anchor="end" fill="#222">2.0</text>
<line x1="163.20" y1="388.20" x2="165.20" y2="388.20" stroke="#666" stroke-width="0.8"/>
<text x="162.90" y="390.20" font-size="5.9" text-anchor="end" fill="#222">2.5</text>
<line x1="165.20" y1="462.20" x2="165.20" y2="464.20" stroke="#666" stroke-width="0.8"/>
<text x="165.20" y="470.80" font-size="5.9" text-anchor="middle" fill="#222">0</text>
<line x1="194.80" y1="462.20" x2="194.80" y2="464.20" stroke="#666" stroke-width="0.8"/>
<text x="194.80" y="470.80" font-size="5.9" text-anchor="middle" fill="#222">2</text>
<line x1="224.40" y1="462.20" x2="224.40" y2="464.20" stroke="#666" stroke-width="0.8"/>
<text x="224.40" y="470.80" font-size="5.9" text-anchor="middle" fill="#222">4</text>
<line x1="254.00" y1="462.20" x2="254.00" y2="464.20" stroke="#666" stroke-width="0.8"/>
<text x="254.00" y="470.80" font-size="5.9" text-anchor="middle" fill="#222">6</text>
<text x="217.20" y="481.20" font-size="7.4" text-anchor="middle" fill="#222" textLength="31" lengthAdjust="spacingAndGlyphs">X axis (a.u)</text>
<path d="M170.00,456.40 L180.70,428.00 L181.30,452.60 L183.80,454.20 L191.40,434.20 L195.50,433.30 L202.80,432.30 L221.20,451.30 L223.10,448.50 L223.60,423.80 L224.40,425.70 L228.80,443.70 L234.40,448.10 L242.00,456.40 L244.90,445.60 L259.10,435.60 L265.80,439.00 L266.10,447.50 L269.50,442.80 L269.50,426.60" fill="none" stroke="#111" stroke-width="1.0" stroke-linejoin="round"/>
<path d="M298.60,447.60 L299.30,455.30 L301.00,447.60 Z" fill="#1060d0"/>
<path d="M304.80,447.60 L305.10,451.10 L309.00,447.60 Z" fill="#1060d0"/>
<path d="M314.60,447.60 L316.90,451.10 L318.00,447.60 Z" fill="#1060d0"/>
<path d="M350.60,447.60 L353.50,454.40 L353.60,447.60 Z" fill="#1060d0"/>
<path d="M368.00,447.60 L372.30,454.40 L375.00,447.60 Z" fill="#1060d0"/>
<path d="M382.30,447.60 L385.40,455.60 L388.60,447.60 Z" fill="#1060d0"/>
<line x1="293.70" y1="426.68" x2="397.30" y2="426.68" stroke="#444" stroke-width="0.9" stroke-dasharray="1,1.2"/>
<line x1="293.70" y1="447.40" x2="397.30" y2="447.40" stroke="#444" stroke-width="0.9" stroke-dasharray="1,1.2"/>
<line x1="293.70" y1="388.20" x2="293.70" y2="462.20" stroke="#666" stroke-width="0.9"/>
<line x1="293.70" y1="462.20" x2="397.30" y2="462.20" stroke="#666" stroke-width="0.9"/>
<line x1="291.70" y1="462.20" x2="293.70" y2="462.20" stroke="#666" stroke-width="0.8"/>
<text x="291.40" y="464.20" font-size="5.9" text-anchor="end" fill="#222">0.0</text>
<line x1="291.70" y1="447.40" x2="293.70" y2="447.40" stroke="#666" stroke-width="0.8"/>
<text x="291.40" y="449.40" font-size="5.9" text-anchor="end" fill="#222">0.5</text>
<line x1="291.70" y1="432.60" x2="293.70" y2="432.60" stroke="#666" stroke-width="0.8"/>
<text x="291.40" y="434.60" font-size="5.9" text-anchor="end" fill="#222">1.0</text>
<line x1="291.70" y1="417.80" x2="293.70" y2="417.80" stroke="#666" stroke-width="0.8"/>
<text x="291.40" y="419.80" font-size="5.9" text-anchor="end" fill="#222">1.5</text>
<line x1="291.70" y1="403.00" x2="293.70" y2="403.00" stroke="#666" stroke-width="0.8"/>
<text x="291.40" y="405.00" font-size="5.9" text-anchor="end" fill="#222">2.0</text>
<line x1="291.70" y1="388.20" x2="293.70" y2="388.20" stroke="#666" stroke-width="0.8"/>
<text x="291.40" y="390.20" font-size="5.9" text-anchor="end" fill="#222">2.5</text>
<line x1="293.70" y1="462.20" x2="293.70" y2="464.20" stroke="#666" stroke-width="0.8"/>
<text x="293.70" y="470.80" font-size="5.9" text-anchor="middle" fill="#222">0</text>
<line x1="323.30" y1="462.20" x2="323.30" y2="464.20" stroke="#666" stroke-width="0.8"/>
<text x="323.30" y="470.80" font-size="5.9" text-anchor="middle" fill="#222">2</text>
<line x1="352.90" y1="462.20" x2="352.90" y2="464.20" stroke="#666" stroke-width="0.8"/>
<text x="352.90" y="470.80" font-size="5.9" text-anchor="middle" fill="#222">4</text>
<line x1="382.50" y1="462.20" x2="382.50" y2="464.20" stroke="#666" stroke-width="0.8"/>
<text x="382.50" y="470.80" font-size="5.9" text-anchor="middle" fill="#222">6</text>
<text x="345.70" y="481.20" font-size="7.4" text-anchor="middle" fill="#222" textLength="31" lengthAdjust="spacingAndGlyphs">X axis (a.u)</text>
<path d="M295.90,441.00 L296.80,441.80 L298.10,441.00 L299.30,455.30 L303.10,435.10 L305.10,451.10 L312.70,445.20 L316.90,451.10 L320.60,429.20 L323.60,449.40 L328.30,430.40 L329.00,439.30 L338.40,431.80 L339.20,443.50 L340.40,433.40 L341.20,446.00 L342.10,435.10 L345.10,435.90 L353.50,454.40 L353.80,435.10 L362.20,437.60 L362.60,448.50 L364.20,429.20 L372.30,454.40 L375.60,448.50 L377.00,432.60 L378.20,446.00 L378.70,430.90 L385.40,455.60 L389.90,444.30" fill="none" stroke="#111" stroke-width="1.0" stroke-linejoin="round"/>
<path d="M424.30,426.70 L428.50,405.90 L432.20,411.40 L434.00,409.20 L435.00,426.70 Z" fill="#ff0000"/>
<path d="M442.00,426.70 L443.30,425.90 L449.80,413.70 L452.90,426.20 L453.00,426.70 Z" fill="#ff0000"/>
<path d="M468.90,426.70 L469.20,424.40 L471.00,426.20 L471.40,426.70 Z" fill="#ff0000"/>
<path d="M516.10,426.70 L516.30,422.50 L517.20,424.40 L520.40,421.60 L522.80,424.40 L523.10,426.70 Z" fill="#ff0000"/>
<line x1="419.20" y1="426.68" x2="522.80" y2="426.68" stroke="#444" stroke-width="0.9" stroke-dasharray="1,1.2"/>
<line x1="419.20" y1="447.40" x2="522.80" y2="447.40" stroke="#444" stroke-width="0.9" stroke-dasharray="1,1.2"/>
<line x1="419.20" y1="388.20" x2="419.20" y2="462.20" stroke="#666" stroke-width="0.9"/>
<line x1="419.20" y1="462.20" x2="522.80" y2="462.20" stroke="#666" stroke-width="0.9"/>
<line x1="417.20" y1="462.20" x2="419.20" y2="462.20" stroke="#666" stroke-width="0.8"/>
<text x="416.90" y="464.20" font-size="5.9" text-anchor="end" fill="#222">0.0</text>
<line x1="417.20" y1="447.40" x2="419.20" y2="447.40" stroke="#666" stroke-width="0.8"/>
<text x="416.90" y="449.40" font-size="5.9" text-anchor="end" fill="#222">0.5</text>
<line x1="417.20" y1="432.60" x2="419.20" y2="432.60" stroke="#666" stroke-width="0.8"/>
<text x="416.90" y="434.60" font-size="5.9" text-anchor="end" fill="#222">1.0</text>
<line x1="417.20" y1="417.80" x2="419.20" y2="417.80" stroke="#666" stroke-width="0.8"/>
<text x="416.90" y="419.80" font-size="5.9" text-anchor="end" fill="#222">1.5</text>
<line x1="417.20" y1="403.00" x2="419.20" y2="403.00" stroke="#666" stroke-width="0.8"/>
<text x="416.90" y="405.00" font-size="5.9" text-anchor="end" fill="#222">2.0</text>
<line x1="417.20" y1="388.20" x2="419.20" y2="388.20" stroke="#666" stroke-width="0.8"/>
<text x="416.90" y="390.20" font-size="5.9" text-anchor="end" fill="#222">2.5</text>
<line x1="419.20" y1="462.20" x2="419.20" y2="464.20" stroke="#666" stroke-width="0.8"/>
<text x="419.20" y="470.80" font-size="5.9" text-anchor="middle" fill="#222">0</text>
<line x1="448.80" y1="462.20" x2="448.80" y2="464.20" stroke="#666" stroke-width="0.8"/>
<text x="448.80" y="470.80" font-size="5.9" text-anchor="middle" fill="#222">2</text>
<line x1="478.40" y1="462.20" x2="478.40" y2="464.20" stroke="#666" stroke-width="0.8"/>
<text x="478.40" y="470.80" font-size="5.9" text-anchor="middle" fill="#222">4</text>
<line x1="508.00" y1="462.20" x2="508.00" y2="464.20" stroke="#666" stroke-width="0.8"/>
<text x="508.00" y="470.80" font-size="5.9" text-anchor="middle" fill="#222">6</text>
<text x="471.20" y="481.20" font-size="7.4" text-anchor="middle" fill="#222" textLength="31" lengthAdjust="spacingAndGlyphs">X axis (a.u)</text>
<path d="M419.20,447.50 L424.40,426.20 L428.50,405.90 L432.20,411.40 L434.00,409.20 L435.00,426.20 L436.80,443.80 L441.40,427.20 L443.30,425.90 L449.80,413.70 L452.90,426.20 L458.40,446.20 L463.60,440.10 L464.00,445.60 L464.50,433.60 L465.50,439.20 L466.40,431.80 L467.70,432.70 L469.20,424.40 L471.00,426.20 L485.80,442.90 L487.70,447.50 L488.60,443.80 L510.80,430.90 L513.50,442.90 L516.30,422.50 L517.20,424.40 L520.40,421.60 L522.80,424.40 L523.70,433.60" fill="none" stroke="#111" stroke-width="1.0" stroke-linejoin="round"/>
<line x1="448.50" y1="386.50" x2="439.28" y2="400.04" stroke="#ff1010" stroke-width="1.3"/>
<path d="M435.90,405.00 L436.75,397.71 L442.37,401.54 Z" fill="#ff1010"/>
<line x1="464.90" y1="386.50" x2="455.49" y2="400.88" stroke="#ff1010" stroke-width="1.3"/>
<path d="M452.20,405.90 L452.92,398.60 L458.60,402.32 Z" fill="#ff1010"/>
<line x1="599.40" y1="182.10" x2="599.40" y2="233.60" stroke="#888" stroke-width="1.3"/>
<line x1="599.40" y1="233.60" x2="685.00" y2="233.60" stroke="#888" stroke-width="1.3"/>
<line x1="597.20" y1="182.10" x2="599.40" y2="182.10" stroke="#888" stroke-width="0.9"/>
<text x="597.00" y="185.00" font-size="8.4" text-anchor="end" fill="#222">600</text>
<line x1="597.20" y1="199.30" x2="599.40" y2="199.30" stroke="#888" stroke-width="0.9"/>
<text x="597.00" y="202.20" font-size="8.4" text-anchor="end" fill="#222">400</text>
<line x1="597.20" y1="216.45" x2="599.40" y2="216.45" stroke="#888" stroke-width="0.9"/>
<text x="597.00" y="219.35" font-size="8.4" text-anchor="end" fill="#222">200</text>
<line x1="597.20" y1="233.60" x2="599.40" y2="233.60" stroke="#888" stroke-width="0.9"/>
<text x="597.00" y="236.50" font-size="8.4" text-anchor="end" fill="#222">0</text>
<rect x="603.20" y="201.40" width="13.40" height="32.20" fill="#9d9da2"/>
<line x1="609.90" y1="233.60" x2="609.90" y2="235.80" stroke="#888" stroke-width="0.9"/>
<rect x="624.40" y="201.40" width="13.50" height="32.20" fill="#9d9da2"/>
<line x1="631.15" y1="233.60" x2="631.15" y2="235.80" stroke="#888" stroke-width="0.9"/>
<rect x="645.20" y="197.20" width="14.10" height="36.40" fill="#0b5fd2"/>
<line x1="652.25" y1="233.60" x2="652.25" y2="235.80" stroke="#888" stroke-width="0.9"/>
<rect x="666.70" y="189.00" width="14.10" height="44.60" fill="#ff0000"/>
<line x1="673.75" y1="233.60" x2="673.75" y2="235.80" stroke="#888" stroke-width="0.9"/>
<line x1="599.40" y1="201.40" x2="685.00" y2="201.40" stroke="#333" stroke-width="0.9" stroke-dasharray="1,1.1"/>
<text x="646.40" y="196.00" font-size="8.4" fill="#333">9%</text>
<line x1="661.30" y1="196.20" x2="661.30" y2="192.10" stroke="#333" stroke-width="0.8"/>
<path d="M660.00,192.80 L661.30,190.60 L662.60,192.80 Z" fill="#333"/>
<text x="666.00" y="188.00" font-size="8.4" fill="#333" textLength="14.2" lengthAdjust="spacingAndGlyphs">38%</text>
<line x1="682.00" y1="188.00" x2="682.00" y2="183.90" stroke="#333" stroke-width="0.8"/>
<path d="M680.70,184.60 L682.00,182.40 L683.30,184.60 Z" fill="#333"/>
<text x="579.00" y="230.50" font-size="10.0" fill="#222" textLength="47.1" lengthAdjust="spacingAndGlyphs" transform="rotate(-90 579.00 230.50)">Nº particles</text>
<text x="613.70" y="238.70" font-size="7.0" text-anchor="end" fill="#333" transform="rotate(-45 613.70 238.70)">CTL</text>
<text x="633.30" y="240.10" font-size="7.0" text-anchor="end" fill="#333" transform="rotate(-45 633.30 240.10)">50:50</text>
<text x="654.50" y="240.10" font-size="7.0" text-anchor="end" fill="#333" transform="rotate(-45 654.50 240.10)">60:40</text>
<text x="676.00" y="240.10" font-size="7.0" text-anchor="end" fill="#333" transform="rotate(-45 676.00 240.10)">45:55</text>
<line x1="619.10" y1="253.20" x2="685.00" y2="253.20" stroke="#555" stroke-width="1.0"/>
<text x="627.70" y="259.70" font-size="8.0" fill="#222" textLength="41.4" lengthAdjust="spacingAndGlyphs"><tspan font-style="italic">Flrt1/3</tspan> dKO</text>
<line x1="599.50" y1="296.60" x2="599.50" y2="351.30" stroke="#888" stroke-width="1.3"/>
<line x1="599.50" y1="354.20" x2="599.50" y2="359.20" stroke="#888" stroke-width="1.3"/>
<line x1="598.00" y1="351.30" x2="601.20" y2="351.30" stroke="#888" stroke-width="0.9"/>
<line x1="598.00" y1="354.20" x2="601.20" y2="354.20" stroke="#888" stroke-width="0.9"/>
<line x1="599.50" y1="359.20" x2="685.00" y2="359.20" stroke="#888" stroke-width="1.3"/>
<line x1="597.30" y1="296.60" x2="599.50" y2="296.60" stroke="#888" stroke-width="0.9"/>
<text x="597.20" y="299.40" font-size="7.8" text-anchor="end" fill="#222">2.0</text>
<line x1="597.30" y1="320.05" x2="599.50" y2="320.05" stroke="#888" stroke-width="0.9"/>
<text x="597.20" y="322.85" font-size="7.8" text-anchor="end" fill="#222">1.5</text>
<line x1="597.30" y1="343.50" x2="599.50" y2="343.50" stroke="#888" stroke-width="0.9"/>
<text x="597.20" y="346.30" font-size="7.8" text-anchor="end" fill="#222">1.0</text>
<line x1="597.30" y1="359.20" x2="599.50" y2="359.20" stroke="#888" stroke-width="0.9"/>
<text x="597.20" y="362.00" font-size="7.8" text-anchor="end" fill="#222">0.0</text>
<line x1="617.00" y1="343.50" x2="685.00" y2="343.50" stroke="#888" stroke-width="0.8" stroke-dasharray="1,1.2"/>
<line x1="610.30" y1="338.60" x2="610.30" y2="346.80" stroke="#555" stroke-width="0.8"/>
<line x1="606.90" y1="338.60" x2="613.70" y2="338.60" stroke="#555" stroke-width="0.8"/>
<line x1="606.90" y1="346.80" x2="613.70" y2="346.80" stroke="#555" stroke-width="0.8"/>
<line x1="603.10" y1="343.40" x2="616.80" y2="343.40" stroke="#444" stroke-width="1.9"/>
<line x1="630.40" y1="317.50" x2="630.40" y2="322.80" stroke="#555" stroke-width="0.8"/>
<line x1="627.00" y1="317.50" x2="633.80" y2="317.50" stroke="#555" stroke-width="0.8"/>
<line x1="627.00" y1="322.80" x2="633.80" y2="322.80" stroke="#555" stroke-width="0.8"/>
<line x1="623.30" y1="320.10" x2="637.70" y2="320.10" stroke="#444" stroke-width="1.9"/>
<line x1="650.90" y1="307.40" x2="650.90" y2="312.50" stroke="#555" stroke-width="0.8"/>
<line x1="647.50" y1="307.40" x2="654.30" y2="307.40" stroke="#555" stroke-width="0.8"/>
<line x1="647.50" y1="312.50" x2="654.30" y2="312.50" stroke="#555" stroke-width="0.8"/>
<rect x="644.3" y="308.9" width="13.200000000000045" height="2.1000000000000227" fill="#1f3f8f" stroke="#333" stroke-width="0.7"/>
<line x1="644.30" y1="309.90" x2="657.50" y2="309.90" stroke="#1f3f8f" stroke-width="1.9"/>
<line x1="671.00" y1="311.30" x2="671.00" y2="319.40" stroke="#555" stroke-width="0.8"/>
<line x1="667.60" y1="311.30" x2="674.40" y2="311.30" stroke="#555" stroke-width="0.8"/>
<line x1="667.60" y1="319.40" x2="674.40" y2="319.40" stroke="#555" stroke-width="0.8"/>
<rect x="664.4" y="312.7" width="13.300000000000068" height="5.100000000000023" fill="#ff1010" stroke="#333" stroke-width="0.7"/>
<line x1="664.40" y1="317.40" x2="677.70" y2="317.40" stroke="#ff1010" stroke-width="1.9"/>
<path d="M609.8,278.2 L609.8,276.2 L671.6,276.2 L671.6,278.2" fill="none" stroke="#777" stroke-width="0.8"/>
<text x="630.90" y="274.80" font-size="6.2" fill="#333" textLength="23.8" lengthAdjust="spacingAndGlyphs">p &lt; 0.001</text>
<path d="M609.8,286.9 L609.8,285.1 L650.6,285.1 L650.6,286.9" fill="none" stroke="#777" stroke-width="0.8"/>
<text x="618.70" y="283.00" font-size="6.2" fill="#333" textLength="24.2" lengthAdjust="spacingAndGlyphs">p &lt; 0.001</text>
<path d="M630.2,293.5 L630.2,292.0 L670.5,292.0 L670.5,293.5" fill="none" stroke="#aaa" stroke-width="0.8"/>
<text x="640.60" y="291.40" font-size="6.2" fill="#333" textLength="20.5" lengthAdjust="spacingAndGlyphs">p &lt; 0.01</text>
<path d="M630.2,303.1 L630.2,301.7 L651.5,301.7 L651.5,303.1" fill="none" stroke="#777" stroke-width="0.8"/>
<text x="630.20" y="298.80" font-size="6.2" fill="#333" textLength="20.9" lengthAdjust="spacingAndGlyphs">p &lt; 0.01</text>
<path d="M609.8,316.0 L609.8,314.6 L630.9,314.6 L630.9,316.0" fill="none" stroke="#777" stroke-width="0.8"/>
<text x="608.90" y="313.20" font-size="6.2" fill="#333" textLength="23.0" lengthAdjust="spacingAndGlyphs">p &lt; 0.001</text>
<text x="659.70" y="310.70" font-size="6.2" fill="#333" textLength="23.4" lengthAdjust="spacingAndGlyphs">p &lt; 0.001</text>
<text x="570.80" y="350.30" font-size="11.0" fill="#222" textLength="54.6" lengthAdjust="spacingAndGlyphs" transform="rotate(-90 570.80 350.30)">Surface  A<tspan dx="-2.2">rea</tspan></text>
<text x="579.60" y="352.00" font-size="10.8" fill="#222" textLength="62.1" lengthAdjust="spacingAndGlyphs" transform="rotate(-90 579.60 352.00)">respect to CTL</text>
<text x="613.60" y="366.00" font-size="7.3" text-anchor="end" fill="#333" transform="rotate(-45 613.60 366.00)">CTL</text>
<text x="633.10" y="365.90" font-size="7.3" text-anchor="end" fill="#333" transform="rotate(-45 633.10 365.90)">50:50</text>
<text x="653.40" y="365.70" font-size="7.3" text-anchor="end" fill="#333" transform="rotate(-45 653.40 365.70)">60:40</text>
<text x="673.90" y="366.10" font-size="7.3" text-anchor="end" fill="#333" transform="rotate(-45 673.90 366.10)">45:55</text>
<line x1="610.10" y1="359.20" x2="610.10" y2="361.40" stroke="#888" stroke-width="0.9"/>
<line x1="630.50" y1="359.20" x2="630.50" y2="361.40" stroke="#888" stroke-width="0.9"/>
<line x1="650.30" y1="359.20" x2="650.30" y2="361.40" stroke="#888" stroke-width="0.9"/>
<line x1="671.50" y1="359.20" x2="671.50" y2="361.40" stroke="#888" stroke-width="0.9"/>
<line x1="619.10" y1="380.00" x2="681.00" y2="380.00" stroke="#777" stroke-width="1.3"/>
<text x="626.70" y="388.40" font-size="8.0" fill="#222" textLength="41.1" lengthAdjust="spacingAndGlyphs"><tspan font-style="italic">Flrt1/3</tspan> dKO</text>
<line x1="596.80" y1="391.40" x2="596.80" y2="454.60" stroke="#888" stroke-width="1.3"/>
<line x1="596.80" y1="454.60" x2="683.00" y2="454.60" stroke="#888" stroke-width="1.3"/>
<line x1="594.60" y1="454.60" x2="596.80" y2="454.60" stroke="#888" stroke-width="0.9"/>
<text x="595.30" y="457.20" font-size="7.3" text-anchor="end" fill="#222">0</text>
<line x1="594.60" y1="441.96" x2="596.80" y2="441.96" stroke="#888" stroke-width="0.9"/>
<text x="595.30" y="444.56" font-size="7.3" text-anchor="end" fill="#222">20</text>
<line x1="594.60" y1="429.32" x2="596.80" y2="429.32" stroke="#888" stroke-width="0.9"/>
<text x="595.30" y="431.92" font-size="7.3" text-anchor="end" fill="#222">40</text>
<line x1="594.60" y1="416.68" x2="596.80" y2="416.68" stroke="#888" stroke-width="0.9"/>
<text x="595.30" y="419.28" font-size="7.3" text-anchor="end" fill="#222">60</text>
<line x1="594.60" y1="404.04" x2="596.80" y2="404.04" stroke="#888" stroke-width="0.9"/>
<text x="595.30" y="406.64" font-size="7.3" text-anchor="end" fill="#222">80</text>
<line x1="594.60" y1="391.40" x2="596.80" y2="391.40" stroke="#888" stroke-width="0.9"/>
<text x="595.30" y="394.00" font-size="7.3" text-anchor="end" fill="#222">100</text>
<rect x="602.30" y="452.10" width="14.30" height="2.50" fill="#9d9da2"/>
<line x1="609.45" y1="454.60" x2="609.45" y2="456.80" stroke="#888" stroke-width="0.9"/>
<text x="604.00" y="451.00" font-size="8.3" fill="#333">4%</text>
<rect x="623.00" y="450.00" width="14.00" height="4.60" fill="#9d9da2"/>
<line x1="630.00" y1="454.60" x2="630.00" y2="456.80" stroke="#888" stroke-width="0.9"/>
<text x="624.50" y="448.20" font-size="8.3" fill="#333">8%</text>
<rect x="644.10" y="452.10" width="14.10" height="2.50" fill="#0b5fd2"/>
<line x1="651.15" y1="454.60" x2="651.15" y2="456.80" stroke="#888" stroke-width="0.9"/>
<text x="645.30" y="451.00" font-size="8.3" fill="#333">4%</text>
<rect x="665.00" y="406.80" width="13.80" height="47.80" fill="#ff0000"/>
<line x1="671.90" y1="454.60" x2="671.90" y2="456.80" stroke="#888" stroke-width="0.9"/>
<text x="665.00" y="405.00" font-size="8.3" fill="#333">76%</text>
<text x="567.30" y="458.00" font-size="10.8" fill="#222" textLength="77.7" lengthAdjust="spacingAndGlyphs" transform="rotate(-90 567.30 458.00)">% Simulation with</text>
<text x="578.20" y="446.00" font-size="10.3" fill="#222" textLength="61.1" lengthAdjust="spacingAndGlyphs" transform="rotate(-90 578.20 446.00)">gyri-like areas</text>
<text x="611.90" y="463.50" font-size="7.4" text-anchor="end" fill="#333" transform="rotate(-45 611.90 463.50)">CTL</text>
<text x="633.30" y="463.80" font-size="7.4" text-anchor="end" fill="#333" transform="rotate(-45 633.30 463.80)">50:50</text>
<text x="654.30" y="463.80" font-size="7.4" text-anchor="end" fill="#333" transform="rotate(-45 654.30 463.80)">60:40</text>
<text x="675.30" y="463.80" font-size="7.4" text-anchor="end" fill="#333" transform="rotate(-45 675.30 463.80)">45:55</text>
<line x1="619.10" y1="478.30" x2="683.00" y2="478.30" stroke="#555" stroke-width="1.1"/>
<text x="626.70" y="486.40" font-size="8.0" fill="#222" textLength="41.1" lengthAdjust="spacingAndGlyphs"><tspan font-style="italic">Flrt1/3</tspan> dKO</text>
<path fill="none" stroke="#e2e2e2" stroke-width="0.55" d="M34.3,337.8L67.1,286.1M46.0,341.0L78.8,289.3M57.6,344.2L90.4,292.5M69.3,347.4L102.1,295.7M81.0,350.7L113.8,299.0M92.7,353.9L125.5,302.2M104.3,357.1L137.1,305.4M116.0,360.3L148.8,308.6M45.2,320.6L126.9,343.1M56.2,303.3L137.9,325.8M67.1,286.1L148.8,308.6M67.1,286.1L67.1,257.5M78.8,289.3L78.8,260.7M90.4,292.5L90.4,263.9M102.1,295.7L102.1,267.1M113.8,299.0L113.8,270.4M125.5,302.2L125.5,273.6M137.1,305.4L137.1,276.8M148.8,308.6L148.8,280.0M67.1,286.1L148.8,308.6M67.1,279.0L148.8,301.5M67.1,271.8L148.8,294.3M67.1,264.7L148.8,287.2M67.1,257.5L148.8,280.0M34.3,337.8L34.3,309.2M45.2,320.6L45.2,292.0M56.2,303.3L56.2,274.7M67.1,286.1L67.1,257.5M34.3,337.8L67.1,286.1M34.3,330.7L67.1,279.0M34.3,323.5L67.1,271.8M34.3,316.4L67.1,264.7M34.3,309.2L67.1,257.5"/>
<text x="31.70" y="338.90" font-size="3.2" text-anchor="end" fill="#666">-1</text>
<text x="31.70" y="331.75" font-size="3.2" text-anchor="end" fill="#666">0</text>
<text x="31.70" y="324.60" font-size="3.2" text-anchor="end" fill="#666">1</text>
<text x="31.70" y="317.45" font-size="3.2" text-anchor="end" fill="#666">2</text>
<text x="31.70" y="310.30" font-size="3.2" text-anchor="end" fill="#666">3</text>
<text x="32.50" y="342.80" font-size="3.2" text-anchor="middle" fill="#666">0</text>
<text x="44.17" y="346.01" font-size="3.2" text-anchor="middle" fill="#666">1</text>
<text x="55.84" y="349.23" font-size="3.2" text-anchor="middle" fill="#666">2</text>
<text x="67.51" y="352.44" font-size="3.2" text-anchor="middle" fill="#666">3</text>
<text x="79.19" y="355.66" font-size="3.2" text-anchor="middle" fill="#666">4</text>
<text x="90.86" y="358.87" font-size="3.2" text-anchor="middle" fill="#666">5</text>
<text x="102.53" y="362.09" font-size="3.2" text-anchor="middle" fill="#666">6</text>
<text x="114.20" y="365.30" font-size="3.2" text-anchor="middle" fill="#666">7</text>
<text x="118.60" y="362.90" font-size="3.2" fill="#666">0</text>
<text x="129.53" y="345.67" font-size="3.2" fill="#666">0.5</text>
<text x="140.47" y="328.43" font-size="3.2" fill="#666">1</text>
<text x="151.40" y="311.20" font-size="3.2" fill="#666">1.5</text>
<path fill="none" stroke="#9a9a9a" stroke-width="0.6" d="M34.3,337.8L34.3,309.2M34.3,337.8L116.0,360.3M116.0,360.3L148.8,308.6M33.1,337.8L34.3,337.8M33.1,330.7L34.3,330.7M33.1,323.5L34.3,323.5M33.1,316.4L34.3,316.4M33.1,309.2L34.3,309.2M34.3,337.8L33.7,338.8M46.0,341.0L45.4,342.0M57.6,344.2L57.0,345.2M69.3,347.4L68.7,348.4M81.0,350.7L80.4,351.7M92.7,353.9L92.1,354.9M104.3,357.1L103.7,358.1M116.0,360.3L115.4,361.3M116.0,360.3L117.2,360.6M126.9,343.1L128.1,343.4M137.9,325.8L139.1,326.1M148.8,308.6L150.0,308.9"/>
<g clip-path="url(#clipe)"><g filter="url(#sblur)"><g transform="matrix(71.500,18.500,20.500,-35.500,40.500,320.900)"><rect x="-0.08" y="-0.1220" width="1.1600000000000001" height="0.0729" fill="url(#ge0)"/><rect x="-0.08" y="-0.0531" width="1.1600000000000001" height="0.0729" fill="url(#ge1)"/><rect x="-0.08" y="0.0158" width="1.1600000000000001" height="0.0729" fill="url(#ge2)"/><rect x="-0.08" y="0.0847" width="1.1600000000000001" height="0.0729" fill="url(#ge3)"/><rect x="-0.08" y="0.1536" width="1.1600000000000001" height="0.0729" fill="url(#ge4)"/><rect x="-0.08" y="0.2224" width="1.1600000000000001" height="0.0729" fill="url(#ge5)"/><rect x="-0.08" y="0.2913" width="1.1600000000000001" height="0.0729" fill="url(#ge6)"/><rect x="-0.08" y="0.3602" width="1.1600000000000001" height="0.0729" fill="url(#ge7)"/><rect x="-0.08" y="0.4291" width="1.1600000000000001" height="0.0729" fill="url(#ge8)"/><rect x="-0.08" y="0.4980" width="1.1600000000000001" height="0.0729" fill="url(#ge9)"/><rect x="-0.08" y="0.5669" width="1.1600000000000001" height="0.0729" fill="url(#ge10)"/><rect x="-0.08" y="0.6358" width="1.1600000000000001" height="0.0729" fill="url(#ge11)"/><rect x="-0.08" y="0.7047" width="1.1600000000000001" height="0.0729" fill="url(#ge12)"/><rect x="-0.08" y="0.7736" width="1.1600000000000001" height="0.0729" fill="url(#ge13)"/><rect x="-0.08" y="0.8424" width="1.1600000000000001" height="0.0729" fill="url(#ge14)"/><rect x="-0.08" y="0.9113" width="1.1600000000000001" height="0.0729" fill="url(#ge15)"/><rect x="-0.08" y="0.9802" width="1.1600000000000001" height="0.0729" fill="url(#ge16)"/><rect x="-0.08" y="1.0491" width="1.1600000000000001" height="0.0729" fill="url(#ge17)"/></g></g><path fill="none" stroke="#303030" stroke-width="0.45" stroke-opacity="0.7" d="M49.5,324.8L49.6,324.5M49.6,324.5L49.8,324.3M50.1,325.9L49.5,324.8M51.3,323.9L49.8,324.3M51.4,325.7L50.1,325.9M52.1,324.5L51.3,323.9M52.3,325.2L51.4,325.7M52.3,325.2L52.1,324.5M73.0,325.4L73.7,323.5M73.7,323.5L75.7,320.4M75.7,320.4L76.5,319.5M74.8,323.8L73.0,325.4M74.8,323.8L76.5,320.7M76.5,320.7L76.5,319.5M93.3,302.8L94.3,300.0M94.3,300.0L96.0,296.8M96.0,296.8L97.7,295.1M75.9,334.9L76.8,331.6M76.8,331.6L78.8,328.5M78.8,328.5L81.1,325.5M81.1,325.5L83.0,322.3M83.0,322.3L83.7,321.3M92.9,305.4L93.1,303.3M93.1,303.3L93.3,302.8M98.4,296.0L97.7,295.1M76.0,335.0L75.9,334.9M83.5,323.8L83.4,322.5M83.4,322.5L83.7,321.3M93.5,306.5L92.9,305.4M99.2,296.6L98.4,296.0M77.2,335.3L78.3,334.8M83.0,326.7L82.8,325.9M82.8,325.9L83.5,323.8M94.8,306.2L93.5,306.5M99.8,297.7L99.2,296.6M80.6,332.5L78.3,334.8M80.6,332.5L82.3,329.4M82.3,329.4L83.0,326.7M96.8,304.2L94.8,306.2M96.8,304.2L98.7,301.1M98.7,301.1L99.8,297.8M99.8,297.8L99.8,297.7M89.5,331.9L89.7,331.3M89.7,331.3L90.5,330.3M94.1,324.0L95.0,321.8M95.0,321.8L96.5,319.9M101.9,310.5L102.2,309.2M102.2,309.2L103.7,306.0M103.7,306.0L106.0,303.0M106.0,303.0L106.7,302.2M89.1,334.8L89.1,334.8M89.1,334.8L89.5,331.9M92.1,328.3L90.5,330.3M92.1,328.3L93.7,325.1M93.7,325.1L94.1,324.0M97.4,318.8L96.5,319.9M97.4,318.8L99.2,317.3M102.6,311.4L101.9,310.5M108.6,300.9L106.7,302.2M88.1,338.1L89.1,334.8M99.1,319.4L99.1,319.3M99.1,319.3L99.2,317.3M104.5,309.8L102.6,311.4M104.5,309.8L104.8,309.6M109.2,301.9L108.6,300.9M91.9,334.0L92.5,332.0M92.5,332.0L94.6,329.0M94.6,329.0L96.6,325.8M96.6,325.8L98.1,322.6M98.1,322.6L99.1,319.4M107.1,306.9L104.8,309.6M107.1,306.9L108.8,303.7M108.8,303.7L109.2,301.9M89.9,338.6L91.3,335.3M91.3,335.3L91.9,334.0M96.8,329.7L96.5,329.4M96.5,329.4L97.0,329.3M96.9,329.6L96.8,329.7M96.9,329.6L97.0,329.3M102.7,335.9L102.9,334.7M102.9,334.7L104.4,331.5M104.4,331.5L106.3,329.7M102.5,338.3L102.6,338.2M102.6,338.2L102.7,335.9M107.8,328.7L106.3,329.7M107.8,328.7L108.2,328.6M103.4,338.5L102.5,338.3M103.4,338.5L103.6,338.5M108.0,331.0L108.3,328.9M108.3,328.9L108.2,328.6M105.6,335.4L103.6,338.5M105.6,335.4L107.4,332.3M107.4,332.3L108.0,331.0M111.2,329.5L112.3,326.3M112.3,326.3L114.3,323.2M114.3,323.2L115.9,321.3M110.4,332.9L111.1,329.6M111.1,329.6L111.2,329.5M116.8,320.2L115.9,321.3M116.8,320.2L119.2,317.7M109.9,335.8L110.4,333.0M110.4,333.0L110.4,332.9M119.6,317.4L119.2,317.7M119.6,317.4L121.5,315.8M110.0,337.8L110.1,336.6M110.1,336.6L109.9,335.8M123.1,315.0L121.5,315.8M111.3,337.6L110.0,337.8M123.8,314.8L123.1,315.0M123.8,314.8L124.7,314.3M112.5,337.6L111.3,337.6M126.0,314.2L124.7,314.3M113.7,337.6L112.5,337.6M117.5,330.9L118.9,328.0M118.9,328.0L120.4,324.8M120.4,324.8L122.1,321.6M122.1,321.6L124.3,318.6M124.3,318.6L126.3,315.5M126.3,315.5L126.0,314.2M113.8,337.5L113.7,337.6M113.8,337.5L116.1,334.5M116.1,334.5L117.4,331.2M117.4,331.2L117.5,330.9M60.5,291.4L60.5,291.2M60.5,291.2L60.7,291.1M60.7,291.3L60.5,291.4M60.7,291.3L60.7,291.1M53.8,307.1L55.0,304.2M55.0,304.2L56.9,301.1M56.9,301.1L58.5,298.9M53.8,309.2L53.7,307.5M53.7,307.5L53.8,307.1M59.3,298.1L58.5,298.9M59.3,298.1L60.9,296.9M54.5,310.1L53.8,309.2M62.2,296.7L60.9,296.9M56.3,309.1L54.5,310.1M63.0,297.3L62.2,296.7M57.1,308.4L56.3,309.1M57.1,308.4L58.4,307.5M64.3,297.1L63.0,297.3M59.6,307.5L58.4,307.5M65.7,296.8L64.3,297.1M61.1,306.9L59.6,307.5M66.6,297.4L65.7,296.8M62.4,306.2L61.1,306.9M62.4,306.2L63.0,305.7M66.9,298.9L66.6,297.4M64.5,305.1L63.0,305.7M67.3,300.3L67.3,300.2M67.3,300.2L66.9,298.9M63.7,308.5L64.0,306.6M64.0,306.6L64.5,305.1M67.4,300.2L67.3,300.3M67.4,300.2L68.8,299.7M63.5,311.0L63.4,310.0M63.4,310.0L63.7,308.5M69.7,300.2L68.8,299.7M64.4,311.4L63.5,311.0M70.2,301.4L70.0,300.9M70.0,300.9L69.7,300.2M65.7,311.3L64.4,311.4M71.3,301.6L70.2,301.4M66.6,310.9L65.7,311.3M66.6,310.9L67.7,309.9M71.6,303.1L71.3,301.6M69.3,308.0L67.7,309.9M69.3,308.0L71.1,304.8M71.1,304.8L71.6,303.1M111.5,308.3L111.6,308.0M111.6,308.0L112.8,304.8M112.8,304.8L114.6,301.6M114.6,301.6L116.6,299.5M112.3,309.0L111.5,308.3M117.3,300.3L116.6,299.5M113.5,308.6L112.3,309.0M113.5,308.6L113.8,308.4M118.1,301.0L117.3,300.3M114.9,308.6L113.8,308.4M119.4,300.9L118.1,301.0M116.1,308.6L114.9,308.6M120.1,301.6L119.4,300.9M118.0,307.4L116.1,308.6M120.5,303.0L120.1,301.6M119.2,306.4L118.0,307.4M119.2,306.4L120.5,303.1M120.5,303.1L120.5,303.0"/></g>
<path fill="none" stroke="#e2e2e2" stroke-width="0.55" d="M161.2,331.7L191.9,279.2M173.0,334.8L203.7,282.3M184.9,337.9L215.6,285.4M196.7,341.0L227.4,288.5M208.5,344.2L239.2,291.7M220.3,347.3L251.0,294.8M232.2,350.4L262.9,297.9M244.0,353.5L274.7,301.0M171.4,314.2L254.2,336.0M181.7,296.7L264.5,318.5M191.9,279.2L274.7,301.0M191.9,279.2L191.9,250.5M203.7,282.3L203.7,253.6M215.6,285.4L215.6,256.7M227.4,288.5L227.4,259.8M239.2,291.7L239.2,263.0M251.0,294.8L251.0,266.1M262.9,297.9L262.9,269.2M274.7,301.0L274.7,272.3M191.9,279.2L274.7,301.0M191.9,272.0L274.7,293.8M191.9,264.8L274.7,286.6M191.9,257.7L274.7,279.5M191.9,250.5L274.7,272.3M161.2,331.7L161.2,303.0M171.4,314.2L171.4,285.5M181.7,296.7L181.7,268.0M191.9,279.2L191.9,250.5M161.2,331.7L191.9,279.2M161.2,324.5L191.9,272.0M161.2,317.3L191.9,264.8M161.2,310.2L191.9,257.7M161.2,303.0L191.9,250.5"/>
<text x="158.60" y="332.80" font-size="3.2" text-anchor="end" fill="#666">-1</text>
<text x="158.60" y="325.62" font-size="3.2" text-anchor="end" fill="#666">0</text>
<text x="158.60" y="318.45" font-size="3.2" text-anchor="end" fill="#666">1</text>
<text x="158.60" y="311.28" font-size="3.2" text-anchor="end" fill="#666">2</text>
<text x="158.60" y="304.10" font-size="3.2" text-anchor="end" fill="#666">3</text>
<text x="159.40" y="336.70" font-size="3.2" text-anchor="middle" fill="#666">0</text>
<text x="171.23" y="339.81" font-size="3.2" text-anchor="middle" fill="#666">1</text>
<text x="183.06" y="342.93" font-size="3.2" text-anchor="middle" fill="#666">2</text>
<text x="194.89" y="346.04" font-size="3.2" text-anchor="middle" fill="#666">3</text>
<text x="206.71" y="349.16" font-size="3.2" text-anchor="middle" fill="#666">4</text>
<text x="218.54" y="352.27" font-size="3.2" text-anchor="middle" fill="#666">5</text>
<text x="230.37" y="355.39" font-size="3.2" text-anchor="middle" fill="#666">6</text>
<text x="242.20" y="358.50" font-size="3.2" text-anchor="middle" fill="#666">7</text>
<text x="246.60" y="356.10" font-size="3.2" fill="#666">0</text>
<text x="256.83" y="338.60" font-size="3.2" fill="#666">0.5</text>
<text x="267.07" y="321.10" font-size="3.2" fill="#666">1</text>
<text x="277.30" y="303.60" font-size="3.2" fill="#666">1.5</text>
<path fill="none" stroke="#9a9a9a" stroke-width="0.6" d="M161.2,331.7L161.2,303.0M161.2,331.7L244.0,353.5M244.0,353.5L274.7,301.0M160.0,331.7L161.2,331.7M160.0,324.5L161.2,324.5M160.0,317.3L161.2,317.3M160.0,310.2L161.2,310.2M160.0,303.0L161.2,303.0M161.2,331.7L160.6,332.7M173.0,334.8L172.4,335.8M184.9,337.9L184.3,338.9M196.7,341.0L196.1,342.0M208.5,344.2L207.9,345.2M220.3,347.3L219.7,348.3M232.2,350.4L231.6,351.4M244.0,353.5L243.4,354.5M244.0,353.5L245.2,353.8M254.2,336.0L255.4,336.3M264.5,318.5L265.7,318.8M274.7,301.0L275.9,301.3"/>
<g clip-path="url(#clipf)"><g filter="url(#sblur)"><g transform="matrix(77.000,15.400,31.000,-58.500,161.300,323.000)"><rect x="-0.08" y="-0.1220" width="1.1600000000000001" height="0.0729" fill="url(#gf0)"/><rect x="-0.08" y="-0.0531" width="1.1600000000000001" height="0.0729" fill="url(#gf1)"/><rect x="-0.08" y="0.0158" width="1.1600000000000001" height="0.0729" fill="url(#gf2)"/><rect x="-0.08" y="0.0847" width="1.1600000000000001" height="0.0729" fill="url(#gf3)"/><rect x="-0.08" y="0.1536" width="1.1600000000000001" height="0.0729" fill="url(#gf4)"/><rect x="-0.08" y="0.2224" width="1.1600000000000001" height="0.0729" fill="url(#gf5)"/><rect x="-0.08" y="0.2913" width="1.1600000000000001" height="0.0729" fill="url(#gf6)"/><rect x="-0.08" y="0.3602" width="1.1600000000000001" height="0.0729" fill="url(#gf7)"/><rect x="-0.08" y="0.4291" width="1.1600000000000001" height="0.0729" fill="url(#gf8)"/><rect x="-0.08" y="0.4980" width="1.1600000000000001" height="0.0729" fill="url(#gf9)"/><rect x="-0.08" y="0.5669" width="1.1600000000000001" height="0.0729" fill="url(#gf10)"/><rect x="-0.08" y="0.6358" width="1.1600000000000001" height="0.0729" fill="url(#gf11)"/><rect x="-0.08" y="0.7047" width="1.1600000000000001" height="0.0729" fill="url(#gf12)"/><rect x="-0.08" y="0.7736" width="1.1600000000000001" height="0.0729" fill="url(#gf13)"/><rect x="-0.08" y="0.8424" width="1.1600000000000001" height="0.0729" fill="url(#gf14)"/><rect x="-0.08" y="0.9113" width="1.1600000000000001" height="0.0729" fill="url(#gf15)"/><rect x="-0.08" y="0.9802" width="1.1600000000000001" height="0.0729" fill="url(#gf16)"/><rect x="-0.08" y="1.0491" width="1.1600000000000001" height="0.0729" fill="url(#gf17)"/></g></g><path fill="none" stroke="#303030" stroke-width="0.45" stroke-opacity="0.7" d="M165.8,317.9L166.6,314.6M166.6,314.6L169.6,309.5M169.6,309.5L171.4,307.4M165.8,320.4L165.8,320.2M165.8,320.2L165.8,317.9M173.9,305.1L171.4,307.4M166.7,321.0L165.8,320.4M175.0,305.3L173.9,305.1M167.1,322.5L166.7,321.0M176.1,305.4L175.0,305.3M167.2,324.6L167.1,322.5M176.8,305.2L176.1,305.4M176.8,305.2L179.6,300.0M179.6,300.0L182.5,294.9M182.5,294.9L185.2,289.7M185.2,289.7L188.1,284.5M188.1,284.5L190.5,280.6M168.6,324.3L167.2,324.6M178.5,305.6L178.5,305.5M178.5,305.5L179.6,303.6M190.6,282.8L190.5,280.6M170.7,321.2L168.6,324.3M170.7,321.2L174.1,316.1M174.1,316.1L176.7,310.9M176.7,310.9L178.5,305.6M181.3,300.4L179.6,303.6M181.3,300.4L184.4,295.3M184.4,295.3L187.2,290.1M187.2,290.1L189.7,284.9M189.7,284.9L190.6,282.8M179.5,327.0L180.8,323.2M180.8,323.2L184.0,318.1M184.0,318.1L184.9,316.9M178.4,331.5L179.1,328.6M179.1,328.6L179.5,327.0M187.8,313.1L184.9,316.9M187.8,313.1L190.3,309.1M200.0,290.7L201.6,287.2M201.6,287.2L204.2,282.0M204.2,282.0L207.3,276.9M207.3,276.9L207.3,276.9M179.3,332.2L178.4,331.5M191.4,308.1L190.3,309.1M191.4,308.1L194.3,303.8M197.7,297.3L199.5,292.6M199.5,292.6L200.0,290.7M210.4,273.4L207.3,276.9M179.7,333.6L179.3,332.2M194.8,303.1L194.3,303.8M194.8,303.1L197.7,297.9M197.7,297.9L197.7,297.3M212.2,272.2L210.4,273.4M212.2,272.2L214.6,267.8M215.1,267.0L217.3,261.7M179.8,334.5L179.7,333.6M198.0,301.5L198.8,298.2M198.8,298.2L200.8,296.3M215.0,267.0L214.6,267.8M215.0,267.0L215.1,267.0M198.1,303.6L198.0,301.5M203.1,293.3L200.8,296.3M203.1,293.3L204.4,291.7M182.2,335.0L183.9,332.8M193.4,314.9L193.5,314.3M193.5,314.3L195.7,309.0M195.7,309.0L198.2,303.8M198.2,303.8L198.1,303.6M206.8,288.3L204.4,291.7M206.8,288.3L209.8,283.2M209.8,283.2L212.2,277.9M212.2,277.9L214.6,272.7M214.6,272.7L217.5,267.5M217.5,267.5L220.5,262.4M185.8,329.9L183.9,332.8M185.8,329.9L189.2,324.9M189.2,324.9L191.7,319.6M191.7,319.6L193.4,314.9M214.8,290.7L215.1,290.0M215.1,290.0L217.9,284.8M217.9,284.8L218.2,284.2M215.5,291.7L214.8,290.7M219.3,284.6L218.2,284.2M215.7,293.7L215.5,291.7M220.2,285.2L219.3,284.6M211.6,303.7L212.8,301.0M212.8,301.0L214.9,295.6M214.9,295.6L215.7,293.7M223.8,280.2L220.2,285.2M223.8,280.2L226.2,276.3M229.1,270.8L229.5,269.9M229.5,269.9L232.2,264.7M213.6,302.4L211.6,303.7M227.0,275.1L226.2,276.3M227.0,275.1L229.1,270.8M214.2,301.2L213.6,302.4M214.2,301.2L217.4,296.1M217.4,296.1L220.4,291.0M220.4,291.0L223.1,285.8M223.1,285.8L225.7,280.6M225.7,280.6L228.4,275.4M228.4,275.4L231.7,270.3M231.7,270.3L232.2,269.5M234.7,265.2L232.2,269.5M219.2,315.1L219.0,313.6M219.0,313.6L221.6,308.4M221.6,308.4L224.0,306.0M207.1,339.9L209.5,335.6M220.7,314.5L219.2,315.1M226.1,304.4L224.0,306.0M245.7,267.5L245.7,267.4M210.3,334.8L209.5,335.6M210.3,334.8L211.2,334.7M221.2,314.1L220.7,314.5M221.2,314.1L224.3,309.0M224.3,309.0L226.1,304.4M229.5,300.4L229.9,298.6M229.9,298.6L232.6,293.4M232.6,293.4L235.6,288.3M235.6,288.3L236.9,286.3M244.3,272.3L245.7,267.5M208.6,340.2L211.2,335.0M211.2,335.0L211.2,334.7M230.4,298.7L229.5,300.4M230.4,298.7L233.3,293.6M233.3,293.6L236.0,288.4M236.0,288.4L236.9,286.3M247.0,267.7L244.3,272.3M243.6,297.0L244.2,295.8M244.2,295.8L246.2,290.4M246.2,290.4L249.5,285.4M249.5,285.4L250.6,283.8M229.2,326.5L231.4,321.9M231.4,321.9L233.8,316.6M233.8,316.6L236.4,311.4M236.4,311.4L238.9,306.2M238.9,306.2L241.6,301.0M241.6,301.0L243.6,297.0M253.3,280.4L250.6,283.8M253.3,280.4L256.3,275.3M256.3,275.3L257.3,273.4M226.2,334.5L226.8,332.4M226.8,332.4L229.0,327.1M229.0,327.1L229.2,326.5M259.3,270.1L257.3,273.4M227.4,332.5L226.2,334.5M227.4,332.5L230.4,327.4M230.4,327.4L233.3,322.2M233.3,322.2L236.2,317.1M236.2,317.1L239.0,311.9M239.0,311.9L242.0,306.8M242.0,306.8L242.8,305.6M248.5,294.7L250.2,291.2M250.2,291.2L252.5,286.0M252.5,286.0L255.0,280.7M255.0,280.7L257.9,275.6M257.9,275.6L260.6,270.4M245.0,301.7L242.8,305.6M245.0,301.7L247.6,296.5M247.6,296.5L248.5,294.7M252.1,320.5L252.1,320.3M252.1,320.3L252.3,320.1M252.6,321.9L252.1,320.5M253.9,319.5L252.3,320.1M254.0,321.7L252.6,321.9M254.9,319.9L253.9,319.5M194.5,282.5L194.8,280.2M194.8,280.2L197.4,275.0M197.4,275.0L200.1,271.9M194.8,284.2L194.5,282.5M202.2,270.2L200.1,271.9M191.4,292.9L191.7,291.0M191.7,291.0L194.5,287.1M195.5,285.2L194.8,284.2M202.5,271.9L202.2,270.2M192.1,294.0L191.4,292.9M194.8,288.9L194.5,287.1M198.7,280.9L195.5,285.2M198.7,280.9L201.2,275.7M201.2,275.7L202.5,271.9M193.8,291.4L192.1,294.0M193.8,291.4L194.8,288.9M194.2,322.6L195.2,320.4M195.2,320.4L197.1,317.1M206.2,300.0L206.3,299.7M206.3,299.7L208.3,294.3M208.3,294.3L211.3,289.2M211.3,289.2L214.3,284.7M192.8,327.7L193.4,325.7M193.4,325.7L194.2,322.6M198.4,315.3L197.1,317.1M198.4,315.3L200.3,313.4M206.5,299.7L206.2,300.0M206.5,299.7L210.0,294.7M210.0,294.7L212.6,289.4M212.6,289.4L214.3,284.7M194.3,325.9L192.8,327.7M194.3,325.9L195.2,325.4M200.9,314.7L200.3,313.4M196.8,324.8L195.2,325.4M201.7,315.6L200.9,314.7M197.9,325.0L196.8,324.8M202.9,315.5L201.7,315.6M200.0,323.4L197.9,325.0M202.6,318.4L202.9,316.2M202.9,316.2L202.9,315.5M201.7,321.7L200.0,323.4M201.7,321.7L202.6,318.4M207.6,325.3L208.7,323.0M208.7,323.0L209.6,321.6M202.7,336.8L203.7,333.5M203.7,333.5L206.1,328.3M206.1,328.3L207.6,325.3M212.2,318.9L209.6,321.6M222.6,299.4L222.5,297.2M222.5,297.2L225.4,292.0M225.4,292.0L229.1,287.0M229.1,287.0L229.5,286.4M205.2,333.8L202.7,336.8M205.2,333.8L208.1,329.1M211.1,323.4L212.2,318.9M223.9,297.4L222.6,299.4M223.9,297.4L226.9,292.3M226.9,292.3L229.2,287.0M229.2,287.0L232.2,283.6M232.4,282.0L229.5,286.4M232.4,282.0L233.3,281.4M208.3,328.7L208.1,329.1M208.3,328.7L211.1,323.5M211.1,323.5L211.1,323.4M232.2,285.9L232.2,283.6M235.4,279.9L233.3,281.4M213.0,324.5L212.9,323.9M212.9,323.9L213.5,323.5M233.2,286.4L232.2,285.9M236.5,280.0L235.4,279.9M213.9,324.1L213.0,324.5M213.9,324.1L213.5,323.5M235.7,282.6L233.2,286.4M235.7,282.6L236.5,280.0M217.5,325.2L217.4,324.8M217.4,324.8L218.3,323.8M218.7,325.1L217.5,325.2M218.7,325.1L218.3,323.8M231.8,305.2L232.0,304.8M232.0,304.8L233.9,299.4M233.9,299.4L237.1,294.3M237.1,294.3L238.6,292.5M213.9,341.3L214.3,340.6M231.1,309.0L231.8,305.2M240.9,290.5L238.6,292.5M214.1,341.3L214.3,340.6M220.1,332.1L220.5,331.1M220.5,331.1L222.7,325.9M222.7,325.9L225.0,322.8M233.3,307.1L231.1,309.0M241.0,292.5L240.9,290.5M253.0,269.9L253.4,269.0M220.6,331.2L220.1,332.1M220.6,331.2L224.3,326.3M224.5,326.1L225.0,322.8M234.5,305.3L233.3,307.1M234.5,305.3L238.1,300.3M238.1,300.3L240.4,295.0M240.4,295.0L241.0,292.5M253.6,269.0L253.0,269.9M224.4,326.2L224.3,326.3M224.4,326.2L224.5,326.1M229.1,343.0L230.6,338.9M230.6,338.9L233.2,333.7M233.2,333.7L236.6,328.6M236.6,328.6L236.9,328.4M232.0,339.2L229.1,343.0M232.0,339.2L234.8,334.0M234.8,334.0L236.8,328.7M236.8,328.7L236.9,328.4"/></g>
<path fill="none" stroke="#e2e2e2" stroke-width="0.55" d="M293.3,337.8L323.9,285.7M304.7,340.9L335.3,288.8M316.1,343.9L346.7,291.8M327.5,347.0L358.1,294.9M338.8,350.1L369.4,298.0M350.2,353.2L380.8,301.1M361.6,356.2L392.2,304.1M373.0,359.3L403.6,307.2M303.5,320.4L383.2,341.9M313.7,303.1L393.4,324.6M323.9,285.7L403.6,307.2M323.9,285.7L323.9,258.1M335.3,288.8L335.3,261.2M346.7,291.8L346.7,264.2M358.1,294.9L358.1,267.3M369.4,298.0L369.4,270.4M380.8,301.1L380.8,273.5M392.2,304.1L392.2,276.5M403.6,307.2L403.6,279.6M323.9,285.7L403.6,307.2M323.9,278.8L403.6,300.3M323.9,271.9L403.6,293.4M323.9,265.0L403.6,286.5M323.9,258.1L403.6,279.6M293.3,337.8L293.3,310.2M303.5,320.4L303.5,292.8M313.7,303.1L313.7,275.5M323.9,285.7L323.9,258.1M293.3,337.8L323.9,285.7M293.3,330.9L323.9,278.8M293.3,324.0L323.9,271.9M293.3,317.1L323.9,265.0M293.3,310.2L323.9,258.1"/>
<text x="290.70" y="338.90" font-size="3.2" text-anchor="end" fill="#666">-1</text>
<text x="290.70" y="332.00" font-size="3.2" text-anchor="end" fill="#666">0</text>
<text x="290.70" y="325.10" font-size="3.2" text-anchor="end" fill="#666">1</text>
<text x="290.70" y="318.20" font-size="3.2" text-anchor="end" fill="#666">2</text>
<text x="290.70" y="311.30" font-size="3.2" text-anchor="end" fill="#666">3</text>
<text x="291.50" y="342.80" font-size="3.2" text-anchor="middle" fill="#666">0</text>
<text x="302.89" y="345.87" font-size="3.2" text-anchor="middle" fill="#666">1</text>
<text x="314.27" y="348.94" font-size="3.2" text-anchor="middle" fill="#666">2</text>
<text x="325.66" y="352.01" font-size="3.2" text-anchor="middle" fill="#666">3</text>
<text x="337.04" y="355.09" font-size="3.2" text-anchor="middle" fill="#666">4</text>
<text x="348.43" y="358.16" font-size="3.2" text-anchor="middle" fill="#666">5</text>
<text x="359.81" y="361.23" font-size="3.2" text-anchor="middle" fill="#666">6</text>
<text x="371.20" y="364.30" font-size="3.2" text-anchor="middle" fill="#666">7</text>
<text x="375.60" y="361.90" font-size="3.2" fill="#666">0</text>
<text x="385.80" y="344.53" font-size="3.2" fill="#666">0.5</text>
<text x="396.00" y="327.17" font-size="3.2" fill="#666">1</text>
<text x="406.20" y="309.80" font-size="3.2" fill="#666">1.5</text>
<path fill="none" stroke="#9a9a9a" stroke-width="0.6" d="M293.3,337.8L293.3,310.2M293.3,337.8L373.0,359.3M373.0,359.3L403.6,307.2M292.1,337.8L293.3,337.8M292.1,330.9L293.3,330.9M292.1,324.0L293.3,324.0M292.1,317.1L293.3,317.1M292.1,310.2L293.3,310.2M293.3,337.8L292.7,338.8M304.7,340.9L304.1,341.9M316.1,343.9L315.5,344.9M327.5,347.0L326.9,348.0M338.8,350.1L338.2,351.1M350.2,353.2L349.6,354.2M361.6,356.2L361.0,357.2M373.0,359.3L372.4,360.3M373.0,359.3L374.2,359.6M383.2,341.9L384.4,342.2M393.4,324.6L394.6,324.9M403.6,307.2L404.8,307.5"/>
<g clip-path="url(#clipg)"><g filter="url(#sblur)"><g transform="matrix(77.000,19.000,30.000,-53.500,293.300,327.600)"><rect x="-0.08" y="-0.1220" width="1.1600000000000001" height="0.0729" fill="url(#gg0)"/><rect x="-0.08" y="-0.0531" width="1.1600000000000001" height="0.0729" fill="url(#gg1)"/><rect x="-0.08" y="0.0158" width="1.1600000000000001" height="0.0729" fill="url(#gg2)"/><rect x="-0.08" y="0.0847" width="1.1600000000000001" height="0.0729" fill="url(#gg3)"/><rect x="-0.08" y="0.1536" width="1.1600000000000001" height="0.0729" fill="url(#gg4)"/><rect x="-0.08" y="0.2224" width="1.1600000000000001" height="0.0729" fill="url(#gg5)"/><rect x="-0.08" y="0.2913" width="1.1600000000000001" height="0.0729" fill="url(#gg6)"/><rect x="-0.08" y="0.3602" width="1.1600000000000001" height="0.0729" fill="url(#gg7)"/><rect x="-0.08" y="0.4291" width="1.1600000000000001" height="0.0729" fill="url(#gg8)"/><rect x="-0.08" y="0.4980" width="1.1600000000000001" height="0.0729" fill="url(#gg9)"/><rect x="-0.08" y="0.5669" width="1.1600000000000001" height="0.0729" fill="url(#gg10)"/><rect x="-0.08" y="0.6358" width="1.1600000000000001" height="0.0729" fill="url(#gg11)"/><rect x="-0.08" y="0.7047" width="1.1600000000000001" height="0.0729" fill="url(#gg12)"/><rect x="-0.08" y="0.7736" width="1.1600000000000001" height="0.0729" fill="url(#gg13)"/><rect x="-0.08" y="0.8424" width="1.1600000000000001" height="0.0729" fill="url(#gg14)"/><rect x="-0.08" y="0.9113" width="1.1600000000000001" height="0.0729" fill="url(#gg15)"/><rect x="-0.08" y="0.9802" width="1.1600000000000001" height="0.0729" fill="url(#gg16)"/><rect x="-0.08" y="1.0491" width="1.1600000000000001" height="0.0729" fill="url(#gg17)"/></g></g><path fill="none" stroke="#303030" stroke-width="0.45" stroke-opacity="0.7" d="M314.9,308.4L314.9,307.9M314.9,307.9L317.1,303.0M317.1,303.0L318.9,301.2M314.9,310.5L314.9,308.4M318.2,304.7L318.5,303.4M318.5,303.4L318.9,301.2M316.6,309.8L314.9,310.5M319.6,304.5L318.2,304.7M301.8,337.0L304.8,332.4M304.8,332.4L307.8,327.7M307.8,327.7L307.9,327.7M318.0,309.5L316.6,309.8M320.1,303.8L319.6,304.5M320.1,303.8L323.3,299.2M323.3,299.2L325.4,296.4M308.3,329.2L307.9,327.7M307.9,327.7L307.9,327.7M319.6,309.0L318.0,309.5M319.6,309.0L319.6,309.0M327.1,295.7L325.4,296.4M309.8,328.2L308.3,329.2M309.8,328.2L310.2,328.0M321.4,308.1L319.6,309.0M327.6,297.0L327.1,295.7M310.5,329.7L310.4,328.3M310.4,328.3L310.2,328.0M323.4,306.8L321.4,308.1M328.4,297.8L327.6,297.0M306.9,338.3L309.1,333.4M309.1,333.4L310.5,329.7M325.3,305.1L323.4,306.8M325.3,305.1L328.0,300.3M328.0,300.3L328.4,297.8M342.0,294.0L342.2,293.0M342.2,293.0L344.8,288.3M344.8,288.3L347.6,283.6M347.6,283.6L349.9,278.8M349.9,278.8L352.5,274.0M341.6,297.0L342.0,294.0M341.6,299.1L341.6,298.3M341.6,298.3L341.6,297.0M318.9,341.2L321.2,337.9M328.3,325.2L329.3,322.2M329.3,322.2L331.8,317.4M331.8,317.4L334.7,312.8M334.7,312.8L337.8,308.3M341.7,301.4L341.6,299.1M353.2,280.8L353.8,279.7M353.8,279.7L354.2,279.0M322.1,336.6L321.2,337.9M322.1,336.6L324.8,331.9M324.8,331.9L327.6,327.2M327.6,327.2L328.3,325.2M337.9,308.2L337.8,308.3M337.9,308.2L341.0,303.5M341.0,303.5L341.7,301.4M346.7,294.7L346.9,294.2M346.9,294.2L349.0,289.3M349.0,289.3L351.2,284.5M351.2,284.5L353.2,280.8M356.4,277.4L354.2,279.0M346.0,298.1L346.7,294.7M358.7,275.5L356.4,277.4M330.0,329.0L330.3,327.9M330.3,327.9L333.1,323.1M333.1,323.1L333.5,322.7M347.4,297.9L346.0,298.1M325.9,338.6L326.3,337.7M326.3,337.7L328.5,332.8M328.5,332.8L330.0,329.0M335.3,321.9L333.5,322.7M348.0,299.1L347.4,297.9M324.1,342.5L325.9,338.6M336.5,322.0L335.3,321.9M348.0,301.5L348.1,299.9M348.1,299.9L348.0,299.1M339.1,319.6L336.5,322.0M348.8,302.2L348.0,301.5M339.4,319.3L339.1,319.6M339.4,319.3L342.6,315.6M350.2,300.4L348.8,302.2M350.2,300.4L353.3,295.8M353.3,295.8L356.1,291.1M356.1,291.1L358.6,287.1M343.5,316.3L342.6,315.6M359.1,286.4L358.6,287.1M359.1,286.4L361.5,284.1M344.0,317.6L343.5,316.3M363.0,282.0L361.5,284.1M363.0,282.0L365.9,277.3M345.3,317.6L344.0,317.6M333.3,341.2L333.9,339.5M333.9,339.5L336.2,336.0M346.9,317.0L345.3,317.6M332.5,344.6L333.3,341.2M337.4,336.3L336.2,336.0M346.7,319.6L346.9,317.0M338.4,336.7L337.4,336.3M346.7,321.9L346.2,321.0M346.2,321.0L346.7,319.6M352.1,312.2L352.3,311.7M352.3,311.7L354.5,306.9M354.5,306.9L357.4,302.2M357.4,302.2L358.3,301.2M370.0,280.4L370.6,278.5M339.6,336.8L338.4,336.7M347.8,322.1L346.7,321.9M350.6,317.2L350.7,316.7M350.7,316.7L352.1,312.2M360.2,300.1L358.3,301.2M370.6,281.6L370.0,280.4M340.6,337.3L339.6,336.8M348.8,321.6L347.8,322.1M348.8,321.6L350.6,317.2M360.6,301.6L360.2,300.1M372.7,279.0L370.6,281.6M341.0,338.7L340.6,337.3M359.9,305.1L360.4,302.9M360.4,302.9L360.6,301.6M338.2,346.0L338.6,345.4M341.2,340.8L341.0,338.7M357.6,311.4L359.1,308.0M359.1,308.0L359.9,305.1M341.3,341.4L338.6,345.4M341.3,341.4L341.2,340.8M353.8,320.5L354.2,317.6M354.2,317.6L357.1,312.9M357.1,312.9L357.6,311.4M370.0,291.6L370.6,289.3M370.6,289.3L373.4,284.6M373.4,284.6L376.4,279.9M354.4,321.6L353.8,320.5M369.4,295.0L369.4,294.4M369.4,294.4L370.0,291.6M354.9,323.2L354.8,323.1M354.8,323.1L354.4,321.6M369.8,296.5L369.4,295.0M341.8,346.9L343.5,345.7M355.9,323.5L354.9,323.2M370.2,298.0L369.8,296.5M344.1,347.0L343.5,345.7M356.2,323.5L355.9,323.5M356.2,323.5L357.8,322.5M362.7,313.7L364.4,309.3M364.4,309.3L367.1,304.6M367.1,304.6L369.6,299.8M369.6,299.8L370.2,298.0M344.1,347.4L344.1,347.0M360.3,319.1L357.8,322.5M360.3,319.1L362.5,314.2M362.5,314.2L362.7,313.7M396.8,287.0L397.7,285.1M384.3,311.4L385.4,309.1M385.4,309.1L386.9,306.8M397.9,285.2L396.8,287.0M385.1,312.4L384.3,311.4M388.6,304.5L386.9,306.8M388.6,304.5L391.9,299.9M391.9,299.9L392.8,298.6M387.3,309.5L385.1,312.4M387.3,309.5L389.9,306.0M395.7,295.4L392.8,298.6M395.7,295.4L395.9,295.4M390.8,305.0L389.9,306.0M390.8,305.0L393.2,302.3M397.2,295.3L395.9,295.4M395.1,300.7L393.2,302.3M395.1,300.7L397.3,295.8M397.3,295.8L397.2,295.3M370.3,352.4L371.3,348.8M371.3,348.8L374.4,344.1M374.4,344.1L375.5,343.1M406.0,288.6L406.1,287.2M370.6,354.0L370.3,352.4M376.1,344.2L375.5,343.1M407.5,288.3L406.0,288.6M374.0,349.4L370.6,354.0M374.0,349.4L376.0,344.5M376.0,344.5L376.1,344.2M408.1,287.7L407.5,288.3"/></g>
<path fill="none" stroke="#e2e2e2" stroke-width="0.55" d="M416.9,341.9L448.0,288.7M428.6,345.0L459.7,291.8M440.4,348.0L471.5,294.8M452.1,351.1L483.2,297.9M463.8,354.2L494.9,301.0M475.5,357.3L506.6,304.1M487.3,360.3L518.4,307.1M499.0,363.4L530.1,310.2M427.3,324.2L509.4,345.7M437.6,306.4L519.7,327.9M448.0,288.7L530.1,310.2M448.0,288.7L448.0,260.1M459.7,291.8L459.7,263.2M471.5,294.8L471.5,266.2M483.2,297.9L483.2,269.3M494.9,301.0L494.9,272.4M506.6,304.1L506.6,275.5M518.4,307.1L518.4,278.5M530.1,310.2L530.1,281.6M448.0,288.7L530.1,310.2M448.0,281.6L530.1,303.1M448.0,274.4L530.1,295.9M448.0,267.2L530.1,288.8M448.0,260.1L530.1,281.6M416.9,341.9L416.9,313.3M427.3,324.2L427.3,295.6M437.6,306.4L437.6,277.8M448.0,288.7L448.0,260.1M416.9,341.9L448.0,288.7M416.9,334.8L448.0,281.6M416.9,327.6L448.0,274.4M416.9,320.4L448.0,267.2M416.9,313.3L448.0,260.1"/>
<text x="414.30" y="343.00" font-size="3.2" text-anchor="end" fill="#666">-1</text>
<text x="414.30" y="335.85" font-size="3.2" text-anchor="end" fill="#666">0</text>
<text x="414.30" y="328.70" font-size="3.2" text-anchor="end" fill="#666">1</text>
<text x="414.30" y="321.55" font-size="3.2" text-anchor="end" fill="#666">2</text>
<text x="414.30" y="314.40" font-size="3.2" text-anchor="end" fill="#666">3</text>
<text x="415.10" y="346.90" font-size="3.2" text-anchor="middle" fill="#666">0</text>
<text x="426.83" y="349.97" font-size="3.2" text-anchor="middle" fill="#666">1</text>
<text x="438.56" y="353.04" font-size="3.2" text-anchor="middle" fill="#666">2</text>
<text x="450.29" y="356.11" font-size="3.2" text-anchor="middle" fill="#666">3</text>
<text x="462.01" y="359.19" font-size="3.2" text-anchor="middle" fill="#666">4</text>
<text x="473.74" y="362.26" font-size="3.2" text-anchor="middle" fill="#666">5</text>
<text x="485.47" y="365.33" font-size="3.2" text-anchor="middle" fill="#666">6</text>
<text x="497.20" y="368.40" font-size="3.2" text-anchor="middle" fill="#666">7</text>
<text x="501.60" y="366.00" font-size="3.2" fill="#666">0</text>
<text x="511.97" y="348.27" font-size="3.2" fill="#666">0.5</text>
<text x="522.33" y="330.53" font-size="3.2" fill="#666">1</text>
<text x="532.70" y="312.80" font-size="3.2" fill="#666">1.5</text>
<path fill="none" stroke="#9a9a9a" stroke-width="0.6" d="M416.9,341.9L416.9,313.3M416.9,341.9L499.0,363.4M499.0,363.4L530.1,310.2M415.7,341.9L416.9,341.9M415.7,334.8L416.9,334.8M415.7,327.6L416.9,327.6M415.7,320.4L416.9,320.4M415.7,313.3L416.9,313.3M416.9,341.9L416.3,342.9M428.6,345.0L428.0,346.0M440.4,348.0L439.8,349.0M452.1,351.1L451.5,352.1M463.8,354.2L463.2,355.2M475.5,357.3L474.9,358.3M487.3,360.3L486.7,361.3M499.0,363.4L498.4,364.4M499.0,363.4L500.2,363.7M509.4,345.7L510.6,346.0M519.7,327.9L520.9,328.2M530.1,310.2L531.3,310.5"/>
<g clip-path="url(#cliph)"><g filter="url(#sblur)"><g transform="matrix(82.000,16.000,22.000,-38.000,422.400,330.000)"><rect x="-0.08" y="-0.1220" width="1.1600000000000001" height="0.0729" fill="url(#gh0)"/><rect x="-0.08" y="-0.0531" width="1.1600000000000001" height="0.0729" fill="url(#gh1)"/><rect x="-0.08" y="0.0158" width="1.1600000000000001" height="0.0729" fill="url(#gh2)"/><rect x="-0.08" y="0.0847" width="1.1600000000000001" height="0.0729" fill="url(#gh3)"/><rect x="-0.08" y="0.1536" width="1.1600000000000001" height="0.0729" fill="url(#gh4)"/><rect x="-0.08" y="0.2224" width="1.1600000000000001" height="0.0729" fill="url(#gh5)"/><rect x="-0.08" y="0.2913" width="1.1600000000000001" height="0.0729" fill="url(#gh6)"/><rect x="-0.08" y="0.3602" width="1.1600000000000001" height="0.0729" fill="url(#gh7)"/><rect x="-0.08" y="0.4291" width="1.1600000000000001" height="0.0729" fill="url(#gh8)"/><rect x="-0.08" y="0.4980" width="1.1600000000000001" height="0.0729" fill="url(#gh9)"/><rect x="-0.08" y="0.5669" width="1.1600000000000001" height="0.0729" fill="url(#gh10)"/><rect x="-0.08" y="0.6358" width="1.1600000000000001" height="0.0729" fill="url(#gh11)"/><rect x="-0.08" y="0.7047" width="1.1600000000000001" height="0.0729" fill="url(#gh12)"/><rect x="-0.08" y="0.7736" width="1.1600000000000001" height="0.0729" fill="url(#gh13)"/><rect x="-0.08" y="0.8424" width="1.1600000000000001" height="0.0729" fill="url(#gh14)"/><rect x="-0.08" y="0.9113" width="1.1600000000000001" height="0.0729" fill="url(#gh15)"/><rect x="-0.08" y="0.9802" width="1.1600000000000001" height="0.0729" fill="url(#gh16)"/><rect x="-0.08" y="1.0491" width="1.1600000000000001" height="0.0729" fill="url(#gh17)"/></g></g><path fill="none" stroke="#303030" stroke-width="0.45" stroke-opacity="0.7" d="M454.9,297.8L455.3,296.5M455.3,296.5L457.4,293.2M457.4,293.2L457.7,293.0M434.0,336.2L434.6,333.7M434.6,333.7L437.0,331.1M456.2,296.7L454.9,297.8M456.2,296.7L457.6,293.3M457.6,293.3L457.7,293.0M434.5,337.4L434.0,336.2M437.4,330.5L437.0,331.1M437.4,330.5L439.6,328.9M441.3,328.1L439.6,328.9M435.8,337.7L437.4,337.1M442.1,329.1L441.3,328.1M440.1,334.8L437.4,337.1M440.1,334.8L441.9,331.4M441.9,331.4L442.1,329.1M457.0,324.0L457.3,323.1M457.3,323.1L459.3,319.8M459.3,319.8L460.6,316.3M460.6,316.3L462.5,312.9M462.5,312.9L465.1,309.7M465.1,309.7L465.5,309.3M474.8,293.2L474.9,292.9M456.4,327.3L456.3,326.7M456.3,326.7L457.0,324.0M467.6,308.0L465.5,309.3M473.3,298.1L473.6,296.4M473.6,296.4L474.8,293.2M449.7,340.4L452.0,337.1M457.7,327.3L456.4,327.3M468.8,308.1L467.6,308.0M473.2,300.5L473.0,300.0M473.0,300.0L473.3,298.1M452.0,337.1L452.0,337.1M452.0,337.1L454.9,333.9M454.9,333.9L456.2,332.2M457.8,329.4L457.7,327.3M462.9,320.6L462.9,320.5M462.9,320.5L463.1,320.3M467.0,313.5L468.2,310.3M468.2,310.3L468.8,308.1M473.7,300.1L473.2,300.5M473.7,300.1L476.2,296.9M476.2,296.9L477.8,293.4M457.3,330.7L456.2,332.2M457.3,330.7L457.8,329.4M463.3,322.2L462.9,320.6M465.1,317.2L463.1,320.3M465.1,317.2L466.9,313.8M466.9,313.8L467.0,313.5M462.4,326.1L462.9,324.2M462.9,324.2L463.3,322.2M454.2,341.3L456.1,337.9M456.1,337.9L458.3,334.6M458.3,334.6L460.2,331.2M460.2,331.2L461.7,327.8M461.7,327.8L462.4,326.1M475.3,324.3L475.5,323.0M475.5,323.0L477.9,319.7M477.9,319.7L478.1,319.4M475.1,326.9L474.8,326.6M474.8,326.6L475.3,324.3M480.4,316.4L478.1,319.4M480.4,316.4L482.2,313.0M482.2,313.0L484.6,309.7M484.6,309.7L485.8,308.5M466.3,343.6L467.7,342.0M475.6,326.7L475.1,326.9M475.6,326.7L477.5,325.1M487.3,308.1L485.8,308.5M469.3,340.5L467.7,342.0M469.3,340.5L470.1,340.2M478.8,323.6L477.5,325.1M478.8,323.6L480.9,320.3M480.9,320.3L483.4,317.0M483.4,317.0L483.5,317.0M488.4,308.6L487.3,308.1M469.0,344.2L470.1,340.6M470.1,340.6L470.1,340.2M485.1,316.5L483.5,317.0M489.2,309.4L488.4,308.6M487.5,314.7L485.1,316.5M488.4,313.2L489.2,310.7M489.2,310.7L489.2,309.4M477.2,334.7L477.3,334.5M477.3,334.5L477.3,334.5M488.0,314.2L487.5,314.7M488.0,314.2L488.4,313.2M477.4,336.7L477.2,334.7M478.9,334.2L477.3,334.5M478.7,334.8L477.4,336.7M478.7,334.8L478.9,334.2M490.9,320.3L491.4,318.6M491.4,318.6L492.7,317.1M492.2,320.3L490.9,320.3M493.5,318.0L492.7,317.1M491.5,323.8L491.7,322.4M491.7,322.4L492.2,320.3M496.0,315.7L493.5,318.0M496.0,315.7L496.4,315.4M490.6,327.6L491.0,326.0M491.0,326.0L491.5,323.8M499.0,313.2L496.4,315.4M482.1,344.6L482.5,343.1M482.5,343.1L484.1,339.6M484.1,339.6L486.4,337.2M491.2,328.9L490.6,327.6M498.0,317.2L498.3,316.2M498.3,316.2L499.0,313.2M481.9,346.7L482.1,344.6M486.3,339.5L486.4,337.2M493.0,326.4L491.2,328.9M493.0,326.4L495.1,323.0M495.1,323.0L496.9,319.6M496.9,319.6L498.0,317.2M482.5,346.8L484.4,343.4M484.4,343.4L486.1,340.0M486.1,340.0L486.3,339.5M423.7,322.1L423.7,320.4M423.7,320.4L425.9,317.0M425.9,317.0L427.6,313.6M427.6,313.6L429.6,310.3M429.6,310.3L431.6,308.4M423.6,324.5L423.4,324.0M423.4,324.0L423.7,322.1M433.1,307.2L431.6,308.4M433.1,307.2L434.4,305.8M424.2,325.7L423.6,324.5M435.6,303.9L434.4,305.8M435.6,303.9L437.8,300.6M437.8,300.6L440.0,298.4M425.3,326.0L424.2,325.7M428.9,319.8L429.0,317.6M429.0,317.6L430.6,316.9M440.9,297.5L440.0,298.4M440.9,297.5L443.2,295.1M427.1,324.8L425.3,326.0M427.1,324.8L428.8,321.3M428.8,321.3L428.9,319.8M431.9,317.0L430.6,316.9M444.4,294.4L443.2,295.1M444.4,294.4L446.3,291.0M446.3,291.0L448.1,287.6M432.8,317.6L431.9,317.0M445.2,296.4L445.4,294.6M445.4,294.6L447.4,291.3M447.4,291.3L449.8,288.0M423.0,335.2L424.9,331.8M424.9,331.8L427.5,328.6M427.5,328.6L428.5,327.5M434.0,317.9L432.8,317.6M440.3,307.0L441.1,305.0M441.1,305.0L442.7,301.6M442.7,301.6L444.4,299.9M447.1,295.0L445.2,296.4M447.1,295.0L447.6,294.5M430.9,325.5L428.5,327.5M430.9,325.5L431.0,325.4M436.4,315.3L434.0,317.9M436.4,315.3L438.6,312.0M438.6,312.0L439.8,308.5M439.8,308.5L440.3,307.0M445.7,300.0L444.4,299.9M449.3,293.8L447.6,294.5M427.5,333.7L427.9,332.4M427.9,332.4L429.8,329.0M429.8,329.0L431.0,325.5M431.0,325.5L431.0,325.4M446.9,300.2L445.7,300.0M449.6,295.6L449.5,295.4M449.5,295.4L449.3,293.8M426.6,335.9L427.5,333.7M448.6,299.0L446.9,300.2M448.6,299.0L449.6,295.6M452.6,308.7L452.8,307.3M452.8,307.3L454.4,303.9M454.4,303.9L456.6,300.5M456.6,300.5L458.9,297.8M453.3,309.7L452.6,308.7M460.3,297.6L458.9,297.8M455.0,309.1L453.3,309.7M460.9,298.9L460.3,297.6M456.4,309.0L455.0,309.1M462.5,298.0L460.9,298.9M462.5,298.0L463.4,296.9M457.9,308.3L456.4,309.0M457.9,308.3L459.6,304.9M459.6,304.9L461.0,301.4M461.0,301.4L463.7,298.6M465.7,295.1L463.4,296.9M464.0,298.2L463.7,298.6M464.0,298.2L465.7,295.1M442.6,339.0L444.7,335.7M444.7,335.7L445.3,335.0M443.3,339.1L445.1,335.8M445.1,335.8L445.3,335.0M465.9,333.8L466.3,332.4M466.3,332.4L467.1,331.6M466.4,335.2L465.9,333.8M468.8,331.0L467.1,331.6M467.8,334.9L466.4,335.2M470.1,331.0L468.8,331.0M469.4,334.5L467.8,334.9M471.3,331.3L470.1,331.0M471.2,333.4L469.4,334.5M471.2,333.4L471.3,331.3M496.4,306.1L496.5,304.6M496.5,304.6L498.9,301.3M498.9,301.3L499.4,301.0M497.3,306.9L496.4,306.1M501.3,300.0L499.4,301.0M498.9,306.3L497.3,306.9M502.1,300.9L501.3,300.0M500.0,305.3L498.9,306.3M500.0,305.3L501.9,301.9M501.9,301.9L502.1,300.9M506.8,308.8L507.8,306.8M507.8,306.8L508.7,305.5M507.0,310.7L506.8,310.3M506.8,310.3L506.8,308.8M510.1,305.4L508.7,305.5M493.4,336.5L494.0,334.1M494.0,334.1L495.6,330.6M495.6,330.6L497.6,327.3M497.6,327.3L500.1,324.0M500.1,324.0L502.1,320.7M502.1,320.7L503.3,319.4M507.3,310.4L507.0,310.7M507.3,310.4L509.4,307.1M509.4,307.1L510.1,305.4M493.7,338.2L493.7,337.7M493.7,337.7L493.4,336.5M503.2,321.9L503.3,320.9M503.3,320.9L503.3,319.4M494.7,337.9L493.7,338.2M494.7,337.9L495.3,337.8M502.8,324.9L502.7,324.5M502.7,324.5L503.2,321.9M496.6,337.9L495.3,337.8M501.9,328.7L502.1,328.1M502.1,328.1L502.8,324.9M498.7,335.0L496.6,337.9M498.7,335.0L500.6,331.6M500.6,331.6L501.9,328.7"/></g>
<line x1="454.70" y1="281.80" x2="446.79" y2="291.77" stroke="#ff1010" stroke-width="1.3"/>
<path d="M442.00,297.80 L443.81,288.77 L450.39,293.99 Z" fill="#ff1010"/>
<line x1="471.10" y1="281.80" x2="463.49" y2="291.70" stroke="#ff1010" stroke-width="1.3"/>
<path d="M458.80,297.80 L460.47,288.74 L467.13,293.86 Z" fill="#ff1010"/>
<rect x="541.20" y="256.80" width="6.50" height="113.70" fill="url(#jet)"/>
<text x="549.30" y="257.90" font-size="3.2" fill="#666">3</text>
<text x="549.30" y="272.11" font-size="3.2" fill="#666">2.5</text>
<text x="549.30" y="286.33" font-size="3.2" fill="#666">2</text>
<text x="549.30" y="300.54" font-size="3.2" fill="#666">1.5</text>
<text x="549.30" y="314.75" font-size="3.2" fill="#666">1</text>
<text x="549.30" y="328.96" font-size="3.2" fill="#666">0.5</text>
<text x="549.30" y="343.18" font-size="3.2" fill="#666">0</text>
<text x="549.30" y="357.39" font-size="3.2" fill="#666">-0.5</text>
<text x="549.30" y="371.60" font-size="3.2" fill="#666">-1</text>
</svg>
</body></html>
